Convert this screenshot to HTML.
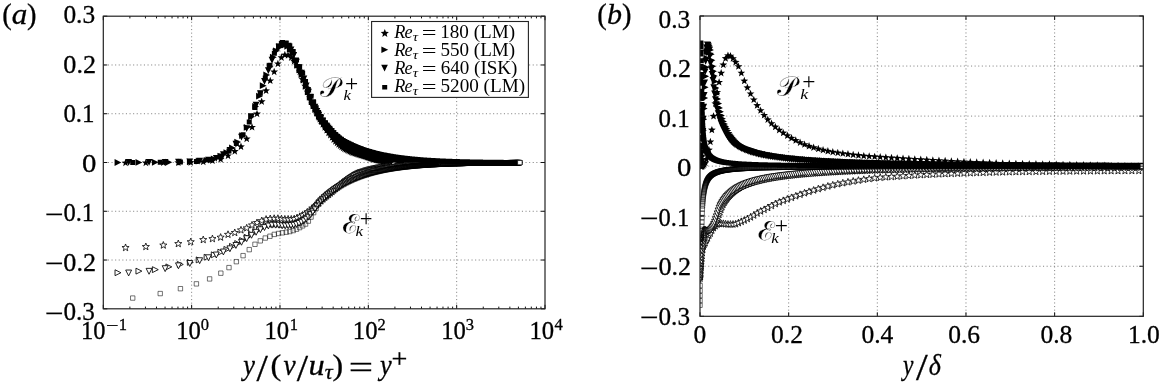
<!DOCTYPE html><html><head><meta charset="utf-8"><style>html,body{margin:0;padding:0;background:#fff;}svg{display:block}</style></head><body>
<svg width="1160" height="388" viewBox="0 0 1160 388">
<rect x="0" y="0" width="1160" height="388" fill="#fff"/>
<path d="M191.64 18.2V307.8M279.98 18.2V307.8M368.32 18.2V307.8M456.66 18.2V307.8M104.3 64.97H544.0M104.3 113.73H544.0M104.3 162.50H544.0M104.3 211.27H544.0M104.3 260.03H544.0" stroke="#7a7a7a" stroke-width="0.9" stroke-dasharray="1.1 2.5" fill="none"/>
<path d="M788.66 18.0V315.3M877.32 18.0V315.3M965.98 18.0V315.3M1054.64 18.0V315.3M701.0 66.05H1142.3M701.0 116.10H1142.3M701.0 166.15H1142.3M701.0 216.20H1142.3M701.0 266.25H1142.3" stroke="#7a7a7a" stroke-width="0.9" stroke-dasharray="1.1 2.5" fill="none"/>
<clipPath id="ca"><rect x="103.3" y="16.2" width="441.7" height="292.6"/></clipPath>
<clipPath id="cb"><rect x="700.0" y="16.0" width="443.29999999999995" height="300.3"/></clipPath>
<defs>
<path id="m1" d="M0.00 -3.38L0.93 -0.90L3.57 -0.78L1.50 0.86L2.20 3.41L0.00 1.95L-2.20 3.41L-1.50 0.86L-3.57 -0.78L-0.93 -0.90Z" fill="#fff" stroke="#000" stroke-width="0.8"/>
<path id="m2" d="M-2.95 -2.95L2.95 0.00L-2.95 2.95Z" fill="#fff" stroke="#000" stroke-width="0.85"/>
<path id="m3" d="M-2.95 -2.95L2.95 -2.95L0.00 2.95Z" fill="#fff" stroke="#000" stroke-width="0.85"/>
<path id="m4" d="M-2.20 -2.20L2.20 -2.20L2.20 2.20L-2.20 2.20Z" fill="#fff" stroke="#000" stroke-width="0.6"/>
</defs>
<g clip-path="url(#ca)">
<path d="M125.55 158.79L126.56 161.50L129.45 161.63L127.19 163.42L127.96 166.21L125.55 164.61L123.14 166.21L123.91 163.42L121.65 161.63L124.54 161.50ZM145.83 158.76L146.84 161.47L149.73 161.60L147.47 163.40L148.24 166.18L145.83 164.59L143.42 166.18L144.19 163.40L141.93 161.60L144.82 161.47ZM163.32 158.71L164.33 161.41L167.22 161.54L164.96 163.34L165.73 166.12L163.32 164.53L160.91 166.12L161.68 163.34L159.42 161.54L162.31 161.41ZM178.28 158.59L179.30 161.30L182.18 161.42L179.92 163.22L180.69 166.01L178.28 164.41L175.87 166.01L176.65 163.22L174.38 161.42L177.27 161.30ZM190.71 158.43L191.72 161.14L194.61 161.27L192.35 163.07L193.12 165.85L190.71 164.26L188.30 165.85L189.07 163.07L186.81 161.27L189.70 161.14ZM203.24 157.80L204.26 160.51L207.14 160.63L204.88 162.43L205.65 165.22L203.24 163.62L200.83 165.22L201.61 162.43L199.34 160.63L202.23 160.51ZM212.43 156.70L213.44 159.41L216.33 159.53L214.07 161.33L214.84 164.12L212.43 162.52L210.02 164.12L210.79 161.33L208.53 159.53L211.42 159.41ZM220.63 155.25L221.64 157.96L224.53 158.09L222.27 159.88L223.04 162.67L220.63 161.07L218.22 162.67L218.99 159.88L216.73 158.09L219.62 157.96ZM228.03 151.74L229.05 154.45L231.93 154.57L229.67 156.37L230.44 159.16L228.03 157.56L225.62 159.16L226.40 156.37L224.13 154.57L227.02 154.45ZM234.78 147.28L235.79 149.98L238.68 150.11L236.42 151.91L237.19 154.69L234.78 153.10L232.37 154.69L233.14 151.91L230.88 150.11L233.77 149.98ZM240.98 142.62L241.99 145.33L244.88 145.46L242.62 147.26L243.39 150.04L240.98 148.45L238.57 150.04L239.34 147.26L237.08 145.46L239.97 145.33ZM246.71 134.76L247.72 137.47L250.61 137.59L248.34 139.39L249.12 142.18L246.71 140.58L244.30 142.18L245.07 139.39L242.81 137.59L245.69 137.47ZM252.03 123.20L253.05 125.91L255.93 126.03L253.67 127.83L254.44 130.62L252.03 129.02L249.62 130.62L250.40 127.83L248.13 126.03L251.02 125.91ZM257.01 109.77L258.02 112.48L260.91 112.61L258.65 114.40L259.42 117.19L257.01 115.59L254.60 117.19L255.37 114.40L253.11 112.61L256.00 112.48ZM261.68 97.53L262.69 100.23L265.58 100.36L263.32 102.16L264.09 104.94L261.68 103.35L259.27 104.94L260.04 102.16L257.78 100.36L260.67 100.23ZM266.08 86.62L267.09 89.33L269.98 89.45L267.71 91.25L268.49 94.04L266.08 92.44L263.67 94.04L264.44 91.25L262.18 89.45L265.06 89.33ZM270.23 76.68L271.24 79.39L274.13 79.51L271.87 81.31L272.64 84.10L270.23 82.50L267.82 84.10L268.59 81.31L266.33 79.51L269.22 79.39ZM274.17 67.76L275.18 70.47L278.07 70.59L275.80 72.39L276.58 75.18L274.17 73.58L271.76 75.18L272.53 72.39L270.27 70.59L273.15 70.47ZM277.91 59.74L278.92 62.45L281.80 62.57L279.54 64.37L280.32 67.16L277.91 65.56L275.50 67.16L276.27 64.37L274.01 62.57L276.89 62.45ZM281.47 53.53L282.48 56.24L285.37 56.36L283.10 58.16L283.88 60.95L281.47 59.35L279.06 60.95L279.83 58.16L277.57 56.36L280.45 56.24ZM284.87 50.82L285.88 53.52L288.76 53.65L286.50 55.45L287.28 58.23L284.87 56.64L282.46 58.23L283.23 55.45L280.97 53.65L283.85 53.52ZM288.12 51.21L289.13 53.92L292.01 54.05L289.75 55.85L290.53 58.63L288.12 57.03L285.71 58.63L286.48 55.85L284.22 54.05L287.10 53.92ZM291.23 53.55L292.24 56.26L295.13 56.38L292.87 58.18L293.64 60.97L291.23 59.37L288.82 60.97L289.59 58.18L287.33 56.38L290.22 56.26ZM294.22 57.17L295.23 59.87L298.12 60.00L295.85 61.80L296.63 64.58L294.22 62.99L291.81 64.58L292.58 61.80L290.32 60.00L293.20 59.87ZM297.09 61.34L298.10 64.05L300.99 64.18L298.73 65.98L299.50 68.76L297.09 67.17L294.68 68.76L295.45 65.98L293.19 64.18L296.08 64.05ZM299.85 67.72L300.86 70.42L303.75 70.55L301.49 72.35L302.26 75.14L299.85 73.54L297.44 75.14L298.21 72.35L295.95 70.55L298.84 70.42ZM302.51 75.42L303.53 78.12L306.41 78.25L304.15 80.05L304.92 82.83L302.51 81.24L300.10 82.83L300.88 80.05L298.61 78.25L301.50 78.12ZM305.08 81.92L306.09 84.63L308.98 84.76L306.72 86.55L307.49 89.34L305.08 87.74L302.67 89.34L303.44 86.55L301.18 84.76L304.07 84.63ZM307.56 87.93L308.57 90.64L311.46 90.76L309.20 92.56L309.97 95.35L307.56 93.75L305.15 95.35L305.92 92.56L303.66 90.76L306.55 90.64ZM309.96 93.76L310.97 96.47L313.86 96.60L311.60 98.40L312.37 101.18L309.96 99.59L307.55 101.18L308.32 98.40L306.06 96.60L308.95 96.47ZM312.28 99.24L313.29 101.95L316.18 102.08L313.92 103.88L314.69 106.66L312.28 105.07L309.87 106.66L310.64 103.88L308.38 102.08L311.27 101.95ZM314.53 104.24L315.54 106.95L318.43 107.08L316.17 108.88L316.94 111.66L314.53 110.07L312.12 111.66L312.89 108.88L310.63 107.08L313.52 106.95ZM316.71 108.85L317.72 111.56L320.61 111.68L318.35 113.48L319.12 116.27L316.71 114.67L314.30 116.27L315.07 113.48L312.81 111.68L315.70 111.56ZM318.83 113.10L319.84 115.80L322.73 115.93L320.46 117.73L321.24 120.51L318.83 118.92L316.42 120.51L317.19 117.73L314.93 115.93L317.81 115.80ZM320.88 116.91L321.89 119.61L324.78 119.74L322.52 121.54L323.29 124.32L320.88 122.73L318.47 124.32L319.24 121.54L316.98 119.74L319.87 119.61ZM322.88 120.28L323.89 122.99L326.78 123.11L324.51 124.91L325.29 127.70L322.88 126.10L320.47 127.70L321.24 124.91L318.98 123.11L321.86 122.99ZM324.82 123.32L325.83 126.03L328.72 126.15L326.45 127.95L327.23 130.74L324.82 129.14L322.41 130.74L323.18 127.95L320.92 126.15L323.80 126.03ZM326.70 126.13L327.72 128.83L330.60 128.96L328.34 130.76L329.11 133.54L326.70 131.95L324.29 133.54L325.07 130.76L322.81 128.96L325.69 128.83ZM328.54 128.75L329.56 131.45L332.44 131.58L330.18 133.38L330.95 136.16L328.54 134.57L326.13 136.16L326.91 133.38L324.64 131.58L327.53 131.45ZM330.33 131.17L331.35 133.87L334.23 134.00L331.97 135.80L332.74 138.58L330.33 136.99L327.92 138.58L328.70 135.80L326.43 134.00L329.32 133.87ZM332.08 133.39L333.09 136.10L335.98 136.22L333.72 138.02L334.49 140.81L332.08 139.21L329.67 140.81L330.44 138.02L328.18 136.22L331.07 136.10ZM333.78 135.46L334.79 138.17L337.68 138.30L335.42 140.10L336.19 142.88L333.78 141.29L331.37 142.88L332.14 140.10L329.88 138.30L332.77 138.17ZM335.44 137.34L336.45 140.05L339.34 140.17L337.08 141.97L337.85 144.76L335.44 143.16L333.03 144.76L333.80 141.97L331.54 140.17L334.43 140.05ZM337.06 138.95L338.07 141.65L340.96 141.78L338.70 143.58L339.47 146.36L337.06 144.77L334.65 146.36L335.42 143.58L333.16 141.78L336.05 141.65ZM338.64 140.34L339.66 143.05L342.54 143.18L340.28 144.98L341.05 147.76L338.64 146.17L336.23 147.76L337.01 144.98L334.75 143.18L337.63 143.05ZM340.19 141.61L341.20 144.32L344.09 144.44L341.83 146.24L342.60 149.03L340.19 147.43L337.78 149.03L338.55 146.24L336.29 144.44L339.18 144.32ZM341.70 142.80L342.71 145.51L345.60 145.64L343.34 147.44L344.11 150.22L341.70 148.63L339.29 150.22L340.06 147.44L337.80 145.64L340.69 145.51ZM343.18 143.87L344.19 146.57L347.08 146.70L344.82 148.50L345.59 151.28L343.18 149.69L340.77 151.28L341.54 148.50L339.28 146.70L342.17 146.57ZM344.62 144.72L345.63 147.43L348.52 147.56L346.26 149.36L347.03 152.14L344.62 150.55L342.21 152.14L342.99 149.36L340.72 147.56L343.61 147.43ZM346.04 145.44L347.05 148.15L349.94 148.28L347.67 150.07L348.45 152.86L346.04 151.26L343.63 152.86L344.40 150.07L342.14 148.28L345.02 148.15ZM347.42 146.12L348.43 148.83L351.32 148.95L349.06 150.75L349.83 153.54L347.42 151.94L345.01 153.54L345.78 150.75L343.52 148.95L346.41 148.83ZM348.77 146.77L349.79 149.48L352.67 149.60L350.41 151.40L351.18 154.19L348.77 152.59L346.36 154.19L347.14 151.40L344.87 149.60L347.76 149.48ZM350.10 147.38L351.11 150.09L354.00 150.21L351.74 152.01L352.51 154.80L350.10 153.20L347.69 154.80L348.46 152.01L346.20 150.21L349.09 150.09ZM351.40 147.97L352.41 150.68L355.30 150.80L353.04 152.60L353.81 155.39L351.40 153.79L348.99 155.39L349.76 152.60L347.50 150.80L350.39 150.68ZM352.67 148.50L353.68 151.21L356.57 151.33L354.31 153.13L355.08 155.92L352.67 154.32L350.26 155.92L351.03 153.13L348.77 151.33L351.66 151.21ZM353.92 148.91L354.93 151.62L357.82 151.74L355.56 153.54L356.33 156.33L353.92 154.73L351.51 156.33L352.28 153.54L350.02 151.74L352.91 151.62ZM355.14 149.26L356.15 151.97L359.04 152.10L356.78 153.90L357.55 156.68L355.14 155.09L352.73 156.68L353.50 153.90L351.24 152.10L354.13 151.97ZM356.34 149.63L357.35 152.34L360.24 152.46L357.98 154.26L358.75 157.05L356.34 155.45L353.93 157.05L354.70 154.26L352.44 152.46L355.33 152.34ZM357.51 150.00L358.53 152.70L361.41 152.83L359.15 154.63L359.92 157.41L357.51 155.82L355.10 157.41L355.88 154.63L353.62 152.83L356.50 152.70ZM358.67 150.35L359.68 153.06L362.57 153.19L360.31 154.99L361.08 157.77L358.67 156.18L356.26 157.77L357.03 154.99L354.77 153.19L357.66 153.06ZM359.80 150.71L360.81 153.41L363.70 153.54L361.44 155.34L362.21 158.13L359.80 156.53L357.39 158.13L358.16 155.34L355.90 153.54L358.79 153.41ZM360.91 151.05L361.92 153.76L364.81 153.89L362.55 155.69L363.32 158.47L360.91 156.88L358.50 158.47L359.27 155.69L357.01 153.89L359.90 153.76ZM362.00 151.39L363.01 154.10L365.90 154.23L363.64 156.03L364.41 158.81L362.00 157.22L359.59 158.81L360.36 156.03L358.10 154.23L360.99 154.10ZM363.07 151.73L364.08 154.43L366.97 154.56L364.71 156.36L365.48 159.14L363.07 157.55L360.66 159.14L361.43 156.36L359.17 154.56L362.06 154.43ZM364.12 152.05L365.13 154.76L368.02 154.88L365.76 156.68L366.53 159.47L364.12 157.87L361.71 159.47L362.48 156.68L360.22 154.88L363.11 154.76ZM365.15 152.37L366.17 155.08L369.05 155.21L366.79 157.01L367.56 159.79L365.15 158.20L362.74 159.79L363.52 157.01L361.25 155.21L364.14 155.08ZM366.17 152.70L367.18 155.41L370.07 155.53L367.81 157.33L368.58 160.12L366.17 158.52L363.76 160.12L364.53 157.33L362.27 155.53L365.16 155.41ZM367.16 153.03L368.18 155.73L371.06 155.86L368.80 157.66L369.57 160.44L367.16 158.85L364.75 160.44L365.53 157.66L363.26 155.86L366.15 155.73ZM368.14 153.35L369.15 156.05L372.04 156.18L369.78 157.98L370.55 160.76L368.14 159.17L365.73 160.76L366.50 157.98L364.24 156.18L367.13 156.05ZM369.10 153.66L370.12 156.37L373.00 156.49L370.74 158.29L371.51 161.08L369.10 159.48L366.69 161.08L367.47 158.29L365.20 156.49L368.09 156.37ZM370.05 153.96L371.06 156.67L373.95 156.80L371.69 158.60L372.46 161.38L370.05 159.79L367.64 161.38L368.41 158.60L366.15 156.80L369.04 156.67ZM370.98 154.26L371.99 156.97L374.88 157.09L372.62 158.89L373.39 161.68L370.98 160.08L368.57 161.68L369.34 158.89L367.08 157.09L369.97 156.97ZM371.89 154.54L372.90 157.25L375.79 157.37L373.53 159.17L374.30 161.96L371.89 160.36L369.48 161.96L370.25 159.17L367.99 157.37L370.88 157.25ZM372.79 154.81L373.80 157.52L376.69 157.64L374.43 159.44L375.20 162.23L372.79 160.63L370.38 162.23L371.15 159.44L368.89 157.64L371.78 157.52ZM373.67 155.06L374.68 157.77L377.57 157.89L375.31 159.69L376.08 162.48L373.67 160.88L371.26 162.48L372.03 159.69L369.77 157.89L372.66 157.77ZM374.54 155.30L375.55 158.00L378.44 158.13L376.18 159.93L376.95 162.71L374.54 161.12L372.13 162.71L372.90 159.93L370.64 158.13L373.53 158.00ZM375.39 155.51L376.41 158.22L379.29 158.35L377.03 160.15L377.80 162.93L375.39 161.34L372.98 162.93L373.76 160.15L371.49 158.35L374.38 158.22ZM376.23 155.71L377.25 158.42L380.13 158.55L377.87 160.35L378.64 163.13L376.23 161.54L373.82 163.13L374.60 160.35L372.33 158.55L375.22 158.42ZM377.06 155.90L378.07 158.60L380.96 158.73L378.70 160.53L379.47 163.31L377.06 161.72L374.65 163.31L375.42 160.53L373.16 158.73L376.05 158.60ZM377.87 156.06L378.88 158.77L381.77 158.90L379.51 160.70L380.28 163.48L377.87 161.89L375.46 163.48L376.23 160.70L373.97 158.90L376.86 158.77ZM378.67 156.22L379.68 158.93L382.57 159.05L380.31 160.85L381.08 163.64L378.67 162.04L376.26 163.64L377.03 160.85L374.77 159.05L377.66 158.93ZM379.46 156.37L380.47 159.07L383.36 159.20L381.10 161.00L381.87 163.78L379.46 162.19L377.05 163.78L377.82 161.00L375.56 159.20L378.45 159.07ZM380.23 156.51L381.24 159.21L384.13 159.34L381.87 161.14L382.64 163.92L380.23 162.33L377.82 163.92L378.59 161.14L376.33 159.34L379.22 159.21ZM380.99 156.64L382.01 159.35L384.89 159.47L382.63 161.27L383.40 164.06L380.99 162.46L378.58 164.06L379.36 161.27L377.09 159.47L379.98 159.35ZM381.74 156.77L382.76 159.48L385.64 159.61L383.38 161.40L384.15 164.19L381.74 162.59L379.33 164.19L380.11 161.40L377.84 159.61L380.73 159.48ZM382.48 156.90L383.49 159.61L386.38 159.74L384.12 161.54L384.89 164.32L382.48 162.73L380.07 164.32L380.84 161.54L378.58 159.74L381.47 159.61ZM383.21 157.03L384.22 159.74L387.11 159.87L384.84 161.67L385.62 164.45L383.21 162.86L380.80 164.45L381.57 161.67L379.31 159.87L382.19 159.74ZM383.92 157.17L384.93 159.88L387.82 160.00L385.56 161.80L386.33 164.59L383.92 162.99L381.51 164.59L382.28 161.80L380.02 160.00L382.91 159.88ZM384.62 157.31L385.64 160.01L388.52 160.14L386.26 161.94L387.03 164.72L384.62 163.13L382.21 164.72L382.99 161.94L380.72 160.14L383.61 160.01ZM385.32 157.45L386.33 160.15L389.22 160.28L386.95 162.08L387.73 164.86L385.32 163.27L382.91 164.86L383.68 162.08L381.42 160.28L384.30 160.15ZM386.00 157.59L387.01 160.30L389.90 160.43L387.64 162.23L388.41 165.01L386.00 163.41L383.59 165.01L384.36 162.23L382.10 160.43L384.99 160.30ZM386.67 157.74L387.68 160.45L390.57 160.58L388.31 162.38L389.08 165.16L386.67 163.57L384.26 165.16L385.03 162.38L382.77 160.58L385.66 160.45ZM387.33 157.90L388.34 160.61L391.23 160.73L388.97 162.53L389.74 165.32L387.33 163.72L384.92 165.32L385.69 162.53L383.43 160.73L386.32 160.61ZM387.98 158.06L388.99 160.77L391.88 160.89L389.62 162.69L390.39 165.48L387.98 163.88L385.57 165.48L386.34 162.69L384.08 160.89L386.97 160.77ZM388.62 158.22L389.63 160.93L392.52 161.05L390.26 162.85L391.03 165.64L388.62 164.04L386.21 165.64L386.98 162.85L384.72 161.05L387.61 160.93ZM389.25 158.38L390.26 161.09L393.15 161.21L390.89 163.01L391.66 165.80L389.25 164.20L386.84 165.80L387.61 163.01L385.35 161.21L388.24 161.09ZM389.87 158.54L390.88 161.25L393.77 161.38L391.51 163.18L392.28 165.96L389.87 164.37L387.46 165.96L388.23 163.18L385.97 161.38L388.86 161.25ZM390.48 158.71L391.49 161.41L394.38 161.54L392.12 163.34L392.89 166.12L390.48 164.53L388.07 166.12L388.84 163.34L386.58 161.54L389.47 161.41Z" fill="#000"/>
<use href="#m1" x="125.55" y="247.35"/><use href="#m1" x="145.83" y="246.38"/><use href="#m1" x="163.32" y="244.91"/><use href="#m1" x="178.28" y="243.42"/><use href="#m1" x="190.71" y="241.55"/><use href="#m1" x="203.24" y="239.43"/><use href="#m1" x="212.43" y="238.46"/><use href="#m1" x="220.63" y="237.00"/><use href="#m1" x="228.03" y="234.19"/><use href="#m1" x="234.78" y="232.37"/><use href="#m1" x="240.98" y="229.73"/><use href="#m1" x="246.71" y="227.71"/><use href="#m1" x="252.03" y="224.79"/><use href="#m1" x="257.01" y="222.37"/><use href="#m1" x="261.68" y="220.51"/><use href="#m1" x="266.08" y="218.98"/><use href="#m1" x="270.23" y="218.38"/><use href="#m1" x="274.17" y="218.15"/><use href="#m1" x="277.91" y="218.13"/><use href="#m1" x="281.47" y="218.56"/><use href="#m1" x="284.87" y="218.83"/><use href="#m1" x="288.12" y="218.83"/><use href="#m1" x="291.23" y="218.83"/><use href="#m1" x="294.22" y="218.56"/><use href="#m1" x="297.09" y="217.49"/><use href="#m1" x="299.85" y="216.22"/><use href="#m1" x="302.51" y="214.96"/><use href="#m1" x="305.08" y="213.51"/><use href="#m1" x="307.56" y="211.92"/><use href="#m1" x="309.96" y="210.06"/><use href="#m1" x="312.28" y="207.98"/><use href="#m1" x="314.53" y="206.11"/><use href="#m1" x="316.71" y="204.52"/><use href="#m1" x="318.83" y="202.70"/><use href="#m1" x="320.88" y="200.77"/><use href="#m1" x="322.88" y="198.91"/><use href="#m1" x="324.82" y="197.25"/><use href="#m1" x="326.70" y="195.76"/><use href="#m1" x="328.54" y="194.32"/><use href="#m1" x="330.33" y="192.85"/><use href="#m1" x="332.08" y="191.34"/><use href="#m1" x="333.78" y="189.83"/><use href="#m1" x="335.44" y="188.39"/><use href="#m1" x="337.06" y="187.02"/><use href="#m1" x="338.64" y="185.68"/><use href="#m1" x="340.19" y="184.35"/><use href="#m1" x="341.70" y="183.03"/><use href="#m1" x="343.18" y="181.78"/><use href="#m1" x="344.62" y="180.64"/><use href="#m1" x="346.04" y="179.60"/><use href="#m1" x="347.42" y="178.63"/><use href="#m1" x="348.77" y="177.73"/><use href="#m1" x="350.10" y="176.88"/><use href="#m1" x="351.40" y="176.04"/><use href="#m1" x="352.67" y="175.23"/><use href="#m1" x="353.92" y="174.49"/><use href="#m1" x="355.14" y="173.81"/><use href="#m1" x="356.34" y="173.25"/><use href="#m1" x="357.51" y="172.85"/><use href="#m1" x="358.67" y="172.52"/><use href="#m1" x="359.80" y="172.18"/><use href="#m1" x="360.91" y="171.80"/><use href="#m1" x="362.00" y="171.41"/><use href="#m1" x="363.07" y="171.05"/><use href="#m1" x="364.12" y="170.73"/><use href="#m1" x="365.15" y="170.45"/><use href="#m1" x="366.17" y="170.19"/><use href="#m1" x="367.16" y="169.94"/><use href="#m1" x="368.14" y="169.71"/><use href="#m1" x="369.10" y="169.49"/><use href="#m1" x="370.05" y="169.28"/><use href="#m1" x="370.98" y="169.08"/><use href="#m1" x="371.89" y="168.88"/><use href="#m1" x="372.79" y="168.68"/><use href="#m1" x="373.67" y="168.49"/><use href="#m1" x="374.54" y="168.31"/><use href="#m1" x="375.39" y="168.15"/><use href="#m1" x="376.23" y="168.00"/><use href="#m1" x="377.06" y="167.88"/><use href="#m1" x="377.87" y="167.77"/><use href="#m1" x="378.67" y="167.67"/><use href="#m1" x="379.46" y="167.58"/><use href="#m1" x="380.23" y="167.50"/><use href="#m1" x="380.99" y="167.42"/><use href="#m1" x="381.74" y="167.35"/><use href="#m1" x="382.48" y="167.28"/><use href="#m1" x="383.21" y="167.22"/><use href="#m1" x="383.92" y="167.16"/><use href="#m1" x="384.62" y="167.10"/><use href="#m1" x="385.32" y="167.04"/><use href="#m1" x="386.00" y="166.99"/><use href="#m1" x="386.67" y="166.93"/><use href="#m1" x="387.33" y="166.88"/><use href="#m1" x="387.98" y="166.83"/><use href="#m1" x="388.62" y="166.79"/><use href="#m1" x="389.25" y="166.75"/><use href="#m1" x="389.87" y="166.71"/><use href="#m1" x="390.48" y="166.67"/>
<path d="M114.58 159.08L121.38 162.48L114.58 165.88ZM135.51 159.03L142.31 162.43L135.51 165.83ZM151.93 158.96L158.73 162.36L151.93 165.76ZM165.44 158.83L172.24 162.23L165.44 165.63ZM176.93 158.64L183.73 162.04L176.93 165.44ZM186.92 158.41L193.72 161.81L186.92 165.21ZM195.76 157.80L202.56 161.20L195.76 164.60ZM203.68 156.88L210.48 160.28L203.68 163.68ZM210.86 155.61L217.66 159.01L210.86 162.41ZM217.43 152.70L224.23 156.10L217.43 159.50ZM223.47 149.20L230.27 152.60L223.47 156.00ZM229.07 144.50L235.87 147.90L229.07 151.30ZM234.29 138.71L241.09 142.11L234.29 145.51ZM239.18 132.21L245.98 135.61L239.18 139.01ZM243.77 124.06L250.57 127.46L243.77 130.86ZM248.11 113.33L254.91 116.73L248.11 120.13ZM252.21 103.04L259.01 106.44L252.21 109.84ZM256.10 92.80L262.90 96.20L256.10 99.60ZM259.80 82.26L266.60 85.66L259.80 89.06ZM263.33 71.55L270.13 74.95L263.33 78.35ZM266.71 62.77L273.51 66.17L266.71 69.57ZM269.94 53.78L276.74 57.18L269.94 60.58ZM273.04 47.43L279.84 50.83L273.04 54.23ZM276.02 43.59L282.82 46.99L276.02 50.39ZM278.88 41.33L285.68 44.73L278.88 48.13ZM281.65 41.68L288.45 45.08L281.65 48.48ZM284.31 42.89L291.11 46.29L284.31 49.69ZM286.88 45.83L293.68 49.23L286.88 52.63ZM289.37 50.04L296.17 53.44L289.37 56.84ZM291.79 56.01L298.59 59.41L291.79 62.81ZM294.12 61.74L300.92 65.14L294.12 68.54ZM296.39 66.52L303.19 69.92L296.39 73.32ZM298.59 71.22L305.39 74.62L298.59 78.02ZM300.73 76.60L307.53 80.00L300.73 83.40ZM302.81 82.97L309.61 86.37L302.81 89.77ZM304.83 88.54L311.63 91.94L304.83 95.34ZM306.80 93.60L313.60 97.00L306.80 100.40ZM308.72 98.11L315.52 101.51L308.72 104.91ZM310.59 102.33L317.39 105.73L310.59 109.13ZM312.42 106.21L319.22 109.61L312.42 113.01ZM314.20 109.73L321.00 113.13L314.20 116.53ZM315.94 112.85L322.74 116.25L315.94 119.65ZM317.65 115.61L324.45 119.01L317.65 122.41ZM319.31 118.12L326.11 121.52L319.31 124.92ZM320.94 120.42L327.74 123.82L320.94 127.22ZM322.53 122.53L329.33 125.93L322.53 129.33ZM324.09 124.47L330.89 127.87L324.09 131.27ZM325.62 126.27L332.42 129.67L325.62 133.07ZM327.11 127.98L333.91 131.38L327.11 134.78ZM328.58 129.61L335.38 133.01L328.58 136.41ZM330.02 131.14L336.82 134.54L330.02 137.94ZM331.43 132.57L338.23 135.97L331.43 139.37ZM332.82 133.90L339.62 137.30L332.82 140.70ZM334.18 135.11L340.98 138.51L334.18 141.91ZM335.51 136.19L342.31 139.59L335.51 142.99ZM336.82 137.16L343.62 140.56L336.82 143.96ZM338.11 138.04L344.91 141.44L338.11 144.84ZM339.37 138.86L346.17 142.26L339.37 145.66ZM340.62 139.62L347.42 143.02L340.62 146.42ZM341.84 140.34L348.64 143.74L341.84 147.14ZM343.04 141.01L349.84 144.41L343.04 147.81ZM344.23 141.64L351.03 145.04L344.23 148.44ZM345.39 142.24L352.19 145.64L345.39 149.04ZM346.54 142.81L353.34 146.21L346.54 149.61ZM347.67 143.35L354.47 146.75L347.67 150.15ZM348.78 143.86L355.58 147.26L348.78 150.66ZM349.87 144.36L356.67 147.76L349.87 151.16ZM350.95 144.83L357.75 148.23L350.95 151.63ZM352.01 145.29L358.81 148.69L352.01 152.09ZM353.06 145.73L359.86 149.13L353.06 152.53ZM354.09 146.16L360.89 149.56L354.09 152.96ZM355.10 146.57L361.90 149.97L355.10 153.37ZM356.11 146.96L362.91 150.36L356.11 153.76ZM357.09 147.33L363.89 150.73L357.09 154.13ZM358.07 147.70L364.87 151.10L358.07 154.50ZM359.03 148.04L365.83 151.44L359.03 154.84ZM359.98 148.37L366.78 151.77L359.98 155.17ZM360.92 148.69L367.72 152.09L360.92 155.49ZM361.84 148.99L368.64 152.39L361.84 155.79ZM362.75 149.27L369.55 152.67L362.75 156.07ZM363.65 149.54L370.45 152.94L363.65 156.34ZM364.54 149.80L371.34 153.20L364.54 156.60ZM365.42 150.06L372.22 153.46L365.42 156.86ZM366.28 150.31L373.08 153.71L366.28 157.11ZM367.14 150.55L373.94 153.95L367.14 157.35ZM367.98 150.79L374.78 154.19L367.98 157.59ZM368.82 151.01L375.62 154.41L368.82 157.81ZM369.65 151.23L376.45 154.63L369.65 158.03ZM370.46 151.45L377.26 154.85L370.46 158.25ZM371.27 151.65L378.07 155.05L371.27 158.45ZM372.06 151.85L378.86 155.25L372.06 158.65ZM372.85 152.04L379.65 155.44L372.85 158.84ZM373.63 152.23L380.43 155.63L373.63 159.03ZM374.40 152.41L381.20 155.81L374.40 159.21ZM375.16 152.59L381.96 155.99L375.16 159.39ZM375.91 152.76L382.71 156.16L375.91 159.56ZM376.66 152.92L383.46 156.32L376.66 159.72ZM377.39 153.08L384.19 156.48L377.39 159.88ZM378.12 153.24L384.92 156.64L378.12 160.04ZM378.84 153.39L385.64 156.79L378.84 160.19ZM379.55 153.53L386.35 156.93L379.55 160.33ZM380.26 153.67L387.06 157.07L380.26 160.47ZM380.96 153.81L387.76 157.21L380.96 160.61ZM381.65 153.95L388.45 157.35L381.65 160.75ZM382.33 154.08L389.13 157.48L382.33 160.88ZM383.00 154.20L389.80 157.60L383.00 161.00ZM383.67 154.33L390.47 157.73L383.67 161.13ZM384.34 154.45L391.14 157.85L384.34 161.25ZM384.99 154.56L391.79 157.96L384.99 161.36ZM385.64 154.67L392.44 158.07L385.64 161.47ZM386.28 154.78L393.08 158.18L386.28 161.58ZM386.92 154.89L393.72 158.29L386.92 161.69ZM387.55 155.00L394.35 158.40L387.55 161.80ZM388.17 155.10L394.97 158.50L388.17 161.90ZM388.79 155.20L395.59 158.60L388.79 162.00ZM389.40 155.29L396.20 158.69L389.40 162.09ZM390.01 155.39L396.81 158.79L390.01 162.19ZM390.61 155.48L397.41 158.88L390.61 162.28ZM391.21 155.57L398.01 158.97L391.21 162.37ZM391.80 155.66L398.60 159.06L391.80 162.46ZM392.38 155.74L399.18 159.14L392.38 162.54ZM392.96 155.82L399.76 159.22L392.96 162.62ZM393.53 155.91L400.33 159.31L393.53 162.71ZM394.10 155.98L400.90 159.38L394.10 162.78ZM394.66 156.06L401.46 159.46L394.66 162.86ZM395.22 156.14L402.02 159.54L395.22 162.94ZM395.77 156.21L402.57 159.61L395.77 163.01ZM396.32 156.28L403.12 159.68L396.32 163.08ZM396.86 156.35L403.66 159.75L396.86 163.15ZM397.40 156.42L404.20 159.82L397.40 163.22ZM397.93 156.49L404.73 159.89L397.93 163.29ZM398.46 156.55L405.26 159.95L398.46 163.35ZM398.98 156.62L405.78 160.02L398.98 163.42ZM399.50 156.68L406.30 160.08L399.50 163.48ZM400.02 156.74L406.82 160.14L400.02 163.54ZM400.53 156.80L407.33 160.20L400.53 163.60ZM401.03 156.86L407.83 160.26L401.03 163.66ZM401.54 156.92L408.34 160.32L401.54 163.72ZM402.03 156.97L408.83 160.37L402.03 163.77ZM402.53 157.03L409.33 160.43L402.53 163.83ZM403.02 157.08L409.82 160.48L403.02 163.88ZM403.50 157.13L410.30 160.53L403.50 163.93ZM403.98 157.18L410.78 160.58L403.98 163.98ZM404.46 157.23L411.26 160.63L404.46 164.03ZM404.93 157.28L411.73 160.68L404.93 164.08ZM405.40 157.33L412.20 160.73L405.40 164.13ZM405.87 157.38L412.67 160.78L405.87 164.18ZM406.33 157.42L413.13 160.82L406.33 164.22ZM406.79 157.47L413.59 160.87L406.79 164.27ZM407.24 157.51L414.04 160.91L407.24 164.31ZM407.69 157.55L414.49 160.95L407.69 164.35ZM408.14 157.60L414.94 161.00L408.14 164.40ZM408.58 157.64L415.38 161.04L408.58 164.44ZM409.02 157.68L415.82 161.08L409.02 164.48ZM409.45 157.72L416.25 161.12L409.45 164.52ZM409.89 157.76L416.69 161.16L409.89 164.56ZM410.32 157.80L417.12 161.20L410.32 164.60ZM410.74 157.83L417.54 161.23L410.74 164.63ZM411.16 157.87L417.96 161.27L411.16 164.67ZM411.58 157.91L418.38 161.31L411.58 164.71ZM412.00 157.94L418.80 161.34L412.00 164.74ZM412.41 157.98L419.21 161.38L412.41 164.78ZM412.82 158.01L419.62 161.41L412.82 164.81ZM413.23 158.04L420.03 161.44L413.23 164.84ZM413.63 158.08L420.43 161.48L413.63 164.88ZM414.03 158.11L420.83 161.51L414.03 164.91ZM414.43 158.14L421.23 161.54L414.43 164.94ZM414.82 158.17L421.62 161.57L414.82 164.97ZM415.21 158.20L422.01 161.60L415.21 165.00ZM415.60 158.23L422.40 161.63L415.60 165.03ZM415.99 158.26L422.79 161.66L415.99 165.06ZM416.37 158.29L423.17 161.69L416.37 165.09ZM416.75 158.32L423.55 161.72L416.75 165.12ZM417.12 158.34L423.92 161.74L417.12 165.14ZM417.50 158.37L424.30 161.77L417.50 165.17ZM417.87 158.40L424.67 161.80L417.87 165.20ZM418.23 158.42L425.03 161.82L418.23 165.22ZM418.60 158.45L425.40 161.85L418.60 165.25ZM418.96 158.47L425.76 161.87L418.96 165.27ZM419.32 158.50L426.12 161.90L419.32 165.30ZM419.68 158.52L426.48 161.92L419.68 165.32ZM420.03 158.55L426.83 161.95L420.03 165.35ZM420.38 158.57L427.18 161.97L420.38 165.37ZM420.73 158.59L427.53 161.99L420.73 165.39ZM421.08 158.61L427.88 162.01L421.08 165.41ZM421.42 158.64L428.22 162.04L421.42 165.44ZM421.76 158.66L428.56 162.06L421.76 165.46ZM422.10 158.68L428.90 162.08L422.10 165.48ZM422.44 158.70L429.24 162.10L422.44 165.50ZM422.77 158.72L429.57 162.12L422.77 165.52ZM423.11 158.74L429.91 162.14L423.11 165.54ZM423.43 158.76L430.23 162.16L423.43 165.56ZM423.76 158.78L430.56 162.18L423.76 165.58ZM424.09 158.80L430.89 162.20L424.09 165.60ZM424.41 158.81L431.21 162.21L424.41 165.61ZM424.73 158.83L431.53 162.23L424.73 165.63ZM425.04 158.85L431.84 162.25L425.04 165.65ZM425.36 158.87L432.16 162.27L425.36 165.67ZM425.67 158.88L432.47 162.28L425.67 165.68ZM425.98 158.90L432.78 162.30L425.98 165.70ZM426.29 158.92L433.09 162.32L426.29 165.72ZM426.60 158.93L433.40 162.33L426.60 165.73ZM426.90 158.95L433.70 162.35L426.90 165.75ZM427.20 158.96L434.00 162.36L427.20 165.76ZM427.50 158.98L434.30 162.38L427.50 165.78ZM427.80 158.99L434.60 162.39L427.80 165.79ZM428.09 159.01L434.89 162.41L428.09 165.81ZM428.38 159.02L435.18 162.42L428.38 165.82ZM428.68 159.03L435.48 162.43L428.68 165.83ZM428.96 159.05L435.76 162.45L428.96 165.85ZM429.25 159.06L436.05 162.46L429.25 165.86ZM429.54 159.07L436.34 162.47L429.54 165.87ZM429.82 159.08L436.62 162.48L429.82 165.88ZM430.10 159.09L436.90 162.49L430.10 165.89Z" fill="#000"/>
<use href="#m2" x="117.98" y="272.72"/><use href="#m2" x="138.91" y="271.13"/><use href="#m2" x="155.33" y="269.65"/><use href="#m2" x="168.84" y="266.89"/><use href="#m2" x="180.33" y="264.44"/><use href="#m2" x="190.32" y="262.38"/><use href="#m2" x="199.16" y="259.88"/><use href="#m2" x="207.08" y="257.20"/><use href="#m2" x="214.26" y="254.80"/><use href="#m2" x="220.83" y="252.15"/><use href="#m2" x="226.87" y="249.40"/><use href="#m2" x="232.47" y="246.38"/><use href="#m2" x="237.69" y="243.54"/><use href="#m2" x="242.58" y="240.55"/><use href="#m2" x="247.17" y="237.31"/><use href="#m2" x="251.51" y="234.32"/><use href="#m2" x="255.61" y="231.60"/><use href="#m2" x="259.50" y="229.22"/><use href="#m2" x="263.20" y="227.20"/><use href="#m2" x="266.73" y="225.56"/><use href="#m2" x="270.11" y="224.50"/><use href="#m2" x="273.34" y="224.19"/><use href="#m2" x="276.44" y="224.19"/><use href="#m2" x="279.42" y="224.29"/><use href="#m2" x="282.28" y="224.84"/><use href="#m2" x="285.05" y="224.90"/><use href="#m2" x="287.71" y="224.79"/><use href="#m2" x="290.28" y="224.61"/><use href="#m2" x="292.77" y="224.37"/><use href="#m2" x="295.19" y="223.84"/><use href="#m2" x="297.52" y="223.02"/><use href="#m2" x="299.79" y="222.10"/><use href="#m2" x="301.99" y="221.03"/><use href="#m2" x="304.13" y="219.72"/><use href="#m2" x="306.21" y="218.27"/><use href="#m2" x="308.23" y="216.59"/><use href="#m2" x="310.20" y="214.52"/><use href="#m2" x="312.12" y="212.20"/><use href="#m2" x="313.99" y="209.78"/><use href="#m2" x="315.82" y="207.33"/><use href="#m2" x="317.60" y="204.91"/><use href="#m2" x="319.34" y="202.56"/><use href="#m2" x="321.05" y="200.75"/><use href="#m2" x="322.71" y="199.18"/><use href="#m2" x="324.34" y="197.70"/><use href="#m2" x="325.93" y="196.30"/><use href="#m2" x="327.49" y="194.98"/><use href="#m2" x="329.02" y="193.74"/><use href="#m2" x="330.51" y="192.56"/><use href="#m2" x="331.98" y="191.45"/><use href="#m2" x="333.42" y="190.40"/><use href="#m2" x="334.83" y="189.40"/><use href="#m2" x="336.22" y="188.45"/><use href="#m2" x="337.58" y="187.55"/><use href="#m2" x="338.91" y="186.70"/><use href="#m2" x="340.22" y="185.88"/><use href="#m2" x="341.51" y="185.11"/><use href="#m2" x="342.77" y="184.37"/><use href="#m2" x="344.02" y="183.67"/><use href="#m2" x="345.24" y="183.00"/><use href="#m2" x="346.44" y="182.36"/><use href="#m2" x="347.63" y="181.74"/><use href="#m2" x="348.79" y="181.16"/><use href="#m2" x="349.94" y="180.60"/><use href="#m2" x="351.07" y="180.06"/><use href="#m2" x="352.18" y="179.54"/><use href="#m2" x="353.27" y="179.05"/><use href="#m2" x="354.35" y="178.57"/><use href="#m2" x="355.41" y="178.12"/><use href="#m2" x="356.46" y="177.68"/><use href="#m2" x="357.49" y="177.26"/><use href="#m2" x="358.50" y="176.85"/><use href="#m2" x="359.51" y="176.46"/><use href="#m2" x="360.49" y="176.08"/><use href="#m2" x="361.47" y="175.72"/><use href="#m2" x="362.43" y="175.37"/><use href="#m2" x="363.38" y="175.04"/><use href="#m2" x="364.32" y="174.71"/><use href="#m2" x="365.24" y="174.40"/><use href="#m2" x="366.15" y="174.10"/><use href="#m2" x="367.05" y="173.80"/><use href="#m2" x="367.94" y="173.52"/><use href="#m2" x="368.82" y="173.25"/><use href="#m2" x="369.68" y="172.99"/><use href="#m2" x="370.54" y="172.73"/><use href="#m2" x="371.38" y="172.48"/><use href="#m2" x="372.22" y="172.25"/><use href="#m2" x="373.05" y="172.01"/><use href="#m2" x="373.86" y="171.79"/><use href="#m2" x="374.67" y="171.57"/><use href="#m2" x="375.46" y="171.36"/><use href="#m2" x="376.25" y="171.15"/><use href="#m2" x="377.03" y="170.95"/><use href="#m2" x="377.80" y="170.75"/><use href="#m2" x="378.56" y="170.56"/><use href="#m2" x="379.31" y="170.38"/><use href="#m2" x="380.06" y="170.20"/><use href="#m2" x="380.79" y="170.02"/><use href="#m2" x="381.52" y="169.85"/><use href="#m2" x="382.24" y="169.69"/><use href="#m2" x="382.95" y="169.53"/><use href="#m2" x="383.66" y="169.37"/><use href="#m2" x="384.36" y="169.22"/><use href="#m2" x="385.05" y="169.08"/><use href="#m2" x="385.73" y="168.93"/><use href="#m2" x="386.40" y="168.80"/><use href="#m2" x="387.07" y="168.66"/><use href="#m2" x="387.74" y="168.53"/><use href="#m2" x="388.39" y="168.41"/><use href="#m2" x="389.04" y="168.28"/><use href="#m2" x="389.68" y="168.16"/><use href="#m2" x="390.32" y="168.05"/><use href="#m2" x="390.95" y="167.93"/><use href="#m2" x="391.57" y="167.82"/><use href="#m2" x="392.19" y="167.71"/><use href="#m2" x="392.80" y="167.61"/><use href="#m2" x="393.41" y="167.50"/><use href="#m2" x="394.01" y="167.40"/><use href="#m2" x="394.61" y="167.30"/><use href="#m2" x="395.20" y="167.21"/><use href="#m2" x="395.78" y="167.12"/><use href="#m2" x="396.36" y="167.02"/><use href="#m2" x="396.93" y="166.94"/><use href="#m2" x="397.50" y="166.85"/><use href="#m2" x="398.06" y="166.77"/><use href="#m2" x="398.62" y="166.68"/><use href="#m2" x="399.17" y="166.60"/><use href="#m2" x="399.72" y="166.53"/><use href="#m2" x="400.26" y="166.45"/><use href="#m2" x="400.80" y="166.38"/><use href="#m2" x="401.33" y="166.31"/><use href="#m2" x="401.86" y="166.24"/><use href="#m2" x="402.38" y="166.17"/><use href="#m2" x="402.90" y="166.11"/><use href="#m2" x="403.42" y="166.04"/><use href="#m2" x="403.93" y="165.98"/><use href="#m2" x="404.43" y="165.92"/><use href="#m2" x="404.94" y="165.86"/><use href="#m2" x="405.43" y="165.80"/><use href="#m2" x="405.93" y="165.75"/><use href="#m2" x="406.42" y="165.69"/><use href="#m2" x="406.90" y="165.64"/><use href="#m2" x="407.38" y="165.59"/><use href="#m2" x="407.86" y="165.54"/><use href="#m2" x="408.33" y="165.49"/><use href="#m2" x="408.80" y="165.44"/><use href="#m2" x="409.27" y="165.39"/><use href="#m2" x="409.73" y="165.34"/><use href="#m2" x="410.19" y="165.30"/><use href="#m2" x="410.64" y="165.25"/><use href="#m2" x="411.09" y="165.21"/><use href="#m2" x="411.54" y="165.17"/><use href="#m2" x="411.98" y="165.13"/><use href="#m2" x="412.42" y="165.09"/><use href="#m2" x="412.85" y="165.05"/><use href="#m2" x="413.29" y="165.01"/><use href="#m2" x="413.72" y="164.97"/><use href="#m2" x="414.14" y="164.94"/><use href="#m2" x="414.56" y="164.90"/><use href="#m2" x="414.98" y="164.87"/><use href="#m2" x="415.40" y="164.83"/><use href="#m2" x="415.81" y="164.80"/><use href="#m2" x="416.22" y="164.77"/><use href="#m2" x="416.63" y="164.74"/><use href="#m2" x="417.03" y="164.70"/><use href="#m2" x="417.43" y="164.67"/><use href="#m2" x="417.83" y="164.64"/><use href="#m2" x="418.22" y="164.61"/><use href="#m2" x="418.61" y="164.59"/><use href="#m2" x="419.00" y="164.56"/><use href="#m2" x="419.39" y="164.53"/><use href="#m2" x="419.77" y="164.50"/><use href="#m2" x="420.15" y="164.48"/><use href="#m2" x="420.52" y="164.45"/><use href="#m2" x="420.90" y="164.43"/><use href="#m2" x="421.27" y="164.40"/><use href="#m2" x="421.63" y="164.38"/><use href="#m2" x="422.00" y="164.35"/><use href="#m2" x="422.36" y="164.33"/><use href="#m2" x="422.72" y="164.31"/><use href="#m2" x="423.08" y="164.29"/><use href="#m2" x="423.43" y="164.27"/><use href="#m2" x="423.78" y="164.25"/><use href="#m2" x="424.13" y="164.23"/><use href="#m2" x="424.48" y="164.21"/><use href="#m2" x="424.82" y="164.19"/><use href="#m2" x="425.16" y="164.17"/><use href="#m2" x="425.50" y="164.15"/><use href="#m2" x="425.84" y="164.14"/><use href="#m2" x="426.17" y="164.12"/><use href="#m2" x="426.51" y="164.10"/><use href="#m2" x="426.83" y="164.09"/><use href="#m2" x="427.16" y="164.07"/><use href="#m2" x="427.49" y="164.05"/><use href="#m2" x="427.81" y="164.04"/><use href="#m2" x="428.13" y="164.02"/><use href="#m2" x="428.44" y="164.01"/><use href="#m2" x="428.76" y="163.99"/><use href="#m2" x="429.07" y="163.98"/><use href="#m2" x="429.38" y="163.97"/><use href="#m2" x="429.69" y="163.95"/><use href="#m2" x="430.00" y="163.94"/><use href="#m2" x="430.30" y="163.93"/><use href="#m2" x="430.60" y="163.91"/><use href="#m2" x="430.90" y="163.90"/><use href="#m2" x="431.20" y="163.89"/><use href="#m2" x="431.49" y="163.88"/><use href="#m2" x="431.78" y="163.86"/><use href="#m2" x="432.08" y="163.85"/><use href="#m2" x="432.36" y="163.84"/><use href="#m2" x="432.65" y="163.83"/><use href="#m2" x="432.94" y="163.82"/><use href="#m2" x="433.22" y="163.81"/><use href="#m2" x="433.50" y="163.80"/>
<path d="M125.23 159.06L132.03 159.06L128.63 165.86ZM145.65 159.00L152.45 159.00L149.05 165.80ZM161.76 158.88L168.56 158.88L165.16 165.68ZM175.07 158.68L181.87 158.68L178.47 165.48ZM186.40 158.42L193.20 158.42L189.80 165.22ZM196.27 157.74L203.07 157.74L199.67 164.54ZM205.02 156.70L211.82 156.70L208.42 163.50ZM212.87 154.93L219.67 154.93L216.27 161.73ZM219.99 151.32L226.79 151.32L223.39 158.12ZM226.50 146.94L233.30 146.94L229.90 153.74ZM232.50 140.76L239.30 140.76L235.90 147.56ZM238.07 133.77L244.87 133.77L241.47 140.57ZM243.26 125.16L250.06 125.16L246.66 131.96ZM248.12 113.24L254.92 113.24L251.52 120.04ZM252.68 101.72L259.48 101.72L256.08 108.52ZM256.99 90.24L263.79 90.24L260.39 97.04ZM261.07 78.06L267.87 78.06L264.47 84.86ZM264.95 67.18L271.75 67.18L268.35 73.98ZM268.63 56.87L275.43 56.87L272.03 63.67ZM272.15 48.73L278.95 48.73L275.55 55.53ZM275.51 43.87L282.31 43.87L278.91 50.67ZM278.73 41.02L285.53 41.02L282.13 47.82ZM281.82 41.35L288.62 41.35L285.22 48.15ZM284.78 42.87L291.58 42.87L288.18 49.67ZM287.64 46.51L294.44 46.51L291.04 53.31ZM290.39 51.97L297.19 51.97L293.79 58.77ZM293.05 58.80L299.85 58.80L296.45 65.60ZM295.61 64.47L302.41 64.47L299.01 71.27ZM298.10 69.67L304.90 69.67L301.50 76.47ZM300.50 75.48L307.30 75.48L303.90 82.28ZM302.83 82.59L309.63 82.59L306.23 89.39ZM305.09 88.80L311.89 88.80L308.49 95.60ZM307.28 94.34L314.08 94.34L310.68 101.14ZM309.41 99.29L316.21 99.29L312.81 106.09ZM311.49 103.86L318.29 103.86L314.89 110.66ZM313.50 108.00L320.30 108.00L316.90 114.80ZM315.47 111.65L322.27 111.65L318.87 118.45ZM317.38 114.82L324.18 114.82L320.78 121.62ZM319.25 117.66L326.05 117.66L322.65 124.46ZM321.07 120.24L327.87 120.24L324.47 127.04ZM322.85 122.57L329.65 122.57L326.25 129.37ZM324.59 124.71L331.39 124.71L327.99 131.51ZM326.29 126.68L333.09 126.68L329.69 133.48ZM327.94 128.56L334.74 128.56L331.34 135.36ZM329.57 130.32L336.37 130.32L332.97 137.12ZM331.16 131.96L337.96 131.96L334.56 138.76ZM332.71 133.47L339.51 133.47L336.11 140.27ZM334.24 134.83L341.04 134.83L337.64 141.63ZM335.73 136.04L342.53 136.04L339.13 142.84ZM337.19 137.09L343.99 137.09L340.59 143.89ZM338.63 138.05L345.43 138.05L342.03 144.85ZM340.03 138.94L346.83 138.94L343.43 145.74ZM341.42 139.77L348.22 139.77L344.82 146.57ZM342.77 140.54L349.57 140.54L346.17 147.34ZM344.10 141.26L350.90 141.26L347.50 148.06ZM345.41 141.93L352.21 141.93L348.81 148.73ZM346.69 142.57L353.49 142.57L350.09 149.37ZM347.96 143.17L354.76 143.17L351.36 149.97ZM349.20 143.74L356.00 143.74L352.60 150.54ZM350.42 144.28L357.22 144.28L353.82 151.08ZM351.62 144.80L358.42 144.80L355.02 151.60ZM352.80 145.30L359.60 145.30L356.20 152.10ZM353.96 145.79L360.76 145.79L357.36 152.59ZM355.10 146.25L361.90 146.25L358.50 153.05ZM356.22 146.69L363.02 146.69L359.62 153.49ZM357.33 147.11L364.13 147.11L360.73 153.91ZM358.42 147.51L365.22 147.51L361.82 154.31ZM359.50 147.89L366.30 147.89L362.90 154.69ZM360.56 148.25L367.36 148.25L363.96 155.05ZM361.60 148.59L368.40 148.59L365.00 155.39ZM362.63 148.92L369.43 148.92L366.03 155.72ZM363.64 149.23L370.44 149.23L367.04 156.03ZM364.64 149.51L371.44 149.51L368.04 156.31ZM365.62 149.80L372.42 149.80L369.02 156.60ZM366.60 150.08L373.40 150.08L370.00 156.88ZM367.55 150.35L374.35 150.35L370.95 157.15ZM368.50 150.61L375.30 150.61L371.90 157.41ZM369.43 150.86L376.23 150.86L372.83 157.66ZM370.35 151.10L377.15 151.10L373.75 157.90ZM371.26 151.34L378.06 151.34L374.66 158.14ZM372.16 151.56L378.96 151.56L375.56 158.36ZM373.04 151.78L379.84 151.78L376.44 158.58ZM373.92 151.98L380.72 151.98L377.32 158.78ZM374.78 152.19L381.58 152.19L378.18 158.99ZM375.64 152.38L382.44 152.38L379.04 159.18ZM376.48 152.57L383.28 152.57L379.88 159.37ZM377.31 152.75L384.11 152.75L380.71 159.55ZM378.13 152.92L384.93 152.92L381.53 159.72ZM378.94 153.09L385.74 153.09L382.34 159.89ZM379.75 153.26L386.55 153.26L383.15 160.06ZM380.54 153.42L387.34 153.42L383.94 160.22ZM381.32 153.57L388.12 153.57L384.72 160.37ZM382.10 153.72L388.90 153.72L385.50 160.52ZM382.87 153.86L389.67 153.86L386.27 160.66ZM383.62 154.00L390.42 154.00L387.02 160.80ZM384.37 154.14L391.17 154.14L387.77 160.94ZM385.11 154.27L391.91 154.27L388.51 161.07ZM385.85 154.40L392.65 154.40L389.25 161.20ZM386.57 154.52L393.37 154.52L389.97 161.32ZM387.29 154.64L394.09 154.64L390.69 161.44ZM388.00 154.76L394.80 154.76L391.40 161.56ZM388.70 154.87L395.50 154.87L392.10 161.67ZM389.39 154.98L396.19 154.98L392.79 161.78ZM390.08 155.09L396.88 155.09L393.48 161.89ZM390.76 155.19L397.56 155.19L394.16 161.99ZM391.43 155.29L398.23 155.29L394.83 162.09ZM392.10 155.39L398.90 155.39L395.50 162.19ZM392.76 155.49L399.56 155.49L396.16 162.29ZM393.41 155.58L400.21 155.58L396.81 162.38ZM394.06 155.67L400.86 155.67L397.46 162.47ZM394.70 155.76L401.50 155.76L398.10 162.56ZM395.33 155.84L402.13 155.84L398.73 162.64ZM395.96 155.93L402.76 155.93L399.36 162.73ZM396.58 156.01L403.38 156.01L399.98 162.81ZM397.19 156.09L403.99 156.09L400.59 162.89ZM397.80 156.16L404.60 156.16L401.20 162.96ZM398.40 156.24L405.20 156.24L401.80 163.04ZM399.00 156.31L405.80 156.31L402.40 163.11ZM399.59 156.38L406.39 156.38L402.99 163.18ZM400.18 156.45L406.98 156.45L403.58 163.25ZM400.76 156.52L407.56 156.52L404.16 163.32ZM401.33 156.59L408.13 156.59L404.73 163.39ZM401.90 156.65L408.70 156.65L405.30 163.45ZM402.46 156.72L409.26 156.72L405.86 163.52ZM403.02 156.78L409.82 156.78L406.42 163.58ZM403.58 156.84L410.38 156.84L406.98 163.64ZM404.13 156.90L410.93 156.90L407.53 163.70ZM404.67 156.95L411.47 156.95L408.07 163.75ZM405.21 157.01L412.01 157.01L408.61 163.81ZM405.74 157.06L412.54 157.06L409.14 163.86ZM406.27 157.12L413.07 157.12L409.67 163.92ZM406.80 157.17L413.60 157.17L410.20 163.97ZM407.32 157.22L414.12 157.22L410.72 164.02ZM407.83 157.27L414.63 157.27L411.23 164.07ZM408.34 157.32L415.14 157.32L411.74 164.12ZM408.85 157.37L415.65 157.37L412.25 164.17ZM409.35 157.41L416.15 157.41L412.75 164.21ZM409.85 157.46L416.65 157.46L413.25 164.26ZM410.34 157.50L417.14 157.50L413.74 164.30ZM410.83 157.54L417.63 157.54L414.23 164.34ZM411.32 157.59L418.12 157.59L414.72 164.39ZM411.80 157.63L418.60 157.63L415.20 164.43ZM412.28 157.67L419.08 157.67L415.68 164.47ZM412.75 157.71L419.55 157.71L416.15 164.51ZM413.22 157.75L420.02 157.75L416.62 164.55ZM413.68 157.79L420.48 157.79L417.08 164.59ZM414.14 157.82L420.94 157.82L417.54 164.62ZM414.60 157.86L421.40 157.86L418.00 164.66ZM415.05 157.90L421.85 157.90L418.45 164.70ZM415.50 157.93L422.30 157.93L418.90 164.73ZM415.95 157.97L422.75 157.97L419.35 164.77ZM416.39 158.00L423.19 158.00L419.79 164.80ZM416.83 158.03L423.63 158.03L420.23 164.83ZM417.27 158.06L424.07 158.06L420.67 164.86ZM417.70 158.10L424.50 158.10L421.10 164.90ZM418.13 158.13L424.93 158.13L421.53 164.93ZM418.55 158.16L425.35 158.16L421.95 164.96ZM418.97 158.19L425.77 158.19L422.37 164.99ZM419.39 158.22L426.19 158.22L422.79 165.02ZM419.81 158.25L426.61 158.25L423.21 165.05ZM420.22 158.27L427.02 158.27L423.62 165.07ZM420.62 158.30L427.42 158.30L424.02 165.10ZM421.03 158.33L427.83 158.33L424.43 165.13ZM421.43 158.35L428.23 158.35L424.83 165.15ZM421.83 158.38L428.63 158.38L425.23 165.18ZM422.22 158.41L429.02 158.41L425.62 165.21ZM422.62 158.43L429.42 158.43L426.02 165.23ZM423.01 158.45L429.81 158.45L426.41 165.25ZM423.39 158.48L430.19 158.48L426.79 165.28ZM423.78 158.50L430.58 158.50L427.18 165.30ZM424.16 158.52L430.96 158.52L427.56 165.32ZM424.53 158.55L431.33 158.55L427.93 165.35ZM424.91 158.57L431.71 158.57L428.31 165.37ZM425.28 158.59L432.08 158.59L428.68 165.39ZM425.65 158.61L432.45 158.61L429.05 165.41ZM426.01 158.63L432.81 158.63L429.41 165.43ZM426.38 158.65L433.18 158.65L429.78 165.45ZM426.74 158.67L433.54 158.67L430.14 165.47ZM427.09 158.69L433.89 158.69L430.49 165.49ZM427.45 158.71L434.25 158.71L430.85 165.51ZM427.80 158.73L434.60 158.73L431.20 165.53ZM428.15 158.75L434.95 158.75L431.55 165.55ZM428.50 158.77L435.30 158.77L431.90 165.57ZM428.84 158.79L435.64 158.79L432.24 165.59ZM429.18 158.80L435.98 158.80L432.58 165.60ZM429.52 158.82L436.32 158.82L432.92 165.62ZM429.86 158.84L436.66 158.84L433.26 165.64ZM430.19 158.85L436.99 158.85L433.59 165.65ZM430.52 158.87L437.32 158.87L433.92 165.67ZM430.85 158.88L437.65 158.88L434.25 165.68ZM431.18 158.90L437.98 158.90L434.58 165.70ZM431.50 158.91L438.30 158.91L434.90 165.71ZM431.82 158.93L438.62 158.93L435.22 165.73ZM432.14 158.94L438.94 158.94L435.54 165.74ZM432.46 158.96L439.26 158.96L435.86 165.76ZM432.77 158.97L439.57 158.97L436.17 165.77ZM433.08 158.99L439.88 158.99L436.48 165.79ZM433.39 159.00L440.19 159.00L436.79 165.80ZM433.70 159.01L440.50 159.01L437.10 165.81ZM434.00 159.02L440.80 159.02L437.40 165.82ZM434.31 159.04L441.11 159.04L437.71 165.84ZM434.61 159.05L441.41 159.05L438.01 165.85ZM434.90 159.06L441.70 159.06L438.30 165.86ZM435.20 159.07L442.00 159.07L438.60 165.87ZM435.49 159.08L442.29 159.08L438.89 165.88ZM435.79 159.09L442.59 159.09L439.19 165.89ZM436.07 159.10L442.87 159.10L439.47 165.90Z" fill="#000"/>
<use href="#m3" x="128.63" y="272.97"/><use href="#m3" x="149.05" y="271.31"/><use href="#m3" x="165.16" y="268.64"/><use href="#m3" x="178.47" y="265.81"/><use href="#m3" x="189.80" y="263.48"/><use href="#m3" x="199.67" y="260.69"/><use href="#m3" x="208.42" y="257.73"/><use href="#m3" x="216.27" y="255.01"/><use href="#m3" x="223.39" y="252.00"/><use href="#m3" x="229.90" y="248.80"/><use href="#m3" x="235.90" y="245.47"/><use href="#m3" x="241.47" y="242.28"/><use href="#m3" x="246.66" y="238.65"/><use href="#m3" x="251.52" y="235.29"/><use href="#m3" x="256.08" y="232.27"/><use href="#m3" x="260.39" y="229.67"/><use href="#m3" x="264.47" y="227.52"/><use href="#m3" x="268.35" y="226.00"/><use href="#m3" x="272.03" y="225.17"/><use href="#m3" x="275.55" y="225.17"/><use href="#m3" x="278.91" y="225.20"/><use href="#m3" x="282.13" y="225.79"/><use href="#m3" x="285.22" y="225.87"/><use href="#m3" x="288.18" y="225.74"/><use href="#m3" x="291.04" y="225.52"/><use href="#m3" x="293.79" y="225.17"/><use href="#m3" x="296.45" y="224.40"/><use href="#m3" x="299.01" y="223.40"/><use href="#m3" x="301.50" y="222.28"/><use href="#m3" x="303.90" y="220.84"/><use href="#m3" x="306.23" y="219.23"/><use href="#m3" x="308.49" y="217.18"/><use href="#m3" x="310.68" y="214.65"/><use href="#m3" x="312.81" y="211.87"/><use href="#m3" x="314.89" y="209.00"/><use href="#m3" x="316.90" y="206.13"/><use href="#m3" x="318.87" y="203.34"/><use href="#m3" x="320.78" y="201.10"/><use href="#m3" x="322.65" y="199.32"/><use href="#m3" x="324.47" y="197.67"/><use href="#m3" x="326.25" y="196.12"/><use href="#m3" x="327.99" y="194.67"/><use href="#m3" x="329.69" y="193.31"/><use href="#m3" x="331.34" y="192.03"/><use href="#m3" x="332.97" y="190.82"/><use href="#m3" x="334.56" y="189.69"/><use href="#m3" x="336.11" y="188.62"/><use href="#m3" x="337.64" y="187.62"/><use href="#m3" x="339.13" y="186.66"/><use href="#m3" x="340.59" y="185.76"/><use href="#m3" x="342.03" y="184.91"/><use href="#m3" x="343.43" y="184.10"/><use href="#m3" x="344.82" y="183.34"/><use href="#m3" x="346.17" y="182.61"/><use href="#m3" x="347.50" y="181.92"/><use href="#m3" x="348.81" y="181.26"/><use href="#m3" x="350.09" y="180.64"/><use href="#m3" x="351.36" y="180.04"/><use href="#m3" x="352.60" y="179.47"/><use href="#m3" x="353.82" y="178.93"/><use href="#m3" x="355.02" y="178.41"/><use href="#m3" x="356.20" y="177.92"/><use href="#m3" x="357.36" y="177.44"/><use href="#m3" x="358.50" y="176.99"/><use href="#m3" x="359.62" y="176.56"/><use href="#m3" x="360.73" y="176.14"/><use href="#m3" x="361.82" y="175.74"/><use href="#m3" x="362.90" y="175.36"/><use href="#m3" x="363.96" y="174.99"/><use href="#m3" x="365.00" y="174.64"/><use href="#m3" x="366.03" y="174.30"/><use href="#m3" x="367.04" y="173.97"/><use href="#m3" x="368.04" y="173.65"/><use href="#m3" x="369.02" y="173.35"/><use href="#m3" x="370.00" y="173.06"/><use href="#m3" x="370.95" y="172.78"/><use href="#m3" x="371.90" y="172.51"/><use href="#m3" x="372.83" y="172.24"/><use href="#m3" x="373.75" y="171.99"/><use href="#m3" x="374.66" y="171.75"/><use href="#m3" x="375.56" y="171.51"/><use href="#m3" x="376.44" y="171.29"/><use href="#m3" x="377.32" y="171.07"/><use href="#m3" x="378.18" y="170.85"/><use href="#m3" x="379.04" y="170.65"/><use href="#m3" x="379.88" y="170.45"/><use href="#m3" x="380.71" y="170.25"/><use href="#m3" x="381.53" y="170.07"/><use href="#m3" x="382.34" y="169.88"/><use href="#m3" x="383.15" y="169.71"/><use href="#m3" x="383.94" y="169.53"/><use href="#m3" x="384.72" y="169.37"/><use href="#m3" x="385.50" y="169.20"/><use href="#m3" x="386.27" y="169.04"/><use href="#m3" x="387.02" y="168.89"/><use href="#m3" x="387.77" y="168.74"/><use href="#m3" x="388.51" y="168.60"/><use href="#m3" x="389.25" y="168.46"/><use href="#m3" x="389.97" y="168.32"/><use href="#m3" x="390.69" y="168.19"/><use href="#m3" x="391.40" y="168.06"/><use href="#m3" x="392.10" y="167.94"/><use href="#m3" x="392.79" y="167.82"/><use href="#m3" x="393.48" y="167.70"/><use href="#m3" x="394.16" y="167.59"/><use href="#m3" x="394.83" y="167.48"/><use href="#m3" x="395.50" y="167.37"/><use href="#m3" x="396.16" y="167.27"/><use href="#m3" x="396.81" y="167.17"/><use href="#m3" x="397.46" y="167.07"/><use href="#m3" x="398.10" y="166.97"/><use href="#m3" x="398.73" y="166.88"/><use href="#m3" x="399.36" y="166.78"/><use href="#m3" x="399.98" y="166.70"/><use href="#m3" x="400.59" y="166.61"/><use href="#m3" x="401.20" y="166.52"/><use href="#m3" x="401.80" y="166.44"/><use href="#m3" x="402.40" y="166.36"/><use href="#m3" x="402.99" y="166.28"/><use href="#m3" x="403.58" y="166.21"/><use href="#m3" x="404.16" y="166.13"/><use href="#m3" x="404.73" y="166.06"/><use href="#m3" x="405.30" y="165.99"/><use href="#m3" x="405.86" y="165.92"/><use href="#m3" x="406.42" y="165.86"/><use href="#m3" x="406.98" y="165.79"/><use href="#m3" x="407.53" y="165.73"/><use href="#m3" x="408.07" y="165.67"/><use href="#m3" x="408.61" y="165.61"/><use href="#m3" x="409.14" y="165.56"/><use href="#m3" x="409.67" y="165.50"/><use href="#m3" x="410.20" y="165.45"/><use href="#m3" x="410.72" y="165.39"/><use href="#m3" x="411.23" y="165.34"/><use href="#m3" x="411.74" y="165.29"/><use href="#m3" x="412.25" y="165.24"/><use href="#m3" x="412.75" y="165.20"/><use href="#m3" x="413.25" y="165.15"/><use href="#m3" x="413.74" y="165.10"/><use href="#m3" x="414.23" y="165.06"/><use href="#m3" x="414.72" y="165.02"/><use href="#m3" x="415.20" y="164.97"/><use href="#m3" x="415.68" y="164.93"/><use href="#m3" x="416.15" y="164.89"/><use href="#m3" x="416.62" y="164.85"/><use href="#m3" x="417.08" y="164.82"/><use href="#m3" x="417.54" y="164.78"/><use href="#m3" x="418.00" y="164.74"/><use href="#m3" x="418.45" y="164.71"/><use href="#m3" x="418.90" y="164.67"/><use href="#m3" x="419.35" y="164.64"/><use href="#m3" x="419.79" y="164.61"/><use href="#m3" x="420.23" y="164.58"/><use href="#m3" x="420.67" y="164.55"/><use href="#m3" x="421.10" y="164.52"/><use href="#m3" x="421.53" y="164.49"/><use href="#m3" x="421.95" y="164.46"/><use href="#m3" x="422.37" y="164.43"/><use href="#m3" x="422.79" y="164.40"/><use href="#m3" x="423.21" y="164.37"/><use href="#m3" x="423.62" y="164.35"/><use href="#m3" x="424.02" y="164.32"/><use href="#m3" x="424.43" y="164.29"/><use href="#m3" x="424.83" y="164.27"/><use href="#m3" x="425.23" y="164.24"/><use href="#m3" x="425.62" y="164.22"/><use href="#m3" x="426.02" y="164.20"/><use href="#m3" x="426.41" y="164.17"/><use href="#m3" x="426.79" y="164.15"/><use href="#m3" x="427.18" y="164.13"/><use href="#m3" x="427.56" y="164.11"/><use href="#m3" x="427.93" y="164.09"/><use href="#m3" x="428.31" y="164.07"/><use href="#m3" x="428.68" y="164.05"/><use href="#m3" x="429.05" y="164.03"/><use href="#m3" x="429.41" y="164.01"/><use href="#m3" x="429.78" y="163.99"/><use href="#m3" x="430.14" y="163.97"/><use href="#m3" x="430.49" y="163.96"/><use href="#m3" x="430.85" y="163.94"/><use href="#m3" x="431.20" y="163.93"/><use href="#m3" x="431.55" y="163.91"/><use href="#m3" x="431.90" y="163.90"/><use href="#m3" x="432.24" y="163.88"/><use href="#m3" x="432.58" y="163.87"/><use href="#m3" x="432.92" y="163.85"/><use href="#m3" x="433.26" y="163.84"/><use href="#m3" x="433.59" y="163.82"/><use href="#m3" x="433.92" y="163.81"/><use href="#m3" x="434.25" y="163.80"/><use href="#m3" x="434.58" y="163.78"/><use href="#m3" x="434.90" y="163.77"/><use href="#m3" x="435.22" y="163.76"/><use href="#m3" x="435.54" y="163.75"/><use href="#m3" x="435.86" y="163.74"/><use href="#m3" x="436.17" y="163.72"/><use href="#m3" x="436.48" y="163.71"/><use href="#m3" x="436.79" y="163.70"/><use href="#m3" x="437.10" y="163.69"/><use href="#m3" x="437.40" y="163.68"/><use href="#m3" x="437.71" y="163.67"/><use href="#m3" x="438.01" y="163.66"/><use href="#m3" x="438.30" y="163.65"/><use href="#m3" x="438.60" y="163.64"/><use href="#m3" x="438.89" y="163.63"/><use href="#m3" x="439.19" y="163.62"/><use href="#m3" x="439.47" y="163.61"/>
<path d="M130.22 159.95L135.22 159.95L135.22 164.95L130.22 164.95ZM157.72 159.83L162.72 159.83L162.72 164.83L157.72 164.83ZM177.92 159.54L182.92 159.54L182.92 164.54L177.92 164.54ZM193.90 158.97L198.90 158.97L198.90 163.97L193.90 163.97ZM207.12 157.41L212.12 157.41L212.12 162.41L207.12 162.41ZM218.33 153.57L223.33 153.57L223.33 158.57L218.33 158.57ZM226.48 148.53L231.48 148.53L231.48 153.53L226.48 153.53ZM233.85 141.06L238.85 141.06L238.85 146.06L233.85 146.06ZM240.57 132.19L245.57 132.19L245.57 137.19L240.57 137.19ZM246.75 119.59L251.75 119.59L251.75 124.59L246.75 124.59ZM252.47 105.07L257.47 105.07L257.47 110.07L252.47 110.07ZM257.79 90.80L262.79 90.80L262.79 95.80L257.79 95.80ZM262.77 75.61L267.77 75.61L267.77 80.61L262.77 80.61ZM267.44 62.79L272.44 62.79L272.44 67.79L267.44 67.79ZM271.84 50.71L276.84 50.71L276.84 55.71L271.84 55.71ZM276.01 43.58L281.01 43.58L281.01 48.58L276.01 48.58ZM279.96 39.89L284.96 39.89L284.96 44.89L279.96 44.89ZM283.71 40.51L288.71 40.51L288.71 45.51L283.71 45.51ZM287.29 43.35L292.29 43.35L292.29 48.35L287.29 48.35ZM290.72 49.12L295.72 49.12L295.72 54.12L290.72 54.12ZM293.99 57.42L298.99 57.42L298.99 62.42L293.99 62.42ZM297.13 64.23L302.13 64.23L302.13 69.23L297.13 69.23ZM300.15 70.76L305.15 70.76L305.15 75.76L300.15 75.76ZM303.05 79.10L308.05 79.10L308.05 84.10L303.05 84.10ZM305.85 87.01L310.85 87.01L310.85 92.01L305.85 92.01ZM308.54 93.85L313.54 93.85L313.54 98.85L308.54 98.85ZM311.15 99.88L316.15 99.88L316.15 104.88L311.15 104.88ZM313.67 105.31L318.67 105.31L318.67 110.31L313.67 110.31ZM316.11 110.03L321.11 110.03L321.11 115.03L316.11 115.03ZM318.48 114.00L323.48 114.00L323.48 119.00L318.48 119.00ZM320.77 117.47L325.77 117.47L325.77 122.47L320.77 122.47ZM323.00 120.55L328.00 120.55L328.00 125.55L323.00 125.55ZM325.16 123.29L330.16 123.29L330.16 128.29L325.16 128.29ZM327.27 125.78L332.27 125.78L332.27 130.78L327.27 130.78ZM329.31 128.11L334.31 128.11L334.31 133.11L329.31 133.11ZM331.31 130.27L336.31 130.27L336.31 135.27L331.31 135.27ZM333.25 132.23L338.25 132.23L338.25 137.23L333.25 137.23ZM335.15 133.96L340.15 133.96L340.15 138.96L335.15 138.96ZM337.00 135.46L342.00 135.46L342.00 140.46L337.00 140.46ZM338.80 136.73L343.80 136.73L343.80 141.73L338.80 141.73ZM340.57 137.88L345.57 137.88L345.57 142.88L340.57 142.88ZM342.29 138.92L347.29 138.92L347.29 143.92L342.29 143.92ZM343.98 139.88L348.98 139.88L348.98 144.88L343.98 144.88ZM345.63 140.76L350.63 140.76L350.63 145.76L345.63 145.76ZM347.24 141.57L352.24 141.57L352.24 146.57L347.24 146.57ZM348.82 142.33L353.82 142.33L353.82 147.33L348.82 147.33ZM350.37 143.04L355.37 143.04L355.37 148.04L350.37 148.04ZM351.89 143.71L356.89 143.71L356.89 148.71L351.89 148.71ZM353.38 144.35L358.38 144.35L358.38 149.35L353.38 149.35ZM354.84 144.96L359.84 144.96L359.84 149.96L354.84 149.96ZM356.27 145.54L361.27 145.54L361.27 150.54L356.27 150.54ZM357.68 146.09L362.68 146.09L362.68 151.09L357.68 151.09ZM359.06 146.60L364.06 146.60L364.06 151.60L359.06 151.60ZM360.42 147.09L365.42 147.09L365.42 152.09L360.42 152.09ZM361.75 147.54L366.75 147.54L366.75 152.54L361.75 152.54ZM363.06 147.97L368.06 147.97L368.06 152.97L363.06 152.97ZM364.35 148.36L369.35 148.36L369.35 153.36L364.35 153.36ZM365.61 148.72L370.61 148.72L370.61 153.72L365.61 153.72ZM366.86 149.09L371.86 149.09L371.86 154.09L366.86 154.09ZM368.08 149.44L373.08 149.44L373.08 154.44L368.08 154.44ZM369.29 149.77L374.29 149.77L374.29 154.77L369.29 154.77ZM370.48 150.09L375.48 150.09L375.48 155.09L370.48 155.09ZM371.64 150.40L376.64 150.40L376.64 155.40L371.64 155.40ZM372.79 150.69L377.79 150.69L377.79 155.69L372.79 155.69ZM373.93 150.97L378.93 150.97L378.93 155.97L373.93 155.97ZM375.05 151.23L380.05 151.23L380.05 156.23L375.05 156.23ZM376.15 151.49L381.15 151.49L381.15 156.49L376.15 156.49ZM377.23 151.73L382.23 151.73L382.23 156.73L377.23 156.73ZM378.30 151.96L383.30 151.96L383.30 156.96L378.30 156.96ZM379.36 152.19L384.36 152.19L384.36 157.19L379.36 157.19ZM380.40 152.40L385.40 152.40L385.40 157.40L380.40 157.40ZM381.42 152.61L386.42 152.61L386.42 157.61L381.42 157.61ZM382.43 152.81L387.43 152.81L387.43 157.81L382.43 157.81ZM383.43 153.00L388.43 153.00L388.43 158.00L383.43 158.00ZM384.42 153.18L389.42 153.18L389.42 158.18L384.42 158.18ZM385.39 153.36L390.39 153.36L390.39 158.36L385.39 158.36ZM386.35 153.53L391.35 153.53L391.35 158.53L386.35 158.53ZM387.30 153.70L392.30 153.70L392.30 158.70L387.30 158.70ZM388.24 153.85L393.24 153.85L393.24 158.85L388.24 158.85ZM389.16 154.01L394.16 154.01L394.16 159.01L389.16 159.01ZM390.08 154.15L395.08 154.15L395.08 159.15L390.08 159.15ZM390.98 154.29L395.98 154.29L395.98 159.29L390.98 159.29ZM391.87 154.43L396.87 154.43L396.87 159.43L391.87 159.43ZM392.76 154.56L397.76 154.56L397.76 159.56L392.76 159.56ZM393.63 154.69L398.63 154.69L398.63 159.69L393.63 159.69ZM394.49 154.81L399.49 154.81L399.49 159.81L394.49 159.81ZM395.34 154.93L400.34 154.93L400.34 159.93L395.34 159.93ZM396.19 155.05L401.19 155.05L401.19 160.05L396.19 160.05ZM397.02 155.16L402.02 155.16L402.02 160.16L397.02 160.16ZM397.84 155.27L402.84 155.27L402.84 160.27L397.84 160.27ZM398.66 155.37L403.66 155.37L403.66 160.37L398.66 160.37ZM399.46 155.47L404.46 155.47L404.46 160.47L399.46 160.47ZM400.26 155.57L405.26 155.57L405.26 160.57L400.26 160.57ZM401.05 155.67L406.05 155.67L406.05 160.67L401.05 160.67ZM401.83 155.76L406.83 155.76L406.83 160.76L401.83 160.76ZM402.61 155.85L407.61 155.85L407.61 160.85L402.61 160.85ZM403.37 155.94L408.37 155.94L408.37 160.94L403.37 160.94ZM404.13 156.02L409.13 156.02L409.13 161.02L404.13 161.02ZM404.88 156.10L409.88 156.10L409.88 161.10L404.88 161.10ZM405.62 156.18L410.62 156.18L410.62 161.18L405.62 161.18ZM406.36 156.26L411.36 156.26L411.36 161.26L406.36 161.26ZM407.08 156.33L412.08 156.33L412.08 161.33L407.08 161.33ZM407.80 156.41L412.80 156.41L412.80 161.41L407.80 161.41ZM408.52 156.48L413.52 156.48L413.52 161.48L408.52 161.48ZM409.23 156.54L414.23 156.54L414.23 161.54L409.23 161.54ZM409.93 156.61L414.93 156.61L414.93 161.61L409.93 161.61ZM410.62 156.68L415.62 156.68L415.62 161.68L410.62 161.68ZM411.31 156.74L416.31 156.74L416.31 161.74L411.31 161.74ZM411.99 156.80L416.99 156.80L416.99 161.80L411.99 161.80ZM412.66 156.86L417.66 156.86L417.66 161.86L412.66 161.86ZM413.33 156.92L418.33 156.92L418.33 161.92L413.33 161.92ZM414.00 156.98L419.00 156.98L419.00 161.98L414.00 161.98ZM414.65 157.03L419.65 157.03L419.65 162.03L414.65 162.03ZM415.30 157.09L420.30 157.09L420.30 162.09L415.30 162.09ZM415.95 157.14L420.95 157.14L420.95 162.14L415.95 162.14ZM416.59 157.19L421.59 157.19L421.59 162.19L416.59 162.19ZM417.22 157.24L422.22 157.24L422.22 162.24L417.22 162.24ZM417.85 157.29L422.85 157.29L422.85 162.29L417.85 162.29ZM418.48 157.34L423.48 157.34L423.48 162.34L418.48 162.34ZM419.10 157.38L424.10 157.38L424.10 162.38L419.10 162.38ZM419.71 157.43L424.71 157.43L424.71 162.43L419.71 162.43ZM420.32 157.47L425.32 157.47L425.32 162.47L420.32 162.47ZM420.92 157.52L425.92 157.52L425.92 162.52L420.92 162.52ZM421.52 157.56L426.52 157.56L426.52 162.56L421.52 162.56ZM422.11 157.60L427.11 157.60L427.11 162.60L422.11 162.60ZM422.70 157.64L427.70 157.64L427.70 162.64L422.70 162.64ZM423.29 157.68L428.29 157.68L428.29 162.68L423.29 162.68ZM423.87 157.72L428.87 157.72L428.87 162.72L423.87 162.72ZM424.44 157.75L429.44 157.75L429.44 162.75L424.44 162.75ZM425.01 157.79L430.01 157.79L430.01 162.79L425.01 162.79ZM425.58 157.83L430.58 157.83L430.58 162.83L425.58 162.83ZM426.14 157.86L431.14 157.86L431.14 162.86L426.14 162.86ZM426.70 157.90L431.70 157.90L431.70 162.90L426.70 162.90ZM427.25 157.93L432.25 157.93L432.25 162.93L427.25 162.93ZM427.80 157.96L432.80 157.96L432.80 162.96L427.80 162.96ZM428.35 158.00L433.35 158.00L433.35 163.00L428.35 163.00ZM428.89 158.03L433.89 158.03L433.89 163.03L428.89 163.03ZM429.43 158.06L434.43 158.06L434.43 163.06L429.43 163.06ZM429.96 158.09L434.96 158.09L434.96 163.09L429.96 163.09ZM430.49 158.12L435.49 158.12L435.49 163.12L430.49 163.12ZM431.01 158.15L436.01 158.15L436.01 163.15L431.01 163.15ZM431.53 158.17L436.53 158.17L436.53 163.17L431.53 163.17ZM432.05 158.20L437.05 158.20L437.05 163.20L432.05 163.20ZM432.57 158.23L437.57 158.23L437.57 163.23L432.57 163.23ZM433.08 158.26L438.08 158.26L438.08 163.26L433.08 163.26ZM433.58 158.28L438.58 158.28L438.58 163.28L433.58 163.28ZM434.09 158.31L439.09 158.31L439.09 163.31L434.09 163.31ZM434.59 158.33L439.59 158.33L439.59 163.33L434.59 163.33ZM435.09 158.36L440.09 158.36L440.09 163.36L435.09 163.36ZM435.58 158.38L440.58 158.38L440.58 163.38L435.58 163.38ZM436.07 158.40L441.07 158.40L441.07 163.40L436.07 163.40ZM436.56 158.43L441.56 158.43L441.56 163.43L436.56 163.43ZM437.04 158.45L442.04 158.45L442.04 163.45L437.04 163.45ZM437.52 158.47L442.52 158.47L442.52 163.47L437.52 163.47ZM438.00 158.49L443.00 158.49L443.00 163.49L438.00 163.49ZM438.47 158.52L443.47 158.52L443.47 163.52L438.47 163.52ZM438.94 158.54L443.94 158.54L443.94 163.54L438.94 163.54ZM439.41 158.56L444.41 158.56L444.41 163.56L439.41 163.56ZM439.87 158.58L444.87 158.58L444.87 163.58L439.87 163.58ZM440.33 158.60L445.33 158.60L445.33 163.60L440.33 163.60ZM440.79 158.62L445.79 158.62L445.79 163.62L440.79 163.62ZM441.25 158.64L446.25 158.64L446.25 163.64L441.25 163.64ZM441.70 158.65L446.70 158.65L446.70 163.65L441.70 163.65ZM442.15 158.67L447.15 158.67L447.15 163.67L442.15 163.67ZM442.60 158.69L447.60 158.69L447.60 163.69L442.60 163.69ZM443.04 158.71L448.04 158.71L448.04 163.71L443.04 163.71ZM443.48 158.73L448.48 158.73L448.48 163.73L443.48 163.73ZM443.92 158.74L448.92 158.74L448.92 163.74L443.92 163.74ZM444.36 158.76L449.36 158.76L449.36 163.76L444.36 163.76ZM444.79 158.78L449.79 158.78L449.79 163.78L444.79 163.78ZM445.22 158.79L450.22 158.79L450.22 163.79L445.22 163.79ZM445.65 158.81L450.65 158.81L450.65 163.81L445.65 163.81ZM446.08 158.83L451.08 158.83L451.08 163.83L446.08 163.83ZM446.50 158.84L451.50 158.84L451.50 163.84L446.50 163.84ZM446.92 158.86L451.92 158.86L451.92 163.86L446.92 163.86ZM447.34 158.87L452.34 158.87L452.34 163.87L447.34 163.87ZM447.76 158.89L452.76 158.89L452.76 163.89L447.76 163.89ZM448.17 158.90L453.17 158.90L453.17 163.90L448.17 163.90ZM448.58 158.91L453.58 158.91L453.58 163.91L448.58 163.91ZM448.99 158.93L453.99 158.93L453.99 163.93L448.99 163.93ZM449.39 158.94L454.39 158.94L454.39 163.94L449.39 163.94ZM449.80 158.96L454.80 158.96L454.80 163.96L449.80 163.96ZM450.20 158.97L455.20 158.97L455.20 163.97L450.20 163.97ZM450.60 158.98L455.60 158.98L455.60 163.98L450.60 163.98ZM451.00 159.00L456.00 159.00L456.00 164.00L451.00 164.00ZM451.39 159.01L456.39 159.01L456.39 164.01L451.39 164.01ZM451.78 159.02L456.78 159.02L456.78 164.02L451.78 164.02ZM452.17 159.03L457.17 159.03L457.17 164.03L452.17 164.03ZM452.56 159.05L457.56 159.05L457.56 164.05L452.56 164.05ZM452.95 159.06L457.95 159.06L457.95 164.06L452.95 164.06ZM453.33 159.07L458.33 159.07L458.33 164.07L453.33 164.07ZM453.71 159.08L458.71 159.08L458.71 164.08L453.71 164.08ZM454.09 159.09L459.09 159.09L459.09 164.09L454.09 164.09ZM454.47 159.10L459.47 159.10L459.47 164.10L454.47 164.10ZM454.85 159.11L459.85 159.11L459.85 164.11L454.85 164.11ZM455.22 159.13L460.22 159.13L460.22 164.13L455.22 164.13ZM455.59 159.14L460.59 159.14L460.59 164.14L455.59 164.14ZM455.96 159.15L460.96 159.15L460.96 164.15L455.96 164.15ZM456.33 159.16L461.33 159.16L461.33 164.16L456.33 164.16ZM456.69 159.17L461.69 159.17L461.69 164.17L456.69 164.17ZM457.06 159.18L462.06 159.18L462.06 164.18L457.06 164.18ZM457.42 159.19L462.42 159.19L462.42 164.19L457.42 164.19ZM457.78 159.20L462.78 159.20L462.78 164.20L457.78 164.20ZM458.14 159.21L463.14 159.21L463.14 164.21L458.14 164.21ZM458.49 159.22L463.49 159.22L463.49 164.22L458.49 164.22ZM458.85 159.23L463.85 159.23L463.85 164.23L458.85 164.23ZM459.20 159.23L464.20 159.23L464.20 164.23L459.20 164.23ZM459.55 159.24L464.55 159.24L464.55 164.24L459.55 164.24ZM459.90 159.25L464.90 159.25L464.90 164.25L459.90 164.25ZM460.25 159.26L465.25 159.26L465.25 164.26L460.25 164.26ZM460.59 159.27L465.59 159.27L465.59 164.27L460.59 164.27ZM460.94 159.28L465.94 159.28L465.94 164.28L460.94 164.28ZM461.28 159.29L466.28 159.29L466.28 164.29L461.28 164.29ZM461.62 159.30L466.62 159.30L466.62 164.30L461.62 164.30ZM461.96 159.30L466.96 159.30L466.96 164.30L461.96 164.30ZM462.29 159.31L467.29 159.31L467.29 164.31L462.29 164.31ZM462.63 159.32L467.63 159.32L467.63 164.32L462.63 164.32ZM462.96 159.33L467.96 159.33L467.96 164.33L462.96 164.33ZM463.29 159.34L468.29 159.34L468.29 164.34L463.29 164.34ZM463.62 159.34L468.62 159.34L468.62 164.34L463.62 164.34ZM463.95 159.35L468.95 159.35L468.95 164.35L463.95 164.35ZM464.28 159.36L469.28 159.36L469.28 164.36L464.28 164.36ZM464.60 159.37L469.60 159.37L469.60 164.37L464.60 164.37ZM464.93 159.37L469.93 159.37L469.93 164.37L464.93 164.37ZM465.25 159.38L470.25 159.38L470.25 164.38L465.25 164.38ZM465.57 159.39L470.57 159.39L470.57 164.39L465.57 164.39ZM465.89 159.39L470.89 159.39L470.89 164.39L465.89 164.39ZM466.21 159.40L471.21 159.40L471.21 164.40L466.21 164.40ZM466.52 159.41L471.52 159.41L471.52 164.41L466.52 164.41ZM466.84 159.42L471.84 159.42L471.84 164.42L466.84 164.42ZM467.15 159.42L472.15 159.42L472.15 164.42L467.15 164.42ZM467.46 159.43L472.46 159.43L472.46 164.43L467.46 164.43ZM467.77 159.44L472.77 159.44L472.77 164.44L467.77 164.44ZM468.08 159.44L473.08 159.44L473.08 164.44L468.08 164.44ZM468.39 159.45L473.39 159.45L473.39 164.45L468.39 164.45ZM468.69 159.45L473.69 159.45L473.69 164.45L468.69 164.45ZM469.00 159.46L474.00 159.46L474.00 164.46L469.00 164.46ZM469.30 159.47L474.30 159.47L474.30 164.47L469.30 164.47ZM469.60 159.47L474.60 159.47L474.60 164.47L469.60 164.47ZM469.90 159.48L474.90 159.48L474.90 164.48L469.90 164.48ZM470.20 159.48L475.20 159.48L475.20 164.48L470.20 164.48ZM470.50 159.49L475.50 159.49L475.50 164.49L470.50 164.49ZM470.80 159.50L475.80 159.50L475.80 164.50L470.80 164.50ZM471.09 159.50L476.09 159.50L476.09 164.50L471.09 164.50ZM471.39 159.51L476.39 159.51L476.39 164.51L471.39 164.51ZM471.68 159.51L476.68 159.51L476.68 164.51L471.68 164.51ZM471.97 159.52L476.97 159.52L476.97 164.52L471.97 164.52ZM472.26 159.52L477.26 159.52L477.26 164.52L472.26 164.52ZM472.55 159.53L477.55 159.53L477.55 164.53L472.55 164.53ZM472.83 159.53L477.83 159.53L477.83 164.53L472.83 164.53ZM473.12 159.54L478.12 159.54L478.12 164.54L473.12 164.54ZM473.40 159.54L478.40 159.54L478.40 164.54L473.40 164.54ZM473.69 159.55L478.69 159.55L478.69 164.55L473.69 164.55ZM473.97 159.55L478.97 159.55L478.97 164.55L473.97 164.55ZM474.25 159.56L479.25 159.56L479.25 164.56L474.25 164.56ZM474.53 159.56L479.53 159.56L479.53 164.56L474.53 164.56ZM474.81 159.57L479.81 159.57L479.81 164.57L474.81 164.57ZM475.09 159.57L480.09 159.57L480.09 164.57L475.09 164.57ZM475.36 159.58L480.36 159.58L480.36 164.58L475.36 164.58ZM475.64 159.58L480.64 159.58L480.64 164.58L475.64 164.58ZM475.91 159.59L480.91 159.59L480.91 164.59L475.91 164.59ZM476.18 159.59L481.18 159.59L481.18 164.59L476.18 164.59ZM476.45 159.60L481.45 159.60L481.45 164.60L476.45 164.60ZM476.72 159.60L481.72 159.60L481.72 164.60L476.72 164.60ZM476.99 159.61L481.99 159.61L481.99 164.61L476.99 164.61ZM477.26 159.61L482.26 159.61L482.26 164.61L477.26 164.61ZM477.53 159.61L482.53 159.61L482.53 164.61L477.53 164.61ZM477.79 159.62L482.79 159.62L482.79 164.62L477.79 164.62ZM478.06 159.62L483.06 159.62L483.06 164.62L478.06 164.62ZM478.32 159.63L483.32 159.63L483.32 164.63L478.32 164.63ZM478.58 159.63L483.58 159.63L483.58 164.63L478.58 164.63ZM478.85 159.64L483.85 159.64L483.85 164.64L478.85 164.64ZM479.11 159.64L484.11 159.64L484.11 164.64L479.11 164.64ZM479.36 159.64L484.36 159.64L484.36 164.64L479.36 164.64ZM479.62 159.65L484.62 159.65L484.62 164.65L479.62 164.65ZM479.88 159.65L484.88 159.65L484.88 164.65L479.88 164.65ZM480.14 159.65L485.14 159.65L485.14 164.65L480.14 164.65ZM480.39 159.66L485.39 159.66L485.39 164.66L480.39 164.66ZM480.64 159.66L485.64 159.66L485.64 164.66L480.64 164.66ZM480.90 159.67L485.90 159.67L485.90 164.67L480.90 164.67ZM481.15 159.67L486.15 159.67L486.15 164.67L481.15 164.67ZM481.40 159.67L486.40 159.67L486.40 164.67L481.40 164.67ZM481.65 159.68L486.65 159.68L486.65 164.68L481.65 164.68ZM481.90 159.68L486.90 159.68L486.90 164.68L481.90 164.68ZM482.15 159.68L487.15 159.68L487.15 164.68L482.15 164.68ZM482.39 159.69L487.39 159.69L487.39 164.69L482.39 164.69ZM482.64 159.69L487.64 159.69L487.64 164.69L482.64 164.69ZM482.88 159.69L487.88 159.69L487.88 164.69L482.88 164.69ZM483.13 159.70L488.13 159.70L488.13 164.70L483.13 164.70ZM483.37 159.70L488.37 159.70L488.37 164.70L483.37 164.70ZM483.61 159.70L488.61 159.70L488.61 164.70L483.61 164.70ZM483.85 159.71L488.85 159.71L488.85 164.71L483.85 164.71ZM484.09 159.71L489.09 159.71L489.09 164.71L484.09 164.71ZM484.33 159.71L489.33 159.71L489.33 164.71L484.33 164.71ZM484.57 159.72L489.57 159.72L489.57 164.72L484.57 164.72ZM484.81 159.72L489.81 159.72L489.81 164.72L484.81 164.72ZM485.04 159.72L490.04 159.72L490.04 164.72L485.04 164.72ZM485.28 159.73L490.28 159.73L490.28 164.73L485.28 164.73ZM485.51 159.73L490.51 159.73L490.51 164.73L485.51 164.73ZM485.74 159.73L490.74 159.73L490.74 164.73L485.74 164.73ZM485.98 159.74L490.98 159.74L490.98 164.74L485.98 164.74ZM486.21 159.74L491.21 159.74L491.21 164.74L486.21 164.74ZM486.44 159.74L491.44 159.74L491.44 164.74L486.44 164.74ZM486.67 159.74L491.67 159.74L491.67 164.74L486.67 164.74ZM486.90 159.75L491.90 159.75L491.90 164.75L486.90 164.75ZM487.13 159.75L492.13 159.75L492.13 164.75L487.13 164.75ZM487.35 159.75L492.35 159.75L492.35 164.75L487.35 164.75ZM487.58 159.76L492.58 159.76L492.58 164.76L487.58 164.76ZM487.81 159.76L492.81 159.76L492.81 164.76L487.81 164.76ZM488.03 159.76L493.03 159.76L493.03 164.76L488.03 164.76ZM488.25 159.76L493.25 159.76L493.25 164.76L488.25 164.76ZM488.48 159.77L493.48 159.77L493.48 164.77L488.48 164.77ZM488.70 159.77L493.70 159.77L493.70 164.77L488.70 164.77ZM488.92 159.77L493.92 159.77L493.92 164.77L488.92 164.77ZM489.14 159.78L494.14 159.78L494.14 164.78L489.14 164.78ZM489.36 159.78L494.36 159.78L494.36 164.78L489.36 164.78ZM489.58 159.78L494.58 159.78L494.58 164.78L489.58 164.78ZM489.80 159.78L494.80 159.78L494.80 164.78L489.80 164.78ZM490.01 159.79L495.01 159.79L495.01 164.79L490.01 164.79ZM490.23 159.79L495.23 159.79L495.23 164.79L490.23 164.79ZM490.44 159.79L495.44 159.79L495.44 164.79L490.44 164.79ZM490.66 159.79L495.66 159.79L495.66 164.79L490.66 164.79ZM490.87 159.79L495.87 159.79L495.87 164.79L490.87 164.79ZM491.09 159.80L496.09 159.80L496.09 164.80L491.09 164.80ZM491.30 159.80L496.30 159.80L496.30 164.80L491.30 164.80ZM491.51 159.80L496.51 159.80L496.51 164.80L491.51 164.80ZM491.72 159.80L496.72 159.80L496.72 164.80L491.72 164.80ZM491.93 159.81L496.93 159.81L496.93 164.81L491.93 164.81ZM492.14 159.81L497.14 159.81L497.14 164.81L492.14 164.81ZM492.35 159.81L497.35 159.81L497.35 164.81L492.35 164.81ZM492.56 159.81L497.56 159.81L497.56 164.81L492.56 164.81ZM492.76 159.82L497.76 159.82L497.76 164.82L492.76 164.82ZM492.97 159.82L497.97 159.82L497.97 164.82L492.97 164.82ZM493.17 159.82L498.17 159.82L498.17 164.82L493.17 164.82ZM493.38 159.82L498.38 159.82L498.38 164.82L493.38 164.82ZM493.58 159.82L498.58 159.82L498.58 164.82L493.58 164.82ZM493.79 159.83L498.79 159.83L498.79 164.83L493.79 164.83ZM493.99 159.83L498.99 159.83L498.99 164.83L493.99 164.83ZM494.19 159.83L499.19 159.83L499.19 164.83L494.19 164.83ZM494.39 159.83L499.39 159.83L499.39 164.83L494.39 164.83ZM494.59 159.83L499.59 159.83L499.59 164.83L494.59 164.83ZM494.79 159.84L499.79 159.84L499.79 164.84L494.79 164.84ZM494.99 159.84L499.99 159.84L499.99 164.84L494.99 164.84ZM495.19 159.84L500.19 159.84L500.19 164.84L495.19 164.84ZM495.39 159.84L500.39 159.84L500.39 164.84L495.39 164.84ZM495.58 159.84L500.58 159.84L500.58 164.84L495.58 164.84ZM495.78 159.85L500.78 159.85L500.78 164.85L495.78 164.85ZM495.97 159.85L500.97 159.85L500.97 164.85L495.97 164.85ZM496.17 159.85L501.17 159.85L501.17 164.85L496.17 164.85ZM496.36 159.85L501.36 159.85L501.36 164.85L496.36 164.85ZM496.56 159.85L501.56 159.85L501.56 164.85L496.56 164.85ZM496.75 159.86L501.75 159.86L501.75 164.86L496.75 164.86ZM496.94 159.86L501.94 159.86L501.94 164.86L496.94 164.86ZM497.13 159.86L502.13 159.86L502.13 164.86L497.13 164.86ZM497.32 159.86L502.32 159.86L502.32 164.86L497.32 164.86ZM497.51 159.86L502.51 159.86L502.51 164.86L497.51 164.86ZM497.70 159.86L502.70 159.86L502.70 164.86L497.70 164.86ZM497.89 159.87L502.89 159.87L502.89 164.87L497.89 164.87ZM498.08 159.87L503.08 159.87L503.08 164.87L498.08 164.87ZM498.26 159.87L503.26 159.87L503.26 164.87L498.26 164.87ZM498.45 159.87L503.45 159.87L503.45 164.87L498.45 164.87ZM498.64 159.87L503.64 159.87L503.64 164.87L498.64 164.87ZM498.82 159.88L503.82 159.88L503.82 164.88L498.82 164.88ZM499.01 159.88L504.01 159.88L504.01 164.88L499.01 164.88ZM499.19 159.88L504.19 159.88L504.19 164.88L499.19 164.88ZM499.37 159.88L504.37 159.88L504.37 164.88L499.37 164.88ZM499.56 159.88L504.56 159.88L504.56 164.88L499.56 164.88ZM499.74 159.88L504.74 159.88L504.74 164.88L499.74 164.88ZM499.92 159.88L504.92 159.88L504.92 164.88L499.92 164.88ZM500.10 159.89L505.10 159.89L505.10 164.89L500.10 164.89ZM500.28 159.89L505.28 159.89L505.28 164.89L500.28 164.89ZM500.46 159.89L505.46 159.89L505.46 164.89L500.46 164.89ZM500.64 159.89L505.64 159.89L505.64 164.89L500.64 164.89ZM500.82 159.89L505.82 159.89L505.82 164.89L500.82 164.89ZM501.00 159.89L506.00 159.89L506.00 164.89L501.00 164.89ZM501.17 159.90L506.17 159.90L506.17 164.90L501.17 164.90ZM501.35 159.90L506.35 159.90L506.35 164.90L501.35 164.90ZM501.52 159.90L506.52 159.90L506.52 164.90L501.52 164.90ZM501.70 159.90L506.70 159.90L506.70 164.90L501.70 164.90ZM501.87 159.90L506.87 159.90L506.87 164.90L501.87 164.90ZM502.05 159.90L507.05 159.90L507.05 164.90L502.05 164.90ZM502.22 159.90L507.22 159.90L507.22 164.90L502.22 164.90ZM502.40 159.91L507.40 159.91L507.40 164.91L502.40 164.91ZM502.57 159.91L507.57 159.91L507.57 164.91L502.57 164.91ZM502.74 159.91L507.74 159.91L507.74 164.91L502.74 164.91ZM502.91 159.91L507.91 159.91L507.91 164.91L502.91 164.91ZM503.08 159.91L508.08 159.91L508.08 164.91L503.08 164.91ZM503.25 159.91L508.25 159.91L508.25 164.91L503.25 164.91ZM503.42 159.91L508.42 159.91L508.42 164.91L503.42 164.91ZM503.59 159.92L508.59 159.92L508.59 164.92L503.59 164.92ZM503.76 159.92L508.76 159.92L508.76 164.92L503.76 164.92ZM503.93 159.92L508.93 159.92L508.93 164.92L503.93 164.92ZM504.09 159.92L509.09 159.92L509.09 164.92L504.09 164.92ZM504.26 159.92L509.26 159.92L509.26 164.92L504.26 164.92ZM504.43 159.92L509.43 159.92L509.43 164.92L504.43 164.92ZM504.59 159.92L509.59 159.92L509.59 164.92L504.59 164.92ZM504.76 159.92L509.76 159.92L509.76 164.92L504.76 164.92ZM504.92 159.93L509.92 159.93L509.92 164.93L504.92 164.93ZM505.08 159.93L510.08 159.93L510.08 164.93L505.08 164.93ZM505.25 159.93L510.25 159.93L510.25 164.93L505.25 164.93ZM505.41 159.93L510.41 159.93L510.41 164.93L505.41 164.93ZM505.57 159.93L510.57 159.93L510.57 164.93L505.57 164.93ZM505.73 159.93L510.73 159.93L510.73 164.93L505.73 164.93ZM505.90 159.93L510.90 159.93L510.90 164.93L505.90 164.93ZM506.06 159.93L511.06 159.93L511.06 164.93L506.06 164.93ZM506.22 159.93L511.22 159.93L511.22 164.93L506.22 164.93ZM506.38 159.94L511.38 159.94L511.38 164.94L506.38 164.94ZM506.53 159.94L511.53 159.94L511.53 164.94L506.53 164.94ZM506.69 159.94L511.69 159.94L511.69 164.94L506.69 164.94ZM506.85 159.94L511.85 159.94L511.85 164.94L506.85 164.94ZM507.01 159.94L512.01 159.94L512.01 164.94L507.01 164.94ZM507.16 159.94L512.16 159.94L512.16 164.94L507.16 164.94ZM507.32 159.94L512.32 159.94L512.32 164.94L507.32 164.94ZM507.48 159.94L512.48 159.94L512.48 164.94L507.48 164.94ZM507.63 159.94L512.63 159.94L512.63 164.94L507.63 164.94ZM507.79 159.95L512.79 159.95L512.79 164.95L507.79 164.95ZM507.94 159.95L512.94 159.95L512.94 164.95L507.94 164.95ZM508.10 159.95L513.10 159.95L513.10 164.95L508.10 164.95ZM508.25 159.95L513.25 159.95L513.25 164.95L508.25 164.95ZM508.40 159.95L513.40 159.95L513.40 164.95L508.40 164.95ZM508.55 159.95L513.55 159.95L513.55 164.95L508.55 164.95ZM508.71 159.95L513.71 159.95L513.71 164.95L508.71 164.95ZM508.86 159.95L513.86 159.95L513.86 164.95L508.86 164.95ZM509.01 159.95L514.01 159.95L514.01 164.95L509.01 164.95ZM509.16 159.96L514.16 159.96L514.16 164.96L509.16 164.96ZM509.31 159.96L514.31 159.96L514.31 164.96L509.31 164.96ZM509.46 159.96L514.46 159.96L514.46 164.96L509.46 164.96ZM509.61 159.96L514.61 159.96L514.61 164.96L509.61 164.96ZM509.75 159.96L514.75 159.96L514.75 164.96L509.75 164.96ZM509.90 159.96L514.90 159.96L514.90 164.96L509.90 164.96ZM510.05 159.96L515.05 159.96L515.05 164.96L510.05 164.96ZM510.20 159.96L515.20 159.96L515.20 164.96L510.20 164.96ZM510.34 159.96L515.34 159.96L515.34 164.96L510.34 164.96ZM510.49 159.96L515.49 159.96L515.49 164.96L510.49 164.96ZM510.63 159.96L515.63 159.96L515.63 164.96L510.63 164.96ZM510.78 159.97L515.78 159.97L515.78 164.97L510.78 164.97ZM510.92 159.97L515.92 159.97L515.92 164.97L510.92 164.97ZM511.07 159.97L516.07 159.97L516.07 164.97L511.07 164.97ZM511.21 159.97L516.21 159.97L516.21 164.97L511.21 164.97ZM511.36 159.97L516.36 159.97L516.36 164.97L511.36 164.97ZM511.50 159.97L516.50 159.97L516.50 164.97L511.50 164.97ZM511.64 159.97L516.64 159.97L516.64 164.97L511.64 164.97ZM511.78 159.97L516.78 159.97L516.78 164.97L511.78 164.97ZM511.92 159.97L516.92 159.97L516.92 164.97L511.92 164.97ZM512.06 159.97L517.06 159.97L517.06 164.97L512.06 164.97ZM512.20 159.97L517.20 159.97L517.20 164.97L512.20 164.97ZM512.34 159.97L517.34 159.97L517.34 164.97L512.34 164.97ZM512.48 159.98L517.48 159.98L517.48 164.98L512.48 164.98ZM512.62 159.98L517.62 159.98L517.62 164.98L512.62 164.98ZM512.76 159.98L517.76 159.98L517.76 164.98L512.76 164.98ZM512.90 159.98L517.90 159.98L517.90 164.98L512.90 164.98ZM513.04 159.98L518.04 159.98L518.04 164.98L513.04 164.98ZM513.17 159.98L518.17 159.98L518.17 164.98L513.17 164.98ZM513.31 159.98L518.31 159.98L518.31 164.98L513.31 164.98ZM513.45 159.98L518.45 159.98L518.45 164.98L513.45 164.98ZM513.58 159.98L518.58 159.98L518.58 164.98L513.58 164.98ZM513.72 159.98L518.72 159.98L518.72 164.98L513.72 164.98ZM513.85 159.98L518.85 159.98L518.85 164.98L513.85 164.98ZM513.99 159.98L518.99 159.98L518.99 164.98L513.99 164.98ZM514.12 159.98L519.12 159.98L519.12 164.98L514.12 164.98ZM514.26 159.99L519.26 159.99L519.26 164.99L514.26 164.99ZM514.39 159.99L519.39 159.99L519.39 164.99L514.39 164.99ZM514.52 159.99L519.52 159.99L519.52 164.99L514.52 164.99ZM514.66 159.99L519.66 159.99L519.66 164.99L514.66 164.99ZM514.79 159.99L519.79 159.99L519.79 164.99L514.79 164.99ZM514.92 159.99L519.92 159.99L519.92 164.99L514.92 164.99ZM515.05 159.99L520.05 159.99L520.05 164.99L515.05 164.99ZM515.18 159.99L520.18 159.99L520.18 164.99L515.18 164.99ZM515.31 159.99L520.31 159.99L520.31 164.99L515.31 164.99ZM515.44 159.99L520.44 159.99L520.44 164.99L515.44 164.99ZM515.57 159.99L520.57 159.99L520.57 164.99L515.57 164.99ZM515.70 159.99L520.70 159.99L520.70 164.99L515.70 164.99ZM515.83 159.99L520.83 159.99L520.83 164.99L515.83 164.99ZM515.96 159.99L520.96 159.99L520.96 164.99L515.96 164.99ZM516.08 159.99L521.08 159.99L521.08 164.99L516.08 164.99ZM516.21 160.00L521.21 160.00L521.21 165.00L516.21 165.00ZM516.34 160.00L521.34 160.00L521.34 165.00L516.34 165.00ZM516.47 160.00L521.47 160.00L521.47 165.00L516.47 165.00ZM516.59 160.00L521.59 160.00L521.59 165.00L516.59 165.00ZM516.72 160.00L521.72 160.00L521.72 165.00L516.72 165.00ZM516.84 160.00L521.84 160.00L521.84 165.00L516.84 165.00ZM516.97 160.00L521.97 160.00L521.97 165.00L516.97 165.00ZM517.09 160.00L522.09 160.00L522.09 165.00L517.09 165.00ZM517.22 160.00L522.22 160.00L522.22 165.00L517.22 165.00ZM517.34 160.00L522.34 160.00L522.34 165.00L517.34 165.00Z" fill="#000"/>
<path d="M130.52 295.86L134.92 295.86L134.92 300.26L130.52 300.26ZM158.02 291.37L162.42 291.37L162.42 295.77L158.02 295.77ZM178.22 286.49L182.62 286.49L182.62 290.89L178.22 290.89ZM194.20 281.67L198.60 281.67L198.60 286.07L194.20 286.07ZM207.42 276.72L211.82 276.72L211.82 281.12L207.42 281.12ZM218.63 270.98L223.03 270.98L223.03 275.38L218.63 275.38ZM226.78 265.41L231.18 265.41L231.18 269.81L226.78 269.81ZM234.15 259.46L238.55 259.46L238.55 263.86L234.15 263.86ZM240.87 253.45L245.27 253.45L245.27 257.85L240.87 257.85ZM247.05 247.43L251.45 247.43L251.45 251.83L247.05 251.83ZM252.77 242.10L257.17 242.10L257.17 246.50L252.77 246.50ZM258.09 238.65L262.49 238.65L262.49 243.05L258.09 243.05ZM263.07 235.83L267.47 235.83L267.47 240.23L263.07 240.23ZM267.74 234.06L272.14 234.06L272.14 238.46L267.74 238.46ZM272.14 232.20L276.54 232.20L276.54 236.60L272.14 236.60ZM276.31 231.28L280.71 231.28L280.71 235.68L276.31 235.68ZM280.26 230.61L284.66 230.61L284.66 235.01L280.26 235.01ZM284.01 229.98L288.41 229.98L288.41 234.38L284.01 234.38ZM287.59 229.34L291.99 229.34L291.99 233.74L287.59 233.74ZM291.02 228.36L295.42 228.36L295.42 232.76L291.02 232.76ZM294.29 227.00L298.69 227.00L298.69 231.40L294.29 231.40ZM297.43 225.41L301.83 225.41L301.83 229.81L297.43 229.81ZM300.45 223.67L304.85 223.67L304.85 228.07L300.45 228.07ZM303.35 221.85L307.75 221.85L307.75 226.25L303.35 226.25ZM306.15 218.93L310.55 218.93L310.55 223.33L306.15 223.33ZM308.84 214.87L313.24 214.87L313.24 219.27L308.84 219.27ZM311.45 210.45L315.85 210.45L315.85 214.85L311.45 214.85ZM313.97 206.17L318.37 206.17L318.37 210.57L313.97 210.57ZM316.41 202.12L320.81 202.12L320.81 206.52L316.41 206.52ZM318.78 199.11L323.18 199.11L323.18 203.51L318.78 203.51ZM321.07 196.96L325.47 196.96L325.47 201.36L321.07 201.36ZM323.30 194.98L327.70 194.98L327.70 199.38L323.30 199.38ZM325.46 193.15L329.86 193.15L329.86 197.55L325.46 197.55ZM327.57 191.47L331.97 191.47L331.97 195.87L327.57 195.87ZM329.61 189.91L334.01 189.91L334.01 194.31L329.61 194.31ZM331.61 188.46L336.01 188.46L336.01 192.86L331.61 192.86ZM333.55 187.11L337.95 187.11L337.95 191.51L333.55 191.51ZM335.45 185.86L339.85 185.86L339.85 190.26L335.45 190.26ZM337.30 184.69L341.70 184.69L341.70 189.09L337.30 189.09ZM339.10 183.60L343.50 183.60L343.50 188.00L339.10 188.00ZM340.87 182.58L345.27 182.58L345.27 186.98L340.87 186.98ZM342.59 181.62L346.99 181.62L346.99 186.02L342.59 186.02ZM344.28 180.73L348.68 180.73L348.68 185.13L344.28 185.13ZM345.93 179.89L350.33 179.89L350.33 184.29L345.93 184.29ZM347.54 179.10L351.94 179.10L351.94 183.50L347.54 183.50ZM349.12 178.35L353.52 178.35L353.52 182.75L349.12 182.75ZM350.67 177.65L355.07 177.65L355.07 182.05L350.67 182.05ZM352.19 176.99L356.59 176.99L356.59 181.39L352.19 181.39ZM353.68 176.37L358.08 176.37L358.08 180.77L353.68 180.77ZM355.14 175.78L359.54 175.78L359.54 180.18L355.14 180.18ZM356.57 175.22L360.97 175.22L360.97 179.62L356.57 179.62ZM357.98 174.69L362.38 174.69L362.38 179.09L357.98 179.09ZM359.36 174.19L363.76 174.19L363.76 178.59L359.36 178.59ZM360.72 173.71L365.12 173.71L365.12 178.11L360.72 178.11ZM362.05 173.26L366.45 173.26L366.45 177.66L362.05 177.66ZM363.36 172.83L367.76 172.83L367.76 177.23L363.36 177.23ZM364.65 172.42L369.05 172.42L369.05 176.82L364.65 176.82ZM365.91 172.03L370.31 172.03L370.31 176.43L365.91 176.43ZM367.16 171.66L371.56 171.66L371.56 176.06L367.16 176.06ZM368.38 171.31L372.78 171.31L372.78 175.71L368.38 175.71ZM369.59 170.97L373.99 170.97L373.99 175.37L369.59 175.37ZM370.78 170.65L375.18 170.65L375.18 175.05L370.78 175.05ZM371.94 170.34L376.34 170.34L376.34 174.74L371.94 174.74ZM373.09 170.04L377.49 170.04L377.49 174.44L373.09 174.44ZM374.23 169.76L378.63 169.76L378.63 174.16L374.23 174.16ZM375.35 169.49L379.75 169.49L379.75 173.89L375.35 173.89ZM376.45 169.23L380.85 169.23L380.85 173.63L376.45 173.63ZM377.53 168.98L381.93 168.98L381.93 173.38L377.53 173.38ZM378.60 168.75L383.00 168.75L383.00 173.15L378.60 173.15ZM379.66 168.52L384.06 168.52L384.06 172.92L379.66 172.92ZM380.70 168.30L385.10 168.30L385.10 172.70L380.70 172.70ZM381.72 168.09L386.12 168.09L386.12 172.49L381.72 172.49ZM382.73 167.89L387.13 167.89L387.13 172.29L382.73 172.29ZM383.73 167.69L388.13 167.69L388.13 172.09L383.73 172.09ZM384.72 167.50L389.12 167.50L389.12 171.90L384.72 171.90ZM385.69 167.32L390.09 167.32L390.09 171.72L385.69 171.72ZM386.65 167.15L391.05 167.15L391.05 171.55L386.65 171.55ZM387.60 166.98L392.00 166.98L392.00 171.38L387.60 171.38ZM388.54 166.82L392.94 166.82L392.94 171.22L388.54 171.22ZM389.46 166.67L393.86 166.67L393.86 171.07L389.46 171.07ZM390.38 166.52L394.78 166.52L394.78 170.92L390.38 170.92ZM391.28 166.37L395.68 166.37L395.68 170.77L391.28 170.77ZM392.17 166.23L396.57 166.23L396.57 170.63L392.17 170.63ZM393.06 166.10L397.46 166.10L397.46 170.50L393.06 170.50ZM393.93 165.96L398.33 165.96L398.33 170.36L393.93 170.36ZM394.79 165.84L399.19 165.84L399.19 170.24L394.79 170.24ZM395.64 165.72L400.04 165.72L400.04 170.12L395.64 170.12ZM396.49 165.60L400.89 165.60L400.89 170.00L396.49 170.00ZM397.32 165.48L401.72 165.48L401.72 169.88L397.32 169.88ZM398.14 165.37L402.54 165.37L402.54 169.77L398.14 169.77ZM398.96 165.26L403.36 165.26L403.36 169.66L398.96 169.66ZM399.76 165.16L404.16 165.16L404.16 169.56L399.76 169.56ZM400.56 165.06L404.96 165.06L404.96 169.46L400.56 169.46ZM401.35 164.96L405.75 164.96L405.75 169.36L401.35 169.36ZM402.13 164.87L406.53 164.87L406.53 169.27L402.13 169.27ZM402.91 164.78L407.31 164.78L407.31 169.18L402.91 169.18ZM403.67 164.69L408.07 164.69L408.07 169.09L403.67 169.09ZM404.43 164.60L408.83 164.60L408.83 169.00L404.43 169.00ZM405.18 164.52L409.58 164.52L409.58 168.92L405.18 168.92ZM405.92 164.43L410.32 164.43L410.32 168.83L405.92 168.83ZM406.66 164.35L411.06 164.35L411.06 168.75L406.66 168.75ZM407.38 164.28L411.78 164.28L411.78 168.68L407.38 168.68ZM408.10 164.20L412.50 164.20L412.50 168.60L408.10 168.60ZM408.82 164.13L413.22 164.13L413.22 168.53L408.82 168.53ZM409.53 164.06L413.93 164.06L413.93 168.46L409.53 168.46ZM410.23 163.99L414.63 163.99L414.63 168.39L410.23 168.39ZM410.92 163.92L415.32 163.92L415.32 168.32L410.92 168.32ZM411.61 163.86L416.01 163.86L416.01 168.26L411.61 168.26ZM412.29 163.79L416.69 163.79L416.69 168.19L412.29 168.19ZM412.96 163.73L417.36 163.73L417.36 168.13L412.96 168.13ZM413.63 163.67L418.03 163.67L418.03 168.07L413.63 168.07ZM414.30 163.61L418.70 163.61L418.70 168.01L414.30 168.01ZM414.95 163.55L419.35 163.55L419.35 167.95L414.95 167.95ZM415.60 163.50L420.00 163.50L420.00 167.90L415.60 167.90ZM416.25 163.44L420.65 163.44L420.65 167.84L416.25 167.84ZM416.89 163.39L421.29 163.39L421.29 167.79L416.89 167.79ZM417.52 163.34L421.92 163.34L421.92 167.74L417.52 167.74ZM418.15 163.29L422.55 163.29L422.55 167.69L418.15 167.69ZM418.78 163.24L423.18 163.24L423.18 167.64L418.78 167.64ZM419.40 163.19L423.80 163.19L423.80 167.59L419.40 167.59ZM420.01 163.14L424.41 163.14L424.41 167.54L420.01 167.54ZM420.62 163.10L425.02 163.10L425.02 167.50L420.62 167.50ZM421.22 163.05L425.62 163.05L425.62 167.45L421.22 167.45ZM421.82 163.01L426.22 163.01L426.22 167.41L421.82 167.41ZM422.41 162.97L426.81 162.97L426.81 167.37L422.41 167.37ZM423.00 162.93L427.40 162.93L427.40 167.33L423.00 167.33ZM423.59 162.88L427.99 162.88L427.99 167.28L423.59 167.28ZM424.17 162.84L428.57 162.84L428.57 167.24L424.17 167.24ZM424.74 162.81L429.14 162.81L429.14 167.21L424.74 167.21ZM425.31 162.77L429.71 162.77L429.71 167.17L425.31 167.17ZM425.88 162.73L430.28 162.73L430.28 167.13L425.88 167.13ZM426.44 162.69L430.84 162.69L430.84 167.09L426.44 167.09ZM427.00 162.66L431.40 162.66L431.40 167.06L427.00 167.06ZM427.55 162.62L431.95 162.62L431.95 167.02L427.55 167.02ZM428.10 162.59L432.50 162.59L432.50 166.99L428.10 166.99ZM428.65 162.56L433.05 162.56L433.05 166.96L428.65 166.96ZM429.19 162.52L433.59 162.52L433.59 166.92L429.19 166.92ZM429.73 162.49L434.13 162.49L434.13 166.89L429.73 166.89ZM430.26 162.46L434.66 162.46L434.66 166.86L430.26 166.86ZM430.79 162.43L435.19 162.43L435.19 166.83L430.79 166.83ZM431.31 162.40L435.71 162.40L435.71 166.80L431.31 166.80ZM431.83 162.37L436.23 162.37L436.23 166.77L431.83 166.77ZM432.35 162.34L436.75 162.34L436.75 166.74L432.35 166.74ZM432.87 162.31L437.27 162.31L437.27 166.71L432.87 166.71ZM433.38 162.28L437.78 162.28L437.78 166.68L433.38 166.68ZM433.88 162.26L438.28 162.26L438.28 166.66L433.88 166.66ZM434.39 162.23L438.79 162.23L438.79 166.63L434.39 166.63ZM434.89 162.20L439.29 162.20L439.29 166.60L434.89 166.60ZM435.39 162.18L439.79 162.18L439.79 166.58L435.39 166.58ZM435.88 162.15L440.28 162.15L440.28 166.55L435.88 166.55ZM436.37 162.13L440.77 162.13L440.77 166.53L436.37 166.53ZM436.86 162.10L441.26 162.10L441.26 166.50L436.86 166.50ZM437.34 162.08L441.74 162.08L441.74 166.48L437.34 166.48ZM437.82 162.06L442.22 162.06L442.22 166.46L437.82 166.46ZM438.30 162.03L442.70 162.03L442.70 166.43L438.30 166.43ZM438.77 162.01L443.17 162.01L443.17 166.41L438.77 166.41ZM439.24 161.99L443.64 161.99L443.64 166.39L439.24 166.39ZM439.71 161.97L444.11 161.97L444.11 166.37L439.71 166.37ZM440.17 161.95L444.57 161.95L444.57 166.35L440.17 166.35ZM440.63 161.93L445.03 161.93L445.03 166.33L440.63 166.33ZM441.09 161.91L445.49 161.91L445.49 166.31L441.09 166.31ZM441.55 161.89L445.95 161.89L445.95 166.29L441.55 166.29ZM442.00 161.87L446.40 161.87L446.40 166.27L442.00 166.27ZM442.45 161.85L446.85 161.85L446.85 166.25L442.45 166.25ZM442.90 161.83L447.30 161.83L447.30 166.23L442.90 166.23ZM443.34 161.81L447.74 161.81L447.74 166.21L443.34 166.21ZM443.78 161.79L448.18 161.79L448.18 166.19L443.78 166.19ZM444.22 161.77L448.62 161.77L448.62 166.17L444.22 166.17ZM444.66 161.75L449.06 161.75L449.06 166.15L444.66 166.15ZM445.09 161.74L449.49 161.74L449.49 166.14L445.09 166.14ZM445.52 161.72L449.92 161.72L449.92 166.12L445.52 166.12ZM445.95 161.70L450.35 161.70L450.35 166.10L445.95 166.10ZM446.38 161.68L450.78 161.68L450.78 166.08L446.38 166.08ZM446.80 161.67L451.20 161.67L451.20 166.07L446.80 166.07ZM447.22 161.65L451.62 161.65L451.62 166.05L447.22 166.05ZM447.64 161.64L452.04 161.64L452.04 166.04L447.64 166.04ZM448.06 161.62L452.46 161.62L452.46 166.02L448.06 166.02ZM448.47 161.60L452.87 161.60L452.87 166.00L448.47 166.00ZM448.88 161.59L453.28 161.59L453.28 165.99L448.88 165.99ZM449.29 161.57L453.69 161.57L453.69 165.97L449.29 165.97ZM449.69 161.56L454.09 161.56L454.09 165.96L449.69 165.96ZM450.10 161.55L454.50 161.55L454.50 165.95L450.10 165.95ZM450.50 161.53L454.90 161.53L454.90 165.93L450.50 165.93ZM450.90 161.52L455.30 161.52L455.30 165.92L450.90 165.92ZM451.30 161.50L455.70 161.50L455.70 165.90L451.30 165.90ZM451.69 161.49L456.09 161.49L456.09 165.89L451.69 165.89ZM452.08 161.48L456.48 161.48L456.48 165.88L452.08 165.88ZM452.47 161.46L456.87 161.46L456.87 165.86L452.47 165.86ZM452.86 161.45L457.26 161.45L457.26 165.85L452.86 165.85ZM453.25 161.44L457.65 161.44L457.65 165.84L453.25 165.84ZM453.63 161.42L458.03 161.42L458.03 165.82L453.63 165.82ZM454.01 161.41L458.41 161.41L458.41 165.81L454.01 165.81ZM454.39 161.40L458.79 161.40L458.79 165.80L454.39 165.80ZM454.77 161.39L459.17 161.39L459.17 165.79L454.77 165.79ZM455.15 161.38L459.55 161.38L459.55 165.78L455.15 165.78ZM455.52 161.36L459.92 161.36L459.92 165.76L455.52 165.76ZM455.89 161.35L460.29 161.35L460.29 165.75L455.89 165.75ZM456.26 161.34L460.66 161.34L460.66 165.74L456.26 165.74ZM456.63 161.33L461.03 161.33L461.03 165.73L456.63 165.73ZM456.99 161.32L461.39 161.32L461.39 165.72L456.99 165.72ZM457.36 161.31L461.76 161.31L461.76 165.71L457.36 165.71ZM457.72 161.30L462.12 161.30L462.12 165.70L457.72 165.70ZM458.08 161.29L462.48 161.29L462.48 165.69L458.08 165.69ZM458.44 161.28L462.84 161.28L462.84 165.68L458.44 165.68ZM458.79 161.27L463.19 161.27L463.19 165.67L458.79 165.67ZM459.15 161.26L463.55 161.26L463.55 165.66L459.15 165.66ZM459.50 161.25L463.90 161.25L463.90 165.65L459.50 165.65ZM459.85 161.24L464.25 161.24L464.25 165.64L459.85 165.64ZM460.20 161.23L464.60 161.23L464.60 165.63L460.20 165.63ZM460.55 161.22L464.95 161.22L464.95 165.62L460.55 165.62ZM460.89 161.21L465.29 161.21L465.29 165.61L460.89 165.61ZM461.24 161.20L465.64 161.20L465.64 165.60L461.24 165.60ZM461.58 161.19L465.98 161.19L465.98 165.59L461.58 165.59ZM461.92 161.18L466.32 161.18L466.32 165.58L461.92 165.58ZM462.26 161.17L466.66 161.17L466.66 165.57L462.26 165.57ZM462.59 161.16L466.99 161.16L466.99 165.56L462.59 165.56ZM462.93 161.15L467.33 161.15L467.33 165.55L462.93 165.55ZM463.26 161.14L467.66 161.14L467.66 165.54L463.26 165.54ZM463.59 161.13L467.99 161.13L467.99 165.53L463.59 165.53ZM463.92 161.13L468.32 161.13L468.32 165.53L463.92 165.53ZM464.25 161.12L468.65 161.12L468.65 165.52L464.25 165.52ZM464.58 161.11L468.98 161.11L468.98 165.51L464.58 165.51ZM464.90 161.10L469.30 161.10L469.30 165.50L464.90 165.50ZM465.23 161.09L469.63 161.09L469.63 165.49L465.23 165.49ZM465.55 161.08L469.95 161.08L469.95 165.48L465.55 165.48ZM465.87 161.08L470.27 161.08L470.27 165.48L465.87 165.48ZM466.19 161.07L470.59 161.07L470.59 165.47L466.19 165.47ZM466.51 161.06L470.91 161.06L470.91 165.46L466.51 165.46ZM466.82 161.05L471.22 161.05L471.22 165.45L466.82 165.45ZM467.14 161.05L471.54 161.05L471.54 165.45L467.14 165.45ZM467.45 161.04L471.85 161.04L471.85 165.44L467.45 165.44ZM467.76 161.03L472.16 161.03L472.16 165.43L467.76 165.43ZM468.07 161.02L472.47 161.02L472.47 165.42L468.07 165.42ZM468.38 161.02L472.78 161.02L472.78 165.42L468.38 165.42ZM468.69 161.01L473.09 161.01L473.09 165.41L468.69 165.41ZM468.99 161.00L473.39 161.00L473.39 165.40L468.99 165.40ZM469.30 161.00L473.70 161.00L473.70 165.40L469.30 165.40ZM469.60 160.99L474.00 160.99L474.00 165.39L469.60 165.39ZM469.90 160.98L474.30 160.98L474.30 165.38L469.90 165.38ZM470.20 160.98L474.60 160.98L474.60 165.38L470.20 165.38ZM470.50 160.97L474.90 160.97L474.90 165.37L470.50 165.37ZM470.80 160.96L475.20 160.96L475.20 165.36L470.80 165.36ZM471.10 160.96L475.50 160.96L475.50 165.36L471.10 165.36ZM471.39 160.95L475.79 160.95L475.79 165.35L471.39 165.35ZM471.69 160.94L476.09 160.94L476.09 165.34L471.69 165.34ZM471.98 160.94L476.38 160.94L476.38 165.34L471.98 165.34ZM472.27 160.93L476.67 160.93L476.67 165.33L472.27 165.33ZM472.56 160.93L476.96 160.93L476.96 165.33L472.56 165.33ZM472.85 160.92L477.25 160.92L477.25 165.32L472.85 165.32ZM473.13 160.91L477.53 160.91L477.53 165.31L473.13 165.31ZM473.42 160.91L477.82 160.91L477.82 165.31L473.42 165.31ZM473.70 160.90L478.10 160.90L478.10 165.30L473.70 165.30ZM473.99 160.90L478.39 160.90L478.39 165.30L473.99 165.30ZM474.27 160.89L478.67 160.89L478.67 165.29L474.27 165.29ZM474.55 160.89L478.95 160.89L478.95 165.29L474.55 165.29ZM474.83 160.88L479.23 160.88L479.23 165.28L474.83 165.28ZM475.11 160.88L479.51 160.88L479.51 165.28L475.11 165.28ZM475.39 160.87L479.79 160.87L479.79 165.27L475.39 165.27ZM475.66 160.86L480.06 160.86L480.06 165.26L475.66 165.26ZM475.94 160.86L480.34 160.86L480.34 165.26L475.94 165.26ZM476.21 160.85L480.61 160.85L480.61 165.25L476.21 165.25ZM476.48 160.85L480.88 160.85L480.88 165.25L476.48 165.25ZM476.75 160.84L481.15 160.84L481.15 165.24L476.75 165.24ZM477.02 160.84L481.42 160.84L481.42 165.24L477.02 165.24ZM477.29 160.83L481.69 160.83L481.69 165.23L477.29 165.23ZM477.56 160.83L481.96 160.83L481.96 165.23L477.56 165.23ZM477.83 160.83L482.23 160.83L482.23 165.23L477.83 165.23ZM478.09 160.82L482.49 160.82L482.49 165.22L478.09 165.22ZM478.36 160.82L482.76 160.82L482.76 165.22L478.36 165.22ZM478.62 160.81L483.02 160.81L483.02 165.21L478.62 165.21ZM478.88 160.81L483.28 160.81L483.28 165.21L478.88 165.21ZM479.15 160.80L483.55 160.80L483.55 165.20L479.15 165.20ZM479.41 160.80L483.81 160.80L483.81 165.20L479.41 165.20ZM479.66 160.79L484.06 160.79L484.06 165.19L479.66 165.19ZM479.92 160.79L484.32 160.79L484.32 165.19L479.92 165.19ZM480.18 160.78L484.58 160.78L484.58 165.18L480.18 165.18ZM480.44 160.78L484.84 160.78L484.84 165.18L480.44 165.18ZM480.69 160.78L485.09 160.78L485.09 165.18L480.69 165.18ZM480.94 160.77L485.34 160.77L485.34 165.17L480.94 165.17ZM481.20 160.77L485.60 160.77L485.60 165.17L481.20 165.17ZM481.45 160.76L485.85 160.76L485.85 165.16L481.45 165.16ZM481.70 160.76L486.10 160.76L486.10 165.16L481.70 165.16ZM481.95 160.76L486.35 160.76L486.35 165.16L481.95 165.16ZM482.20 160.75L486.60 160.75L486.60 165.15L482.20 165.15ZM482.45 160.75L486.85 160.75L486.85 165.15L482.45 165.15ZM482.69 160.74L487.09 160.74L487.09 165.14L482.69 165.14ZM482.94 160.74L487.34 160.74L487.34 165.14L482.94 165.14ZM483.18 160.74L487.58 160.74L487.58 165.14L483.18 165.14ZM483.43 160.73L487.83 160.73L487.83 165.13L483.43 165.13ZM483.67 160.73L488.07 160.73L488.07 165.13L483.67 165.13ZM483.91 160.73L488.31 160.73L488.31 165.13L483.91 165.13ZM484.15 160.72L488.55 160.72L488.55 165.12L484.15 165.12ZM484.39 160.72L488.79 160.72L488.79 165.12L484.39 165.12ZM484.63 160.71L489.03 160.71L489.03 165.11L484.63 165.11ZM484.87 160.71L489.27 160.71L489.27 165.11L484.87 165.11ZM485.11 160.71L489.51 160.71L489.51 165.11L485.11 165.11ZM485.34 160.70L489.74 160.70L489.74 165.10L485.34 165.10ZM485.58 160.70L489.98 160.70L489.98 165.10L485.58 165.10ZM485.81 160.70L490.21 160.70L490.21 165.10L485.81 165.10ZM486.04 160.69L490.44 160.69L490.44 165.09L486.04 165.09ZM486.28 160.69L490.68 160.69L490.68 165.09L486.28 165.09ZM486.51 160.69L490.91 160.69L490.91 165.09L486.51 165.09ZM486.74 160.69L491.14 160.69L491.14 165.09L486.74 165.09ZM486.97 160.68L491.37 160.68L491.37 165.08L486.97 165.08ZM487.20 160.68L491.60 160.68L491.60 165.08L487.20 165.08ZM487.43 160.68L491.83 160.68L491.83 165.08L487.43 165.08ZM487.65 160.67L492.05 160.67L492.05 165.07L487.65 165.07ZM487.88 160.67L492.28 160.67L492.28 165.07L487.88 165.07ZM488.11 160.67L492.51 160.67L492.51 165.07L488.11 165.07ZM488.33 160.66L492.73 160.66L492.73 165.06L488.33 165.06ZM488.55 160.66L492.95 160.66L492.95 165.06L488.55 165.06ZM488.78 160.66L493.18 160.66L493.18 165.06L488.78 165.06ZM489.00 160.66L493.40 160.66L493.40 165.06L489.00 165.06ZM489.22 160.65L493.62 160.65L493.62 165.05L489.22 165.05ZM489.44 160.65L493.84 160.65L493.84 165.05L489.44 165.05ZM489.66 160.65L494.06 160.65L494.06 165.05L489.66 165.05ZM489.88 160.65L494.28 160.65L494.28 165.05L489.88 165.05ZM490.10 160.64L494.50 160.64L494.50 165.04L490.10 165.04ZM490.31 160.64L494.71 160.64L494.71 165.04L490.31 165.04ZM490.53 160.64L494.93 160.64L494.93 165.04L490.53 165.04ZM490.74 160.64L495.14 160.64L495.14 165.04L490.74 165.04ZM490.96 160.63L495.36 160.63L495.36 165.03L490.96 165.03ZM491.17 160.63L495.57 160.63L495.57 165.03L491.17 165.03ZM491.39 160.63L495.79 160.63L495.79 165.03L491.39 165.03ZM491.60 160.63L496.00 160.63L496.00 165.03L491.60 165.03ZM491.81 160.62L496.21 160.62L496.21 165.02L491.81 165.02ZM492.02 160.62L496.42 160.62L496.42 165.02L492.02 165.02ZM492.23 160.62L496.63 160.62L496.63 165.02L492.23 165.02ZM492.44 160.62L496.84 160.62L496.84 165.02L492.44 165.02ZM492.65 160.61L497.05 160.61L497.05 165.01L492.65 165.01ZM492.86 160.61L497.26 160.61L497.26 165.01L492.86 165.01ZM493.06 160.61L497.46 160.61L497.46 165.01L493.06 165.01ZM493.27 160.61L497.67 160.61L497.67 165.01L493.27 165.01ZM493.47 160.60L497.87 160.60L497.87 165.00L493.47 165.00ZM493.68 160.60L498.08 160.60L498.08 165.00L493.68 165.00ZM493.88 160.60L498.28 160.60L498.28 165.00L493.88 165.00ZM494.09 160.60L498.49 160.60L498.49 165.00L494.09 165.00ZM494.29 160.60L498.69 160.60L498.69 165.00L494.29 165.00ZM494.49 160.59L498.89 160.59L498.89 164.99L494.49 164.99ZM494.69 160.59L499.09 160.59L499.09 164.99L494.69 164.99ZM494.89 160.59L499.29 160.59L499.29 164.99L494.89 164.99ZM495.09 160.59L499.49 160.59L499.49 164.99L495.09 164.99ZM495.29 160.59L499.69 160.59L499.69 164.99L495.29 164.99ZM495.49 160.58L499.89 160.58L499.89 164.98L495.49 164.98ZM495.69 160.58L500.09 160.58L500.09 164.98L495.69 164.98ZM495.88 160.58L500.28 160.58L500.28 164.98L495.88 164.98ZM496.08 160.58L500.48 160.58L500.48 164.98L496.08 164.98ZM496.27 160.58L500.67 160.58L500.67 164.98L496.27 164.98ZM496.47 160.57L500.87 160.57L500.87 164.97L496.47 164.97ZM496.66 160.57L501.06 160.57L501.06 164.97L496.66 164.97ZM496.86 160.57L501.26 160.57L501.26 164.97L496.86 164.97ZM497.05 160.57L501.45 160.57L501.45 164.97L497.05 164.97ZM497.24 160.57L501.64 160.57L501.64 164.97L497.24 164.97ZM497.43 160.57L501.83 160.57L501.83 164.97L497.43 164.97ZM497.62 160.56L502.02 160.56L502.02 164.96L497.62 164.96ZM497.81 160.56L502.21 160.56L502.21 164.96L497.81 164.96ZM498.00 160.56L502.40 160.56L502.40 164.96L498.00 164.96ZM498.19 160.56L502.59 160.56L502.59 164.96L498.19 164.96ZM498.38 160.56L502.78 160.56L502.78 164.96L498.38 164.96ZM498.56 160.56L502.96 160.56L502.96 164.96L498.56 164.96ZM498.75 160.55L503.15 160.55L503.15 164.95L498.75 164.95ZM498.94 160.55L503.34 160.55L503.34 164.95L498.94 164.95ZM499.12 160.55L503.52 160.55L503.52 164.95L499.12 164.95ZM499.31 160.55L503.71 160.55L503.71 164.95L499.31 164.95ZM499.49 160.55L503.89 160.55L503.89 164.95L499.49 164.95ZM499.67 160.55L504.07 160.55L504.07 164.95L499.67 164.95ZM499.86 160.54L504.26 160.54L504.26 164.94L499.86 164.94ZM500.04 160.54L504.44 160.54L504.44 164.94L500.04 164.94ZM500.22 160.54L504.62 160.54L504.62 164.94L500.22 164.94ZM500.40 160.54L504.80 160.54L504.80 164.94L500.40 164.94ZM500.58 160.54L504.98 160.54L504.98 164.94L500.58 164.94ZM500.76 160.54L505.16 160.54L505.16 164.94L500.76 164.94ZM500.94 160.53L505.34 160.53L505.34 164.93L500.94 164.93ZM501.12 160.53L505.52 160.53L505.52 164.93L501.12 164.93ZM501.30 160.53L505.70 160.53L505.70 164.93L501.30 164.93ZM501.47 160.53L505.87 160.53L505.87 164.93L501.47 164.93ZM501.65 160.53L506.05 160.53L506.05 164.93L501.65 164.93ZM501.82 160.53L506.22 160.53L506.22 164.93L501.82 164.93ZM502.00 160.53L506.40 160.53L506.40 164.93L502.00 164.93ZM502.17 160.52L506.57 160.52L506.57 164.92L502.17 164.92ZM502.35 160.52L506.75 160.52L506.75 164.92L502.35 164.92ZM502.52 160.52L506.92 160.52L506.92 164.92L502.52 164.92ZM502.70 160.52L507.10 160.52L507.10 164.92L502.70 164.92ZM502.87 160.52L507.27 160.52L507.27 164.92L502.87 164.92ZM503.04 160.52L507.44 160.52L507.44 164.92L503.04 164.92ZM503.21 160.52L507.61 160.52L507.61 164.92L503.21 164.92ZM503.38 160.52L507.78 160.52L507.78 164.92L503.38 164.92ZM503.55 160.51L507.95 160.51L507.95 164.91L503.55 164.91ZM503.72 160.51L508.12 160.51L508.12 164.91L503.72 164.91ZM503.89 160.51L508.29 160.51L508.29 164.91L503.89 164.91ZM504.06 160.51L508.46 160.51L508.46 164.91L504.06 164.91ZM504.23 160.51L508.63 160.51L508.63 164.91L504.23 164.91ZM504.39 160.51L508.79 160.51L508.79 164.91L504.39 164.91ZM504.56 160.51L508.96 160.51L508.96 164.91L504.56 164.91ZM504.73 160.51L509.13 160.51L509.13 164.91L504.73 164.91ZM504.89 160.50L509.29 160.50L509.29 164.90L504.89 164.90ZM505.06 160.50L509.46 160.50L509.46 164.90L505.06 164.90ZM505.22 160.50L509.62 160.50L509.62 164.90L505.22 164.90ZM505.38 160.50L509.78 160.50L509.78 164.90L505.38 164.90ZM505.55 160.50L509.95 160.50L509.95 164.90L505.55 164.90ZM505.71 160.50L510.11 160.50L510.11 164.90L505.71 164.90ZM505.87 160.50L510.27 160.50L510.27 164.90L505.87 164.90ZM506.03 160.50L510.43 160.50L510.43 164.90L506.03 164.90ZM506.20 160.50L510.60 160.50L510.60 164.90L506.20 164.90ZM506.36 160.49L510.76 160.49L510.76 164.89L506.36 164.89ZM506.52 160.49L510.92 160.49L510.92 164.89L506.52 164.89ZM506.68 160.49L511.08 160.49L511.08 164.89L506.68 164.89ZM506.83 160.49L511.23 160.49L511.23 164.89L506.83 164.89ZM506.99 160.49L511.39 160.49L511.39 164.89L506.99 164.89ZM507.15 160.49L511.55 160.49L511.55 164.89L507.15 164.89ZM507.31 160.49L511.71 160.49L511.71 164.89L507.31 164.89ZM507.46 160.49L511.86 160.49L511.86 164.89L507.46 164.89ZM507.62 160.49L512.02 160.49L512.02 164.89L507.62 164.89ZM507.78 160.49L512.18 160.49L512.18 164.89L507.78 164.89ZM507.93 160.48L512.33 160.48L512.33 164.88L507.93 164.88ZM508.09 160.48L512.49 160.48L512.49 164.88L508.09 164.88ZM508.24 160.48L512.64 160.48L512.64 164.88L508.24 164.88ZM508.40 160.48L512.80 160.48L512.80 164.88L508.40 164.88ZM508.55 160.48L512.95 160.48L512.95 164.88L508.55 164.88ZM508.70 160.48L513.10 160.48L513.10 164.88L508.70 164.88ZM508.85 160.48L513.25 160.48L513.25 164.88L508.85 164.88ZM509.01 160.48L513.41 160.48L513.41 164.88L509.01 164.88ZM509.16 160.48L513.56 160.48L513.56 164.88L509.16 164.88ZM509.31 160.48L513.71 160.48L513.71 164.88L509.31 164.88ZM509.46 160.48L513.86 160.48L513.86 164.88L509.46 164.88ZM509.61 160.47L514.01 160.47L514.01 164.87L509.61 164.87ZM509.76 160.47L514.16 160.47L514.16 164.87L509.76 164.87ZM509.91 160.47L514.31 160.47L514.31 164.87L509.91 164.87ZM510.05 160.47L514.45 160.47L514.45 164.87L510.05 164.87ZM510.20 160.47L514.60 160.47L514.60 164.87L510.20 164.87ZM510.35 160.47L514.75 160.47L514.75 164.87L510.35 164.87ZM510.50 160.47L514.90 160.47L514.90 164.87L510.50 164.87ZM510.64 160.47L515.04 160.47L515.04 164.87L510.64 164.87ZM510.79 160.47L515.19 160.47L515.19 164.87L510.79 164.87ZM510.93 160.47L515.33 160.47L515.33 164.87L510.93 164.87ZM511.08 160.47L515.48 160.47L515.48 164.87L511.08 164.87ZM511.22 160.47L515.62 160.47L515.62 164.87L511.22 164.87ZM511.37 160.47L515.77 160.47L515.77 164.87L511.37 164.87ZM511.51 160.46L515.91 160.46L515.91 164.86L511.51 164.86ZM511.66 160.46L516.06 160.46L516.06 164.86L511.66 164.86ZM511.80 160.46L516.20 160.46L516.20 164.86L511.80 164.86ZM511.94 160.46L516.34 160.46L516.34 164.86L511.94 164.86ZM512.08 160.46L516.48 160.46L516.48 164.86L512.08 164.86ZM512.22 160.46L516.62 160.46L516.62 164.86L512.22 164.86ZM512.36 160.46L516.76 160.46L516.76 164.86L512.36 164.86ZM512.50 160.46L516.90 160.46L516.90 164.86L512.50 164.86ZM512.64 160.46L517.04 160.46L517.04 164.86L512.64 164.86ZM512.78 160.46L517.18 160.46L517.18 164.86L512.78 164.86ZM512.92 160.46L517.32 160.46L517.32 164.86L512.92 164.86ZM513.06 160.46L517.46 160.46L517.46 164.86L513.06 164.86ZM513.20 160.46L517.60 160.46L517.60 164.86L513.20 164.86ZM513.34 160.46L517.74 160.46L517.74 164.86L513.34 164.86ZM513.47 160.45L517.87 160.45L517.87 164.85L513.47 164.85ZM513.61 160.45L518.01 160.45L518.01 164.85L513.61 164.85ZM513.75 160.45L518.15 160.45L518.15 164.85L513.75 164.85ZM513.88 160.45L518.28 160.45L518.28 164.85L513.88 164.85ZM514.02 160.45L518.42 160.45L518.42 164.85L514.02 164.85ZM514.15 160.45L518.55 160.45L518.55 164.85L514.15 164.85ZM514.29 160.45L518.69 160.45L518.69 164.85L514.29 164.85ZM514.42 160.45L518.82 160.45L518.82 164.85L514.42 164.85ZM514.56 160.45L518.96 160.45L518.96 164.85L514.56 164.85ZM514.69 160.45L519.09 160.45L519.09 164.85L514.69 164.85ZM514.82 160.45L519.22 160.45L519.22 164.85L514.82 164.85ZM514.96 160.45L519.36 160.45L519.36 164.85L514.96 164.85ZM515.09 160.45L519.49 160.45L519.49 164.85L515.09 164.85ZM515.22 160.45L519.62 160.45L519.62 164.85L515.22 164.85ZM515.35 160.45L519.75 160.45L519.75 164.85L515.35 164.85ZM515.48 160.45L519.88 160.45L519.88 164.85L515.48 164.85ZM515.61 160.45L520.01 160.45L520.01 164.85L515.61 164.85ZM515.74 160.44L520.14 160.44L520.14 164.84L515.74 164.84ZM515.87 160.44L520.27 160.44L520.27 164.84L515.87 164.84ZM516.00 160.44L520.40 160.44L520.40 164.84L516.00 164.84ZM516.13 160.44L520.53 160.44L520.53 164.84L516.13 164.84ZM516.26 160.44L520.66 160.44L520.66 164.84L516.26 164.84ZM516.38 160.44L520.78 160.44L520.78 164.84L516.38 164.84ZM516.51 160.44L520.91 160.44L520.91 164.84L516.51 164.84ZM516.64 160.44L521.04 160.44L521.04 164.84L516.64 164.84ZM516.77 160.44L521.17 160.44L521.17 164.84L516.77 164.84ZM516.89 160.44L521.29 160.44L521.29 164.84L516.89 164.84ZM517.02 160.44L521.42 160.44L521.42 164.84L517.02 164.84ZM517.14 160.44L521.54 160.44L521.54 164.84L517.14 164.84ZM517.27 160.44L521.67 160.44L521.67 164.84L517.27 164.84ZM517.39 160.44L521.79 160.44L521.79 164.84L517.39 164.84ZM517.52 160.44L521.92 160.44L521.92 164.84L517.52 164.84Z" fill="none" stroke="#000" stroke-width="0.55"/>
<use href="#m4" x="519.84" y="162.64"/>
</g>
<g clip-path="url(#cb)">
<path d="M700.44 162.44L701.45 165.15L704.34 165.28L702.08 167.07L702.85 169.86L700.44 168.26L698.03 169.86L698.80 167.07L696.54 165.28L699.43 165.15ZM700.75 162.41L701.76 165.12L704.65 165.25L702.38 167.05L703.16 169.83L700.75 168.23L698.34 169.83L699.11 167.05L696.85 165.25L699.73 165.12ZM701.18 162.35L702.19 165.06L705.08 165.19L702.81 166.98L703.59 169.77L701.18 168.17L698.77 169.77L699.54 166.98L697.28 165.19L700.17 165.06ZM701.74 162.23L702.75 164.94L705.64 165.07L703.38 166.87L704.15 169.65L701.74 168.06L699.33 169.65L700.10 166.87L697.84 165.07L700.73 164.94ZM702.40 162.07L703.42 164.78L706.30 164.91L704.04 166.71L704.81 169.49L702.40 167.90L699.99 169.49L700.77 166.71L698.50 164.91L701.39 164.78ZM703.33 161.42L704.34 164.13L707.23 164.26L704.97 166.06L705.74 168.84L703.33 167.25L700.92 168.84L701.69 166.06L699.43 164.26L702.32 164.13ZM704.23 160.29L705.25 163.00L708.13 163.13L705.87 164.92L706.64 167.71L704.23 166.11L701.82 167.71L702.60 164.92L700.33 163.13L703.22 163.00ZM705.24 158.81L706.26 161.52L709.14 161.64L706.88 163.44L707.65 166.23L705.24 164.63L702.83 166.23L703.61 163.44L701.34 161.64L704.23 161.52ZM706.36 155.20L707.37 157.91L710.26 158.04L708.00 159.84L708.77 162.62L706.36 161.03L703.95 162.62L704.72 159.84L702.46 158.04L705.35 157.91ZM707.58 150.62L708.59 153.33L711.48 153.46L709.22 155.26L709.99 158.04L707.58 156.45L705.17 158.04L705.94 155.26L703.68 153.46L706.57 153.33ZM708.91 145.85L709.92 148.55L712.81 148.68L710.55 150.48L711.32 153.26L708.91 151.67L706.50 153.26L707.27 150.48L705.01 148.68L707.90 148.55ZM710.35 137.78L711.36 140.48L714.25 140.61L711.98 142.41L712.76 145.19L710.35 143.60L707.94 145.19L708.71 142.41L706.45 140.61L709.33 140.48ZM711.89 125.91L712.90 128.62L715.79 128.74L713.52 130.54L714.30 133.33L711.89 131.73L709.48 133.33L710.25 130.54L707.99 128.74L710.87 128.62ZM713.53 112.13L714.55 114.84L717.43 114.97L715.17 116.76L715.94 119.55L713.53 117.95L711.12 119.55L711.90 116.76L709.63 114.97L712.52 114.84ZM715.28 99.56L716.30 102.27L719.18 102.40L716.92 104.20L717.69 106.98L715.28 105.39L712.88 106.98L713.65 104.20L711.39 102.40L714.27 102.27ZM717.14 88.37L718.15 91.08L721.04 91.20L718.78 93.00L719.55 95.79L717.14 94.19L714.73 95.79L715.50 93.00L713.24 91.20L716.13 91.08ZM719.10 78.17L720.11 80.88L723.00 81.00L720.74 82.80L721.51 85.59L719.10 83.99L716.69 85.59L717.46 82.80L715.20 81.00L718.09 80.88ZM721.16 69.02L722.18 71.72L725.06 71.85L722.80 73.65L723.57 76.43L721.16 74.84L718.75 76.43L719.53 73.65L717.27 71.85L720.15 71.72ZM723.33 60.78L724.34 63.49L727.23 63.62L724.97 65.42L725.74 68.20L723.33 66.61L720.92 68.20L721.69 65.42L719.43 63.62L722.32 63.49ZM725.60 54.41L726.61 57.12L729.50 57.24L727.24 59.04L728.01 61.83L725.60 60.23L723.19 61.83L723.96 59.04L721.70 57.24L724.59 57.12ZM727.97 51.62L728.98 54.33L731.87 54.46L729.61 56.26L730.38 59.04L727.97 57.45L725.56 59.04L726.33 56.26L724.07 54.46L726.96 54.33ZM730.45 52.03L731.46 54.74L734.34 54.86L732.08 56.66L732.86 59.45L730.45 57.85L728.04 59.45L728.81 56.66L726.55 54.86L729.43 54.74ZM733.02 54.43L734.03 57.14L736.92 57.26L734.66 59.06L735.43 61.85L733.02 60.25L730.61 61.85L731.38 59.06L729.12 57.26L732.01 57.14ZM735.69 58.14L736.70 60.85L739.59 60.97L737.33 62.77L738.10 65.56L735.69 63.96L733.28 65.56L734.06 62.77L731.79 60.97L734.68 60.85ZM738.47 62.43L739.48 65.14L742.37 65.26L740.10 67.06L740.88 69.85L738.47 68.25L736.06 69.85L736.83 67.06L734.57 65.26L737.45 65.14ZM741.34 68.97L742.35 71.68L745.24 71.80L742.98 73.60L743.75 76.39L741.34 74.79L738.93 76.39L739.70 73.60L737.44 71.80L740.33 71.68ZM744.31 76.87L745.32 79.58L748.21 79.70L745.95 81.50L746.72 84.29L744.31 82.69L741.90 84.29L742.67 81.50L740.41 79.70L743.30 79.58ZM747.38 83.55L748.39 86.26L751.28 86.38L749.02 88.18L749.79 90.97L747.38 89.37L744.97 90.97L745.74 88.18L743.48 86.38L746.37 86.26ZM750.54 89.72L751.55 92.42L754.44 92.55L752.18 94.35L752.95 97.13L750.54 95.54L748.13 97.13L748.90 94.35L746.64 92.55L749.53 92.42ZM753.80 95.70L754.82 98.41L757.70 98.53L755.44 100.33L756.21 103.12L753.80 101.52L751.39 103.12L752.17 100.33L749.90 98.53L752.79 98.41ZM757.16 101.33L758.17 104.03L761.06 104.16L758.80 105.96L759.57 108.74L757.16 107.15L754.75 108.74L755.52 105.96L753.26 104.16L756.15 104.03ZM760.61 106.46L761.62 109.16L764.51 109.29L762.25 111.09L763.02 113.87L760.61 112.28L758.20 113.87L758.97 111.09L756.71 109.29L759.60 109.16ZM764.15 111.19L765.17 113.89L768.05 114.02L765.79 115.82L766.56 118.60L764.15 117.01L761.74 118.60L762.52 115.82L760.25 114.02L763.14 113.89ZM767.79 115.54L768.80 118.25L771.69 118.38L769.43 120.17L770.20 122.96L767.79 121.36L765.38 122.96L766.15 120.17L763.89 118.38L766.78 118.25ZM771.52 119.46L772.53 122.16L775.42 122.29L773.16 124.09L773.93 126.87L771.52 125.28L769.11 126.87L769.88 124.09L767.62 122.29L770.51 122.16ZM775.34 122.92L776.35 125.62L779.24 125.75L776.97 127.55L777.75 130.33L775.34 128.74L772.93 130.33L773.70 127.55L771.44 125.75L774.32 125.62ZM779.25 126.04L780.26 128.74L783.14 128.87L780.88 130.67L781.65 133.45L779.25 131.86L776.84 133.45L777.61 130.67L775.35 128.87L778.23 128.74ZM783.24 128.92L784.25 131.62L787.14 131.75L784.88 133.55L785.65 136.33L783.24 134.74L780.83 136.33L781.61 133.55L779.34 131.75L782.23 131.62ZM787.33 131.61L788.34 134.31L791.23 134.44L788.97 136.24L789.74 139.02L787.33 137.43L784.92 139.02L785.69 136.24L783.43 134.44L786.32 134.31ZM791.50 134.09L792.51 136.80L795.40 136.92L793.14 138.72L793.91 141.51L791.50 139.91L789.09 141.51L789.86 138.72L787.60 136.92L790.49 136.80ZM795.76 136.37L796.77 139.08L799.66 139.20L797.40 141.00L798.17 143.79L795.76 142.19L793.35 143.79L794.12 141.00L791.86 139.20L794.75 139.08ZM800.10 138.50L801.12 141.21L804.00 141.33L801.74 143.13L802.51 145.92L800.10 144.32L797.69 145.92L798.47 143.13L796.20 141.33L799.09 141.21ZM804.53 140.42L805.54 143.13L808.43 143.26L806.17 145.06L806.94 147.84L804.53 146.25L802.12 147.84L802.89 145.06L800.63 143.26L803.52 143.13ZM809.04 142.07L810.05 144.78L812.94 144.91L810.68 146.71L811.45 149.49L809.04 147.90L806.63 149.49L807.40 146.71L805.14 144.91L808.03 144.78ZM813.63 143.51L814.64 146.21L817.53 146.34L815.27 148.14L816.04 150.92L813.63 149.33L811.22 150.92L811.99 148.14L809.73 146.34L812.62 146.21ZM818.30 144.81L819.32 147.51L822.20 147.64L819.94 149.44L820.71 152.22L818.30 150.63L815.89 152.22L816.67 149.44L814.41 147.64L817.29 147.51ZM823.06 146.03L824.07 148.74L826.96 148.87L824.69 150.66L825.47 153.45L823.06 151.85L820.65 153.45L821.42 150.66L819.16 148.87L822.04 148.74ZM827.89 147.12L828.90 149.83L831.79 149.95L829.52 151.75L830.30 154.54L827.89 152.94L825.48 154.54L826.25 151.75L823.99 149.95L826.87 149.83ZM832.79 148.00L833.81 150.71L836.69 150.84L834.43 152.63L835.20 155.42L832.79 153.82L830.38 155.42L831.16 152.63L828.89 150.84L831.78 150.71ZM837.78 148.74L838.79 151.45L841.68 151.57L839.41 153.37L840.19 156.16L837.78 154.56L835.37 156.16L836.14 153.37L833.88 151.57L836.76 151.45ZM842.83 149.44L843.85 152.14L846.73 152.27L844.47 154.07L845.24 156.86L842.83 155.26L840.42 156.86L841.20 154.07L838.93 152.27L841.82 152.14ZM847.96 150.10L848.98 152.81L851.86 152.94L849.60 154.74L850.37 157.52L847.96 155.93L845.55 157.52L846.33 154.74L844.06 152.94L846.95 152.81ZM853.17 150.73L854.18 153.44L857.07 153.56L854.80 155.36L855.58 158.15L853.17 156.55L850.76 158.15L851.53 155.36L849.27 153.56L852.15 153.44ZM858.44 151.34L859.45 154.04L862.34 154.17L860.08 155.97L860.85 158.75L858.44 157.16L856.03 158.75L856.80 155.97L854.54 154.17L857.43 154.04ZM863.78 151.88L864.80 154.59L867.68 154.71L865.42 156.51L866.19 159.30L863.78 157.70L861.37 159.30L862.15 156.51L859.88 154.71L862.77 154.59ZM869.20 152.30L870.21 155.01L873.10 155.13L870.83 156.93L871.61 159.72L869.20 158.12L866.79 159.72L867.56 156.93L865.30 155.13L868.18 155.01ZM874.67 152.66L875.69 155.37L878.57 155.50L876.31 157.30L877.08 160.08L874.67 158.48L872.26 160.08L873.04 157.30L870.78 155.50L873.66 155.37ZM880.22 153.04L881.23 155.75L884.12 155.87L881.86 157.67L882.63 160.46L880.22 158.86L877.81 160.46L878.58 157.67L876.32 155.87L879.21 155.75ZM885.83 153.41L886.84 156.12L889.73 156.25L887.47 158.05L888.24 160.83L885.83 159.24L883.42 160.83L884.19 158.05L881.93 156.25L884.82 156.12ZM891.50 153.78L892.51 156.49L895.40 156.62L893.14 158.41L893.91 161.20L891.50 159.60L889.09 161.20L889.86 158.41L887.60 156.62L890.49 156.49ZM897.23 154.14L898.24 156.85L901.13 156.98L898.87 158.78L899.64 161.56L897.23 159.97L894.82 161.56L895.59 158.78L893.33 156.98L896.22 156.85ZM903.02 154.50L904.04 157.21L906.92 157.33L904.66 159.13L905.43 161.92L903.02 160.32L900.61 161.92L901.39 159.13L899.13 157.33L902.01 157.21ZM908.88 154.85L909.89 157.56L912.78 157.68L910.51 159.48L911.29 162.27L908.88 160.67L906.47 162.27L907.24 159.48L904.98 157.68L907.86 157.56ZM914.79 155.19L915.80 157.90L918.69 158.02L916.42 159.82L917.20 162.61L914.79 161.01L912.38 162.61L913.15 159.82L910.89 158.02L913.77 157.90ZM920.75 155.52L921.76 158.23L924.65 158.36L922.39 160.15L923.16 162.94L920.75 161.34L918.34 162.94L919.11 160.15L916.85 158.36L919.74 158.23ZM926.77 155.86L927.78 158.56L930.67 158.69L928.41 160.49L929.18 163.27L926.77 161.68L924.36 163.27L925.13 160.49L922.87 158.69L925.76 158.56ZM932.84 156.19L933.85 158.90L936.74 159.02L934.48 160.82L935.25 163.61L932.84 162.01L930.43 163.61L931.20 160.82L928.94 159.02L931.83 158.90ZM938.97 156.52L939.98 159.23L942.86 159.36L940.60 161.16L941.38 163.94L938.97 162.35L936.56 163.94L937.33 161.16L935.07 159.36L937.95 159.23ZM945.14 156.85L946.15 159.56L949.04 159.69L946.78 161.48L947.55 164.27L945.14 162.67L942.73 164.27L943.50 161.48L941.24 159.69L944.13 159.56ZM951.36 157.17L952.37 159.88L955.26 160.01L953.00 161.81L953.77 164.59L951.36 163.00L948.95 164.59L949.72 161.81L947.46 160.01L950.35 159.88ZM957.63 157.49L958.64 160.19L961.53 160.32L959.27 162.12L960.04 164.90L957.63 163.31L955.22 164.90L955.99 162.12L953.73 160.32L956.62 160.19ZM963.94 157.79L964.96 160.50L967.84 160.62L965.58 162.42L966.35 165.21L963.94 163.61L961.53 165.21L962.31 162.42L960.04 160.62L962.93 160.50ZM970.30 158.08L971.31 160.79L974.20 160.91L971.94 162.71L972.71 165.50L970.30 163.90L967.89 165.50L968.66 162.71L966.40 160.91L969.29 160.79ZM976.70 158.35L977.71 161.06L980.60 161.19L978.34 162.98L979.11 165.77L976.70 164.17L974.29 165.77L975.06 162.98L972.80 161.19L975.69 161.06ZM983.14 158.61L984.15 161.32L987.04 161.44L984.78 163.24L985.55 166.03L983.14 164.43L980.73 166.03L981.50 163.24L979.24 161.44L982.13 161.32ZM989.62 158.85L990.63 161.56L993.52 161.69L991.26 163.49L992.03 166.27L989.62 164.68L987.21 166.27L987.98 163.49L985.72 161.69L988.61 161.56ZM996.14 159.08L997.15 161.78L1000.04 161.91L997.78 163.71L998.55 166.49L996.14 164.90L993.73 166.49L994.50 163.71L992.24 161.91L995.13 161.78ZM1002.69 159.28L1003.71 161.99L1006.59 162.11L1004.33 163.91L1005.10 166.70L1002.69 165.10L1000.28 166.70L1001.06 163.91L998.79 162.11L1001.68 161.99ZM1009.28 159.47L1010.29 162.18L1013.18 162.30L1010.92 164.10L1011.69 166.89L1009.28 165.29L1006.87 166.89L1007.64 164.10L1005.38 162.30L1008.27 162.18ZM1015.90 159.64L1016.91 162.35L1019.80 162.47L1017.54 164.27L1018.31 167.06L1015.90 165.46L1013.49 167.06L1014.26 164.27L1012.00 162.47L1014.89 162.35ZM1022.55 159.80L1023.57 162.51L1026.45 162.63L1024.19 164.43L1024.96 167.22L1022.55 165.62L1020.14 167.22L1020.92 164.43L1018.65 162.63L1021.54 162.51ZM1029.23 159.95L1030.25 162.66L1033.13 162.78L1030.87 164.58L1031.64 167.37L1029.23 165.77L1026.82 167.37L1027.60 164.58L1025.34 162.78L1028.22 162.66ZM1035.94 160.09L1036.96 162.80L1039.84 162.93L1037.58 164.73L1038.35 167.51L1035.94 165.92L1033.53 167.51L1034.31 164.73L1032.04 162.93L1034.93 162.80ZM1042.68 160.23L1043.69 162.94L1046.58 163.07L1044.32 164.87L1045.09 167.65L1042.68 166.06L1040.27 167.65L1041.04 164.87L1038.78 163.07L1041.67 162.94ZM1049.44 160.37L1050.45 163.08L1053.34 163.20L1051.08 165.00L1051.85 167.79L1049.44 166.19L1047.03 167.79L1047.80 165.00L1045.54 163.20L1048.43 163.08ZM1056.22 160.50L1057.23 163.21L1060.12 163.34L1057.86 165.14L1058.63 167.92L1056.22 166.33L1053.81 167.92L1054.58 165.14L1052.32 163.34L1055.21 163.21ZM1063.03 160.64L1064.04 163.34L1066.93 163.47L1064.66 165.27L1065.44 168.06L1063.03 166.46L1060.62 168.06L1061.39 165.27L1059.13 163.47L1062.01 163.34ZM1069.85 160.78L1070.86 163.48L1073.75 163.61L1071.49 165.41L1072.26 168.19L1069.85 166.60L1067.44 168.19L1068.21 165.41L1065.95 163.61L1068.84 163.48ZM1076.69 160.92L1077.70 163.62L1080.59 163.75L1078.33 165.55L1079.10 168.33L1076.69 166.74L1074.28 168.33L1075.05 165.55L1072.79 163.75L1075.68 163.62ZM1083.55 161.06L1084.56 163.77L1087.45 163.89L1085.19 165.69L1085.96 168.48L1083.55 166.88L1081.14 168.48L1081.91 165.69L1079.65 163.89L1082.54 163.77ZM1090.42 161.21L1091.43 163.92L1094.32 164.04L1092.06 165.84L1092.83 168.63L1090.42 167.03L1088.01 168.63L1088.78 165.84L1086.52 164.04L1089.41 163.92ZM1097.31 161.37L1098.32 164.07L1101.21 164.20L1098.94 166.00L1099.72 168.78L1097.31 167.19L1094.90 168.78L1095.67 166.00L1093.41 164.20L1096.29 164.07ZM1104.20 161.53L1105.22 164.23L1108.10 164.36L1105.84 166.16L1106.61 168.94L1104.20 167.35L1101.79 168.94L1102.57 166.16L1100.30 164.36L1103.19 164.23ZM1111.11 161.69L1112.12 164.40L1115.01 164.52L1112.75 166.32L1113.52 169.11L1111.11 167.51L1108.70 169.11L1109.47 166.32L1107.21 164.52L1110.10 164.40ZM1118.02 161.85L1119.04 164.56L1121.92 164.69L1119.66 166.49L1120.43 169.27L1118.02 167.68L1115.61 169.27L1116.39 166.49L1114.12 164.69L1117.01 164.56ZM1124.94 162.02L1125.96 164.73L1128.84 164.85L1126.58 166.65L1127.35 169.44L1124.94 167.84L1122.53 169.44L1123.31 166.65L1121.04 164.85L1123.93 164.73ZM1131.87 162.19L1132.88 164.89L1135.77 165.02L1133.51 166.82L1134.28 169.60L1131.87 168.01L1129.46 169.60L1130.23 166.82L1127.97 165.02L1130.86 164.89ZM1138.80 162.35L1139.81 165.06L1142.70 165.19L1140.43 166.98L1141.21 169.77L1138.80 168.17L1136.39 169.77L1137.16 166.98L1134.90 165.19L1137.78 165.06Z" fill="#000"/>
<use href="#m1" x="700.44" y="253.24"/><use href="#m1" x="700.75" y="252.24"/><use href="#m1" x="701.18" y="250.73"/><use href="#m1" x="701.74" y="249.20"/><use href="#m1" x="702.40" y="247.28"/><use href="#m1" x="703.33" y="245.10"/><use href="#m1" x="704.23" y="244.10"/><use href="#m1" x="705.24" y="242.61"/><use href="#m1" x="706.36" y="239.72"/><use href="#m1" x="707.58" y="237.86"/><use href="#m1" x="708.91" y="235.15"/><use href="#m1" x="710.35" y="233.07"/><use href="#m1" x="711.89" y="230.08"/><use href="#m1" x="713.53" y="227.60"/><use href="#m1" x="715.28" y="225.69"/><use href="#m1" x="717.14" y="224.12"/><use href="#m1" x="719.10" y="223.50"/><use href="#m1" x="721.16" y="223.26"/><use href="#m1" x="723.33" y="223.24"/><use href="#m1" x="725.60" y="223.69"/><use href="#m1" x="727.97" y="223.96"/><use href="#m1" x="730.45" y="223.96"/><use href="#m1" x="733.02" y="223.96"/><use href="#m1" x="735.69" y="223.68"/><use href="#m1" x="738.47" y="222.59"/><use href="#m1" x="741.34" y="221.29"/><use href="#m1" x="744.31" y="219.99"/><use href="#m1" x="747.38" y="218.50"/><use href="#m1" x="750.54" y="216.87"/><use href="#m1" x="753.80" y="214.96"/><use href="#m1" x="757.16" y="212.83"/><use href="#m1" x="760.61" y="210.91"/><use href="#m1" x="764.15" y="209.28"/><use href="#m1" x="767.79" y="207.41"/><use href="#m1" x="771.52" y="205.42"/><use href="#m1" x="775.34" y="203.51"/><use href="#m1" x="779.25" y="201.82"/><use href="#m1" x="783.24" y="200.28"/><use href="#m1" x="787.33" y="198.81"/><use href="#m1" x="791.50" y="197.30"/><use href="#m1" x="795.76" y="195.74"/><use href="#m1" x="800.10" y="194.20"/><use href="#m1" x="804.53" y="192.72"/><use href="#m1" x="809.04" y="191.31"/><use href="#m1" x="813.63" y="189.94"/><use href="#m1" x="818.30" y="188.58"/><use href="#m1" x="823.06" y="187.22"/><use href="#m1" x="827.89" y="185.93"/><use href="#m1" x="832.79" y="184.77"/><use href="#m1" x="837.78" y="183.70"/><use href="#m1" x="842.83" y="182.70"/><use href="#m1" x="847.96" y="181.78"/><use href="#m1" x="853.17" y="180.91"/><use href="#m1" x="858.44" y="180.05"/><use href="#m1" x="863.78" y="179.21"/><use href="#m1" x="869.20" y="178.46"/><use href="#m1" x="874.67" y="177.76"/><use href="#m1" x="880.22" y="177.18"/><use href="#m1" x="885.83" y="176.77"/><use href="#m1" x="891.50" y="176.44"/><use href="#m1" x="897.23" y="176.08"/><use href="#m1" x="903.02" y="175.69"/><use href="#m1" x="908.88" y="175.29"/><use href="#m1" x="914.79" y="174.92"/><use href="#m1" x="920.75" y="174.59"/><use href="#m1" x="926.77" y="174.31"/><use href="#m1" x="932.84" y="174.04"/><use href="#m1" x="938.97" y="173.79"/><use href="#m1" x="945.14" y="173.55"/><use href="#m1" x="951.36" y="173.33"/><use href="#m1" x="957.63" y="173.11"/><use href="#m1" x="963.94" y="172.91"/><use href="#m1" x="970.30" y="172.70"/><use href="#m1" x="976.70" y="172.50"/><use href="#m1" x="983.14" y="172.30"/><use href="#m1" x="989.62" y="172.12"/><use href="#m1" x="996.14" y="171.95"/><use href="#m1" x="1002.69" y="171.80"/><use href="#m1" x="1009.28" y="171.67"/><use href="#m1" x="1015.90" y="171.56"/><use href="#m1" x="1022.55" y="171.46"/><use href="#m1" x="1029.23" y="171.37"/><use href="#m1" x="1035.94" y="171.28"/><use href="#m1" x="1042.68" y="171.20"/><use href="#m1" x="1049.44" y="171.13"/><use href="#m1" x="1056.22" y="171.06"/><use href="#m1" x="1063.03" y="170.99"/><use href="#m1" x="1069.85" y="170.93"/><use href="#m1" x="1076.69" y="170.87"/><use href="#m1" x="1083.55" y="170.81"/><use href="#m1" x="1090.42" y="170.75"/><use href="#m1" x="1097.31" y="170.70"/><use href="#m1" x="1104.20" y="170.65"/><use href="#m1" x="1111.11" y="170.60"/><use href="#m1" x="1118.02" y="170.55"/><use href="#m1" x="1124.94" y="170.51"/><use href="#m1" x="1131.87" y="170.47"/><use href="#m1" x="1138.80" y="170.43"/>
<path d="M696.72 162.73L703.52 166.13L696.72 169.53ZM696.80 162.68L703.60 166.08L696.80 169.48ZM696.91 162.61L703.71 166.01L696.91 169.41ZM697.04 162.48L703.84 165.88L697.04 169.28ZM697.20 162.28L704.00 165.68L697.20 169.08ZM697.38 162.04L704.18 165.44L697.38 168.84ZM697.58 161.42L704.38 164.82L697.58 168.22ZM697.81 160.47L704.61 163.87L697.81 167.27ZM698.05 159.17L704.85 162.57L698.05 165.97ZM698.32 156.18L705.12 159.58L698.32 162.98ZM698.62 152.59L705.42 155.99L698.62 159.39ZM698.94 147.76L705.74 151.16L698.94 154.56ZM699.28 141.82L706.08 145.22L699.28 148.62ZM699.64 135.15L706.44 138.55L699.64 141.95ZM700.03 126.79L706.83 130.19L700.03 133.59ZM700.44 115.77L707.24 119.17L700.44 122.57ZM700.87 105.22L707.67 108.62L700.87 112.02ZM701.33 94.70L708.13 98.10L701.33 101.50ZM701.80 83.89L708.60 87.29L701.80 90.69ZM702.31 72.89L709.11 76.29L702.31 79.69ZM702.83 63.88L709.63 67.28L702.83 70.68ZM703.38 54.65L710.18 58.05L703.38 61.45ZM703.95 48.14L710.75 51.54L703.95 54.94ZM704.54 44.20L711.34 47.60L704.54 51.00ZM705.16 41.88L711.96 45.28L705.16 48.68ZM705.80 42.24L712.60 45.64L705.80 49.04ZM706.46 43.48L713.26 46.88L706.46 50.28ZM707.14 46.50L713.94 49.90L707.14 53.30ZM707.85 50.82L714.65 54.22L707.85 57.62ZM708.58 56.94L715.38 60.34L708.58 63.74ZM709.33 62.83L716.13 66.23L709.33 69.63ZM710.11 67.73L716.91 71.13L710.11 74.53ZM710.90 72.56L717.70 75.96L710.90 79.36ZM711.72 78.07L718.52 81.47L711.72 84.87ZM712.57 84.61L719.37 88.01L712.57 91.41ZM713.43 90.34L720.23 93.74L713.43 97.14ZM714.32 95.53L721.12 98.93L714.32 102.33ZM715.23 100.16L722.03 103.56L715.23 106.96ZM716.16 104.48L722.96 107.88L716.16 111.28ZM717.11 108.47L723.91 111.87L717.11 115.27ZM718.09 112.08L724.89 115.48L718.09 118.88ZM719.09 115.28L725.89 118.68L719.09 122.08ZM720.11 118.11L726.91 121.51L720.11 124.91ZM721.15 120.69L727.95 124.09L721.15 127.49ZM722.21 123.05L729.01 126.45L722.21 129.85ZM723.30 125.22L730.10 128.62L723.30 132.02ZM724.41 127.21L731.21 130.61L724.41 134.01ZM725.54 129.06L732.34 132.46L725.54 135.86ZM726.69 130.81L733.49 134.21L726.69 137.61ZM727.86 132.48L734.66 135.88L727.86 139.28ZM729.05 134.06L735.85 137.46L729.05 140.86ZM730.27 135.53L737.07 138.93L730.27 142.33ZM731.51 136.88L738.31 140.28L731.51 143.68ZM732.77 138.12L739.57 141.52L732.77 144.92ZM734.05 139.24L740.85 142.64L734.05 146.04ZM735.35 140.23L742.15 143.63L735.35 147.03ZM736.67 141.13L743.47 144.53L736.67 147.93ZM738.01 141.97L744.81 145.37L738.01 148.77ZM739.38 142.76L746.18 146.16L739.38 149.56ZM740.77 143.49L747.57 146.89L740.77 150.29ZM742.17 144.18L748.97 147.58L742.17 150.98ZM743.60 144.83L750.40 148.23L743.60 151.63ZM745.05 145.45L751.85 148.85L745.05 152.25ZM746.52 146.03L753.32 149.43L746.52 152.83ZM748.01 146.58L754.81 149.98L748.01 153.38ZM749.52 147.11L756.32 150.51L749.52 153.91ZM751.05 147.62L757.85 151.02L751.05 154.42ZM752.60 148.11L759.40 151.51L752.60 154.91ZM754.17 148.58L760.97 151.98L754.17 155.38ZM755.76 149.03L762.56 152.43L755.76 155.83ZM757.37 149.47L764.17 152.87L757.37 156.27ZM759.00 149.89L765.80 153.29L759.00 156.69ZM760.66 150.29L767.46 153.69L760.66 157.09ZM762.33 150.67L769.13 154.07L762.33 157.47ZM764.02 151.05L770.82 154.45L764.02 157.85ZM765.73 151.40L772.53 154.80L765.73 158.20ZM767.46 151.74L774.26 155.14L767.46 158.54ZM769.21 152.06L776.01 155.46L769.21 158.86ZM770.98 152.37L777.78 155.77L770.98 159.17ZM772.77 152.66L779.57 156.06L772.77 159.46ZM774.58 152.94L781.38 156.34L774.58 159.74ZM776.40 153.21L783.20 156.61L776.40 160.01ZM778.25 153.47L785.05 156.87L778.25 160.27ZM780.12 153.73L786.92 157.13L780.12 160.53ZM782.00 153.98L788.80 157.38L782.00 160.78ZM783.90 154.22L790.70 157.62L783.90 161.02ZM785.82 154.45L792.62 157.85L785.82 161.25ZM787.76 154.68L794.56 158.08L787.76 161.48ZM789.72 154.90L796.52 158.30L789.72 161.70ZM791.70 155.11L798.50 158.51L791.70 161.91ZM793.69 155.31L800.49 158.71L793.69 162.11ZM795.71 155.51L802.51 158.91L795.71 162.31ZM797.74 155.70L804.54 159.10L797.74 162.50ZM799.79 155.89L806.59 159.29L799.79 162.69ZM801.86 156.07L808.66 159.47L801.86 162.87ZM803.94 156.24L810.74 159.64L803.94 163.04ZM806.04 156.41L812.84 159.81L806.04 163.21ZM808.16 156.57L814.96 159.97L808.16 163.37ZM810.30 156.73L817.10 160.13L810.30 163.53ZM812.45 156.89L819.25 160.29L812.45 163.69ZM814.63 157.04L821.43 160.44L814.63 163.84ZM816.81 157.18L823.61 160.58L816.81 163.98ZM819.02 157.32L825.82 160.72L819.02 164.12ZM821.24 157.46L828.04 160.86L821.24 164.26ZM823.48 157.59L830.28 160.99L823.48 164.39ZM825.74 157.72L832.54 161.12L825.74 164.52ZM828.01 157.85L834.81 161.25L828.01 164.65ZM830.30 157.97L837.10 161.37L830.30 164.77ZM832.60 158.09L839.40 161.49L832.60 164.89ZM834.92 158.21L841.72 161.61L834.92 165.01ZM837.26 158.32L844.06 161.72L837.26 165.12ZM839.61 158.43L846.41 161.83L839.61 165.23ZM841.98 158.54L848.78 161.94L841.98 165.34ZM844.37 158.64L851.17 162.04L844.37 165.44ZM846.76 158.74L853.56 162.14L846.76 165.54ZM849.18 158.84L855.98 162.24L849.18 165.64ZM851.61 158.94L858.41 162.34L851.61 165.74ZM854.05 159.03L860.85 162.43L854.05 165.83ZM856.51 159.13L863.31 162.53L856.51 165.93ZM858.99 159.22L865.79 162.62L858.99 166.02ZM861.48 159.30L868.28 162.70L861.48 166.10ZM863.98 159.39L870.78 162.79L863.98 166.19ZM866.50 159.47L873.30 162.87L866.50 166.27ZM869.04 159.55L875.84 162.95L869.04 166.35ZM871.58 159.63L878.38 163.03L871.58 166.43ZM874.14 159.71L880.94 163.11L874.14 166.51ZM876.72 159.78L883.52 163.18L876.72 166.58ZM879.31 159.86L886.11 163.26L879.31 166.66ZM881.91 159.93L888.71 163.33L881.91 166.73ZM884.53 160.00L891.33 163.40L884.53 166.80ZM887.16 160.07L893.96 163.47L887.16 166.87ZM889.80 160.14L896.60 163.54L889.80 166.94ZM892.46 160.20L899.26 163.60L892.46 167.00ZM895.13 160.27L901.93 163.67L895.13 167.07ZM897.81 160.33L904.61 163.73L897.81 167.13ZM900.50 160.39L907.30 163.79L900.50 167.19ZM903.21 160.45L910.01 163.85L903.21 167.25ZM905.93 160.51L912.73 163.91L905.93 167.31ZM908.66 160.56L915.46 163.96L908.66 167.36ZM911.40 160.62L918.20 164.02L911.40 167.42ZM914.16 160.68L920.96 164.08L914.16 167.48ZM916.93 160.73L923.73 164.13L916.93 167.53ZM919.71 160.78L926.51 164.18L919.71 167.58ZM922.50 160.83L929.30 164.23L922.50 167.63ZM925.30 160.88L932.10 164.28L925.30 167.68ZM928.11 160.93L934.91 164.33L928.11 167.73ZM930.94 160.98L937.74 164.38L930.94 167.78ZM933.77 161.03L940.57 164.43L933.77 167.83ZM936.62 161.07L943.42 164.47L936.62 167.87ZM939.48 161.12L946.28 164.52L939.48 167.92ZM942.34 161.16L949.14 164.56L942.34 167.96ZM945.22 161.21L952.02 164.61L945.22 168.01ZM948.11 161.25L954.91 164.65L948.11 168.05ZM951.01 161.29L957.81 164.69L951.01 168.09ZM953.91 161.33L960.71 164.73L953.91 168.13ZM956.83 161.37L963.63 164.77L956.83 168.17ZM959.76 161.41L966.56 164.81L959.76 168.21ZM962.70 161.45L969.50 164.85L962.70 168.25ZM965.64 161.49L972.44 164.89L965.64 168.29ZM968.60 161.53L975.40 164.93L968.60 168.33ZM971.56 161.56L978.36 164.96L971.56 168.36ZM974.53 161.60L981.33 165.00L974.53 168.40ZM977.52 161.63L984.32 165.03L977.52 168.43ZM980.51 161.67L987.31 165.07L980.51 168.47ZM983.50 161.70L990.30 165.10L983.50 168.50ZM986.51 161.73L993.31 165.13L986.51 168.53ZM989.53 161.76L996.33 165.16L989.53 168.56ZM992.55 161.80L999.35 165.20L992.55 168.60ZM995.58 161.83L1002.38 165.23L995.58 168.63ZM998.62 161.86L1005.42 165.26L998.62 168.66ZM1001.66 161.89L1008.46 165.29L1001.66 168.69ZM1004.71 161.92L1011.51 165.32L1004.71 168.72ZM1007.77 161.95L1014.57 165.35L1007.77 168.75ZM1010.84 161.97L1017.64 165.37L1010.84 168.77ZM1013.91 162.00L1020.71 165.40L1013.91 168.80ZM1016.99 162.03L1023.79 165.43L1016.99 168.83ZM1020.08 162.06L1026.88 165.46L1020.08 168.86ZM1023.17 162.08L1029.97 165.48L1023.17 168.88ZM1026.27 162.11L1033.07 165.51L1026.27 168.91ZM1029.38 162.13L1036.18 165.53L1029.38 168.93ZM1032.49 162.16L1039.29 165.56L1032.49 168.96ZM1035.60 162.18L1042.40 165.58L1035.60 168.98ZM1038.72 162.20L1045.52 165.60L1038.72 169.00ZM1041.85 162.23L1048.65 165.63L1041.85 169.03ZM1044.98 162.25L1051.78 165.65L1044.98 169.05ZM1048.12 162.27L1054.92 165.67L1048.12 169.07ZM1051.26 162.30L1058.06 165.70L1051.26 169.10ZM1054.41 162.32L1061.21 165.72L1054.41 169.12ZM1057.56 162.34L1064.36 165.74L1057.56 169.14ZM1060.71 162.36L1067.51 165.76L1060.71 169.16ZM1063.87 162.38L1070.67 165.78L1063.87 169.18ZM1067.04 162.40L1073.84 165.80L1067.04 169.20ZM1070.20 162.42L1077.00 165.82L1070.20 169.22ZM1073.37 162.44L1080.17 165.84L1073.37 169.24ZM1076.55 162.46L1083.35 165.86L1076.55 169.26ZM1079.73 162.47L1086.53 165.87L1079.73 169.27ZM1082.91 162.49L1089.71 165.89L1082.91 169.29ZM1086.09 162.51L1092.89 165.91L1086.09 169.31ZM1089.28 162.53L1096.08 165.93L1089.28 169.33ZM1092.47 162.55L1099.27 165.95L1092.47 169.35ZM1095.66 162.56L1102.46 165.96L1095.66 169.36ZM1098.85 162.58L1105.65 165.98L1098.85 169.38ZM1102.05 162.59L1108.85 165.99L1102.05 169.39ZM1105.25 162.61L1112.05 166.01L1105.25 169.41ZM1108.45 162.62L1115.25 166.02L1108.45 169.42ZM1111.65 162.64L1118.45 166.04L1111.65 169.44ZM1114.85 162.65L1121.65 166.05L1114.85 169.45ZM1118.06 162.67L1124.86 166.07L1118.06 169.47ZM1121.26 162.68L1128.06 166.08L1121.26 169.48ZM1124.47 162.69L1131.27 166.09L1124.47 169.49ZM1127.68 162.71L1134.48 166.11L1127.68 169.51ZM1130.88 162.72L1137.68 166.12L1130.88 169.52ZM1134.09 162.73L1140.89 166.13L1134.09 169.53ZM1137.30 162.74L1144.10 166.14L1137.30 169.54Z" fill="#000"/>
<use href="#m2" x="700.12" y="279.27"/><use href="#m2" x="700.20" y="277.64"/><use href="#m2" x="700.31" y="276.12"/><use href="#m2" x="700.44" y="273.28"/><use href="#m2" x="700.60" y="270.77"/><use href="#m2" x="700.78" y="268.66"/><use href="#m2" x="700.98" y="266.09"/><use href="#m2" x="701.21" y="263.35"/><use href="#m2" x="701.45" y="260.87"/><use href="#m2" x="701.72" y="258.16"/><use href="#m2" x="702.02" y="255.33"/><use href="#m2" x="702.34" y="252.24"/><use href="#m2" x="702.68" y="249.32"/><use href="#m2" x="703.04" y="246.25"/><use href="#m2" x="703.43" y="242.93"/><use href="#m2" x="703.84" y="239.86"/><use href="#m2" x="704.27" y="237.07"/><use href="#m2" x="704.73" y="234.62"/><use href="#m2" x="705.20" y="232.55"/><use href="#m2" x="705.71" y="230.87"/><use href="#m2" x="706.23" y="229.78"/><use href="#m2" x="706.78" y="229.46"/><use href="#m2" x="707.35" y="229.46"/><use href="#m2" x="707.94" y="229.57"/><use href="#m2" x="708.56" y="230.13"/><use href="#m2" x="709.20" y="230.19"/><use href="#m2" x="709.86" y="230.08"/><use href="#m2" x="710.54" y="229.89"/><use href="#m2" x="711.25" y="229.65"/><use href="#m2" x="711.98" y="229.10"/><use href="#m2" x="712.73" y="228.27"/><use href="#m2" x="713.51" y="227.32"/><use href="#m2" x="714.30" y="226.22"/><use href="#m2" x="715.12" y="224.87"/><use href="#m2" x="715.97" y="223.39"/><use href="#m2" x="716.83" y="221.66"/><use href="#m2" x="717.72" y="219.54"/><use href="#m2" x="718.63" y="217.16"/><use href="#m2" x="719.56" y="214.67"/><use href="#m2" x="720.51" y="212.16"/><use href="#m2" x="721.49" y="209.67"/><use href="#m2" x="722.49" y="207.26"/><use href="#m2" x="723.51" y="205.41"/><use href="#m2" x="724.55" y="203.79"/><use href="#m2" x="725.61" y="202.27"/><use href="#m2" x="726.70" y="200.84"/><use href="#m2" x="727.81" y="199.49"/><use href="#m2" x="728.94" y="198.21"/><use href="#m2" x="730.09" y="197.01"/><use href="#m2" x="731.26" y="195.86"/><use href="#m2" x="732.45" y="194.78"/><use href="#m2" x="733.67" y="193.76"/><use href="#m2" x="734.91" y="192.79"/><use href="#m2" x="736.17" y="191.86"/><use href="#m2" x="737.45" y="190.98"/><use href="#m2" x="738.75" y="190.15"/><use href="#m2" x="740.07" y="189.35"/><use href="#m2" x="741.41" y="188.60"/><use href="#m2" x="742.78" y="187.88"/><use href="#m2" x="744.17" y="187.19"/><use href="#m2" x="745.57" y="186.53"/><use href="#m2" x="747.00" y="185.90"/><use href="#m2" x="748.45" y="185.30"/><use href="#m2" x="749.92" y="184.72"/><use href="#m2" x="751.41" y="184.17"/><use href="#m2" x="752.92" y="183.64"/><use href="#m2" x="754.45" y="183.13"/><use href="#m2" x="756.00" y="182.64"/><use href="#m2" x="757.57" y="182.18"/><use href="#m2" x="759.16" y="181.73"/><use href="#m2" x="760.77" y="181.29"/><use href="#m2" x="762.40" y="180.88"/><use href="#m2" x="764.06" y="180.48"/><use href="#m2" x="765.73" y="180.09"/><use href="#m2" x="767.42" y="179.72"/><use href="#m2" x="769.13" y="179.36"/><use href="#m2" x="770.86" y="179.02"/><use href="#m2" x="772.61" y="178.68"/><use href="#m2" x="774.38" y="178.36"/><use href="#m2" x="776.17" y="178.05"/><use href="#m2" x="777.98" y="177.75"/><use href="#m2" x="779.80" y="177.46"/><use href="#m2" x="781.65" y="177.18"/><use href="#m2" x="783.52" y="176.91"/><use href="#m2" x="785.40" y="176.65"/><use href="#m2" x="787.30" y="176.40"/><use href="#m2" x="789.22" y="176.15"/><use href="#m2" x="791.16" y="175.91"/><use href="#m2" x="793.12" y="175.68"/><use href="#m2" x="795.10" y="175.46"/><use href="#m2" x="797.09" y="175.24"/><use href="#m2" x="799.11" y="175.03"/><use href="#m2" x="801.14" y="174.82"/><use href="#m2" x="803.19" y="174.62"/><use href="#m2" x="805.26" y="174.42"/><use href="#m2" x="807.34" y="174.24"/><use href="#m2" x="809.44" y="174.05"/><use href="#m2" x="811.56" y="173.87"/><use href="#m2" x="813.70" y="173.70"/><use href="#m2" x="815.85" y="173.53"/><use href="#m2" x="818.03" y="173.36"/><use href="#m2" x="820.21" y="173.20"/><use href="#m2" x="822.42" y="173.05"/><use href="#m2" x="824.64" y="172.90"/><use href="#m2" x="826.88" y="172.75"/><use href="#m2" x="829.14" y="172.61"/><use href="#m2" x="831.41" y="172.47"/><use href="#m2" x="833.70" y="172.34"/><use href="#m2" x="836.00" y="172.21"/><use href="#m2" x="838.32" y="172.09"/><use href="#m2" x="840.66" y="171.96"/><use href="#m2" x="843.01" y="171.84"/><use href="#m2" x="845.38" y="171.72"/><use href="#m2" x="847.77" y="171.61"/><use href="#m2" x="850.16" y="171.50"/><use href="#m2" x="852.58" y="171.39"/><use href="#m2" x="855.01" y="171.28"/><use href="#m2" x="857.45" y="171.18"/><use href="#m2" x="859.91" y="171.08"/><use href="#m2" x="862.39" y="170.98"/><use href="#m2" x="864.88" y="170.89"/><use href="#m2" x="867.38" y="170.79"/><use href="#m2" x="869.90" y="170.70"/><use href="#m2" x="872.44" y="170.61"/><use href="#m2" x="874.98" y="170.53"/><use href="#m2" x="877.54" y="170.44"/><use href="#m2" x="880.12" y="170.36"/><use href="#m2" x="882.71" y="170.28"/><use href="#m2" x="885.31" y="170.21"/><use href="#m2" x="887.93" y="170.13"/><use href="#m2" x="890.56" y="170.06"/><use href="#m2" x="893.20" y="169.99"/><use href="#m2" x="895.86" y="169.92"/><use href="#m2" x="898.53" y="169.85"/><use href="#m2" x="901.21" y="169.79"/><use href="#m2" x="903.90" y="169.72"/><use href="#m2" x="906.61" y="169.66"/><use href="#m2" x="909.33" y="169.60"/><use href="#m2" x="912.06" y="169.54"/><use href="#m2" x="914.80" y="169.48"/><use href="#m2" x="917.56" y="169.43"/><use href="#m2" x="920.33" y="169.37"/><use href="#m2" x="923.11" y="169.32"/><use href="#m2" x="925.90" y="169.27"/><use href="#m2" x="928.70" y="169.21"/><use href="#m2" x="931.51" y="169.16"/><use href="#m2" x="934.34" y="169.12"/><use href="#m2" x="937.17" y="169.07"/><use href="#m2" x="940.02" y="169.02"/><use href="#m2" x="942.88" y="168.98"/><use href="#m2" x="945.74" y="168.93"/><use href="#m2" x="948.62" y="168.89"/><use href="#m2" x="951.51" y="168.85"/><use href="#m2" x="954.41" y="168.81"/><use href="#m2" x="957.31" y="168.77"/><use href="#m2" x="960.23" y="168.73"/><use href="#m2" x="963.16" y="168.69"/><use href="#m2" x="966.10" y="168.65"/><use href="#m2" x="969.04" y="168.62"/><use href="#m2" x="972.00" y="168.58"/><use href="#m2" x="974.96" y="168.55"/><use href="#m2" x="977.93" y="168.51"/><use href="#m2" x="980.92" y="168.48"/><use href="#m2" x="983.91" y="168.45"/><use href="#m2" x="986.90" y="168.41"/><use href="#m2" x="989.91" y="168.38"/><use href="#m2" x="992.93" y="168.35"/><use href="#m2" x="995.95" y="168.32"/><use href="#m2" x="998.98" y="168.29"/><use href="#m2" x="1002.02" y="168.26"/><use href="#m2" x="1005.06" y="168.23"/><use href="#m2" x="1008.11" y="168.21"/><use href="#m2" x="1011.17" y="168.18"/><use href="#m2" x="1014.24" y="168.15"/><use href="#m2" x="1017.31" y="168.13"/><use href="#m2" x="1020.39" y="168.10"/><use href="#m2" x="1023.48" y="168.08"/><use href="#m2" x="1026.57" y="168.05"/><use href="#m2" x="1029.67" y="168.03"/><use href="#m2" x="1032.78" y="168.01"/><use href="#m2" x="1035.89" y="167.98"/><use href="#m2" x="1039.00" y="167.96"/><use href="#m2" x="1042.12" y="167.94"/><use href="#m2" x="1045.25" y="167.92"/><use href="#m2" x="1048.38" y="167.90"/><use href="#m2" x="1051.52" y="167.88"/><use href="#m2" x="1054.66" y="167.86"/><use href="#m2" x="1057.81" y="167.85"/><use href="#m2" x="1060.96" y="167.83"/><use href="#m2" x="1064.11" y="167.81"/><use href="#m2" x="1067.27" y="167.79"/><use href="#m2" x="1070.44" y="167.78"/><use href="#m2" x="1073.60" y="167.76"/><use href="#m2" x="1076.77" y="167.74"/><use href="#m2" x="1079.95" y="167.73"/><use href="#m2" x="1083.13" y="167.71"/><use href="#m2" x="1086.31" y="167.70"/><use href="#m2" x="1089.49" y="167.68"/><use href="#m2" x="1092.68" y="167.67"/><use href="#m2" x="1095.87" y="167.65"/><use href="#m2" x="1099.06" y="167.64"/><use href="#m2" x="1102.25" y="167.63"/><use href="#m2" x="1105.45" y="167.61"/><use href="#m2" x="1108.65" y="167.60"/><use href="#m2" x="1111.85" y="167.59"/><use href="#m2" x="1115.05" y="167.57"/><use href="#m2" x="1118.25" y="167.56"/><use href="#m2" x="1121.46" y="167.55"/><use href="#m2" x="1124.66" y="167.54"/><use href="#m2" x="1127.87" y="167.53"/><use href="#m2" x="1131.08" y="167.52"/><use href="#m2" x="1134.28" y="167.51"/><use href="#m2" x="1137.49" y="167.50"/><use href="#m2" x="1140.70" y="167.49"/>
<path d="M696.73 162.71L703.53 162.71L700.13 169.51ZM696.83 162.64L703.63 162.64L700.23 169.44ZM696.95 162.52L703.75 162.52L700.35 169.32ZM697.09 162.32L703.89 162.32L700.49 169.12ZM697.26 162.05L704.06 162.05L700.66 168.85ZM697.45 161.36L704.25 161.36L700.85 168.16ZM697.67 160.29L704.47 160.29L701.07 167.09ZM697.92 158.47L704.72 158.47L701.32 165.27ZM698.18 154.76L704.98 154.76L701.58 161.56ZM698.48 150.27L705.28 150.27L701.88 157.07ZM698.80 143.92L705.60 143.92L702.20 150.72ZM699.14 136.75L705.94 136.75L702.54 143.55ZM699.51 127.92L706.31 127.92L702.91 134.72ZM699.90 115.69L706.70 115.69L703.30 122.49ZM700.32 103.86L707.12 103.86L703.72 110.66ZM700.76 92.08L707.56 92.08L704.16 98.88ZM701.22 79.58L708.02 79.58L704.62 86.38ZM701.71 68.41L708.51 68.41L705.11 75.21ZM702.23 57.83L709.03 57.83L705.63 64.63ZM702.77 49.47L709.57 49.47L706.17 56.27ZM703.34 44.49L710.14 44.49L706.74 51.29ZM703.93 41.56L710.73 41.56L707.33 48.36ZM704.54 41.91L711.34 41.91L707.94 48.71ZM705.18 43.47L711.98 43.47L708.58 50.27ZM705.84 47.20L712.64 47.20L709.24 54.00ZM706.53 52.81L713.33 52.81L709.93 59.61ZM707.24 59.81L714.04 59.81L710.64 66.61ZM707.98 65.63L714.78 65.63L711.38 72.43ZM708.74 70.97L715.54 70.97L712.14 77.77ZM709.52 76.93L716.32 76.93L712.92 83.73ZM710.33 84.23L717.13 84.23L713.73 91.03ZM711.16 90.60L717.96 90.60L714.56 97.40ZM712.02 96.29L718.82 96.29L715.42 103.09ZM712.90 101.36L719.70 101.36L716.30 108.16ZM713.81 106.06L720.61 106.06L717.21 112.86ZM714.73 110.30L721.53 110.30L718.13 117.10ZM715.69 114.05L722.49 114.05L719.09 120.85ZM716.66 117.30L723.46 117.30L720.06 124.10ZM717.66 120.22L724.46 120.22L721.06 127.02ZM718.69 122.86L725.49 122.86L722.09 129.66ZM719.74 125.26L726.54 125.26L723.14 132.06ZM720.81 127.45L727.61 127.45L724.21 134.25ZM721.90 129.48L728.70 129.48L725.30 136.28ZM723.02 131.41L729.82 131.41L726.42 138.21ZM724.16 133.22L730.96 133.22L727.56 140.02ZM725.33 134.90L732.13 134.90L728.73 141.70ZM726.52 136.44L733.32 136.44L729.92 143.24ZM727.73 137.84L734.53 137.84L731.13 144.64ZM728.97 139.08L735.77 139.08L732.37 145.88ZM730.22 140.16L737.02 140.16L733.62 146.96ZM731.50 141.15L738.30 141.15L734.90 147.95ZM732.81 142.06L739.61 142.06L736.21 148.86ZM734.14 142.91L740.94 142.91L737.54 149.71ZM735.49 143.70L742.29 143.70L738.89 150.50ZM736.86 144.44L743.66 144.44L740.26 151.24ZM738.25 145.13L745.05 145.13L741.65 151.93ZM739.67 145.78L746.47 145.78L743.07 152.58ZM741.11 146.40L747.91 146.40L744.51 153.20ZM742.58 146.98L749.38 146.98L745.98 153.78ZM744.06 147.54L750.86 147.54L747.46 154.34ZM745.57 148.08L752.37 148.08L748.97 154.88ZM747.10 148.59L753.90 148.59L750.50 155.39ZM748.65 149.08L755.45 149.08L752.05 155.88ZM750.22 149.56L757.02 149.56L753.62 156.36ZM751.82 150.01L758.62 150.01L755.22 156.81ZM753.44 150.44L760.24 150.44L756.84 157.24ZM755.07 150.85L761.87 150.85L758.47 157.65ZM756.74 151.24L763.54 151.24L760.14 158.04ZM758.42 151.61L765.22 151.61L761.82 158.41ZM760.12 151.97L766.92 151.97L763.52 158.77ZM761.85 152.30L768.65 152.30L765.25 159.10ZM763.59 152.62L770.39 152.62L766.99 159.42ZM765.36 152.91L772.16 152.91L768.76 159.71ZM767.15 153.21L773.95 153.21L770.55 160.01ZM768.96 153.50L775.76 153.50L772.36 160.30ZM770.79 153.77L777.59 153.77L774.19 160.57ZM772.64 154.04L779.44 154.04L776.04 160.84ZM774.51 154.30L781.31 154.30L777.91 161.10ZM776.40 154.54L783.20 154.54L779.80 161.34ZM778.32 154.78L785.12 154.78L781.72 161.58ZM780.25 155.01L787.05 155.01L783.65 161.81ZM782.20 155.23L789.00 155.23L785.60 162.03ZM784.18 155.45L790.98 155.45L787.58 162.25ZM786.17 155.65L792.97 155.65L789.57 162.45ZM788.18 155.85L794.98 155.85L791.58 162.65ZM790.22 156.05L797.02 156.05L793.62 162.85ZM792.27 156.23L799.07 156.23L795.67 163.03ZM794.34 156.41L801.14 156.41L797.74 163.21ZM796.43 156.59L803.23 156.59L799.83 163.39ZM798.54 156.75L805.34 156.75L801.94 163.55ZM800.67 156.92L807.47 156.92L804.07 163.72ZM802.82 157.08L809.62 157.08L806.22 163.88ZM804.99 157.23L811.79 157.23L808.39 164.03ZM807.18 157.38L813.98 157.38L810.58 164.18ZM809.38 157.52L816.18 157.52L812.78 164.32ZM811.61 157.66L818.41 157.66L815.01 164.46ZM813.85 157.79L820.65 157.79L817.25 164.59ZM816.11 157.92L822.91 157.92L819.51 164.72ZM818.39 158.05L825.19 158.05L821.79 164.85ZM820.69 158.18L827.49 158.18L824.09 164.98ZM823.00 158.29L829.80 158.29L826.40 165.09ZM825.34 158.41L832.14 158.41L828.74 165.21ZM827.69 158.52L834.49 158.52L831.09 165.32ZM830.06 158.63L836.86 158.63L833.46 165.43ZM832.44 158.74L839.24 158.74L835.84 165.54ZM834.84 158.84L841.64 158.84L838.24 165.64ZM837.27 158.94L844.07 158.94L840.67 165.74ZM839.70 159.04L846.50 159.04L843.10 165.84ZM842.16 159.14L848.96 159.14L845.56 165.94ZM844.63 159.23L851.43 159.23L848.03 166.03ZM847.11 159.32L853.91 159.32L850.51 166.12ZM849.62 159.41L856.42 159.41L853.02 166.21ZM852.14 159.49L858.94 159.49L855.54 166.29ZM854.68 159.58L861.48 159.58L858.08 166.38ZM857.23 159.66L864.03 159.66L860.63 166.46ZM859.80 159.74L866.60 159.74L863.20 166.54ZM862.38 159.81L869.18 159.81L865.78 166.61ZM864.98 159.89L871.78 159.89L868.38 166.69ZM867.59 159.96L874.39 159.96L870.99 166.76ZM870.23 160.03L877.03 160.03L873.63 166.83ZM872.87 160.10L879.67 160.10L876.27 166.90ZM875.53 160.17L882.33 160.17L878.93 166.97ZM878.21 160.24L885.01 160.24L881.61 167.04ZM880.90 160.30L887.70 160.30L884.30 167.10ZM883.60 160.37L890.40 160.37L887.00 167.17ZM886.32 160.43L893.12 160.43L889.72 167.23ZM889.05 160.49L895.85 160.49L892.45 167.29ZM891.80 160.55L898.60 160.55L895.20 167.35ZM894.56 160.60L901.36 160.60L897.96 167.40ZM897.34 160.66L904.14 160.66L900.74 167.46ZM900.13 160.71L906.93 160.71L903.53 167.51ZM902.93 160.77L909.73 160.77L906.33 167.57ZM905.75 160.82L912.55 160.82L909.15 167.62ZM908.57 160.87L915.37 160.87L911.97 167.67ZM911.42 160.92L918.22 160.92L914.82 167.72ZM914.27 160.97L921.07 160.97L917.67 167.77ZM917.14 161.02L923.94 161.02L920.54 167.82ZM920.02 161.06L926.82 161.06L923.42 167.86ZM922.91 161.11L929.71 161.11L926.31 167.91ZM925.81 161.15L932.61 161.15L929.21 167.95ZM928.73 161.20L935.53 161.20L932.13 168.00ZM931.66 161.24L938.46 161.24L935.06 168.04ZM934.60 161.28L941.40 161.28L938.00 168.08ZM937.55 161.32L944.35 161.32L940.95 168.12ZM940.51 161.36L947.31 161.36L943.91 168.16ZM943.49 161.40L950.29 161.40L946.89 168.20ZM946.47 161.44L953.27 161.44L949.87 168.24ZM949.47 161.48L956.27 161.48L952.87 168.28ZM952.48 161.51L959.28 161.51L955.88 168.31ZM955.49 161.55L962.29 161.55L958.89 168.35ZM958.52 161.59L965.32 161.59L961.92 168.39ZM961.56 161.62L968.36 161.62L964.96 168.42ZM964.61 161.65L971.41 161.65L968.01 168.45ZM967.67 161.69L974.47 161.69L971.07 168.49ZM970.73 161.72L977.53 161.72L974.13 168.52ZM973.81 161.75L980.61 161.75L977.21 168.55ZM976.90 161.78L983.70 161.78L980.30 168.58ZM979.99 161.81L986.79 161.81L983.39 168.61ZM983.10 161.84L989.90 161.84L986.50 168.64ZM986.21 161.87L993.01 161.87L989.61 168.67ZM989.33 161.90L996.13 161.90L992.73 168.70ZM992.46 161.93L999.26 161.93L995.86 168.73ZM995.60 161.96L1002.40 161.96L999.00 168.76ZM998.75 161.98L1005.55 161.98L1002.15 168.78ZM1001.90 162.01L1008.70 162.01L1005.30 168.81ZM1005.06 162.04L1011.86 162.04L1008.46 168.84ZM1008.23 162.06L1015.03 162.06L1011.63 168.86ZM1011.41 162.09L1018.21 162.09L1014.81 168.89ZM1014.60 162.11L1021.40 162.11L1018.00 168.91ZM1017.79 162.14L1024.59 162.14L1021.19 168.94ZM1020.99 162.16L1027.79 162.16L1024.39 168.96ZM1024.19 162.18L1030.99 162.18L1027.59 168.98ZM1027.40 162.21L1034.20 162.21L1030.80 169.01ZM1030.62 162.23L1037.42 162.23L1034.02 169.03ZM1033.85 162.25L1040.65 162.25L1037.25 169.05ZM1037.08 162.27L1043.88 162.27L1040.48 169.07ZM1040.31 162.29L1047.11 162.29L1043.71 169.09ZM1043.55 162.31L1050.35 162.31L1046.95 169.11ZM1046.80 162.33L1053.60 162.33L1050.20 169.13ZM1050.05 162.35L1056.85 162.35L1053.45 169.15ZM1053.31 162.37L1060.11 162.37L1056.71 169.17ZM1056.57 162.39L1063.37 162.39L1059.97 169.19ZM1059.84 162.41L1066.64 162.41L1063.24 169.21ZM1063.11 162.43L1069.91 162.43L1066.51 169.23ZM1066.39 162.44L1073.19 162.44L1069.79 169.24ZM1069.67 162.46L1076.47 162.46L1073.07 169.26ZM1072.95 162.48L1079.75 162.48L1076.35 169.28ZM1076.24 162.50L1083.04 162.50L1079.64 169.30ZM1079.53 162.51L1086.33 162.51L1082.93 169.31ZM1082.82 162.53L1089.62 162.53L1086.22 169.33ZM1086.12 162.54L1092.92 162.54L1089.52 169.34ZM1089.42 162.56L1096.22 162.56L1092.82 169.36ZM1092.73 162.58L1099.53 162.58L1096.13 169.38ZM1096.03 162.59L1102.83 162.59L1099.43 169.39ZM1099.34 162.60L1106.14 162.60L1102.74 169.40ZM1102.65 162.62L1109.45 162.62L1106.05 169.42ZM1105.96 162.63L1112.76 162.63L1109.36 169.43ZM1109.28 162.65L1116.08 162.65L1112.68 169.45ZM1112.60 162.66L1119.40 162.66L1116.00 169.46ZM1115.91 162.67L1122.71 162.67L1119.31 169.47ZM1119.23 162.68L1126.03 162.68L1122.63 169.48ZM1122.55 162.70L1129.35 162.70L1125.95 169.50ZM1125.88 162.71L1132.68 162.71L1129.28 169.51ZM1129.20 162.72L1136.00 162.72L1132.60 169.52ZM1132.52 162.73L1139.32 162.73L1135.92 169.53ZM1135.85 162.74L1142.65 162.74L1139.25 169.54ZM1139.17 162.75L1145.97 162.75L1142.57 169.55Z" fill="#000"/>
<use href="#m3" x="700.13" y="279.53"/><use href="#m3" x="700.23" y="277.82"/><use href="#m3" x="700.35" y="275.09"/><use href="#m3" x="700.49" y="272.18"/><use href="#m3" x="700.66" y="269.78"/><use href="#m3" x="700.85" y="266.93"/><use href="#m3" x="701.07" y="263.89"/><use href="#m3" x="701.32" y="261.10"/><use href="#m3" x="701.58" y="258.01"/><use href="#m3" x="701.88" y="254.73"/><use href="#m3" x="702.20" y="251.30"/><use href="#m3" x="702.54" y="248.03"/><use href="#m3" x="702.91" y="244.30"/><use href="#m3" x="703.30" y="240.86"/><use href="#m3" x="703.72" y="237.76"/><use href="#m3" x="704.16" y="235.09"/><use href="#m3" x="704.62" y="232.88"/><use href="#m3" x="705.11" y="231.32"/><use href="#m3" x="705.63" y="230.47"/><use href="#m3" x="706.17" y="230.46"/><use href="#m3" x="706.74" y="230.50"/><use href="#m3" x="707.33" y="231.11"/><use href="#m3" x="707.94" y="231.19"/><use href="#m3" x="708.58" y="231.05"/><use href="#m3" x="709.24" y="230.83"/><use href="#m3" x="709.93" y="230.47"/><use href="#m3" x="710.64" y="229.68"/><use href="#m3" x="711.38" y="228.65"/><use href="#m3" x="712.14" y="227.50"/><use href="#m3" x="712.92" y="226.03"/><use href="#m3" x="713.73" y="224.38"/><use href="#m3" x="714.56" y="222.27"/><use href="#m3" x="715.42" y="219.67"/><use href="#m3" x="716.30" y="216.81"/><use href="#m3" x="717.21" y="213.87"/><use href="#m3" x="718.13" y="210.93"/><use href="#m3" x="719.09" y="208.06"/><use href="#m3" x="720.06" y="205.76"/><use href="#m3" x="721.06" y="203.94"/><use href="#m3" x="722.09" y="202.24"/><use href="#m3" x="723.14" y="200.65"/><use href="#m3" x="724.21" y="199.16"/><use href="#m3" x="725.30" y="197.77"/><use href="#m3" x="726.42" y="196.45"/><use href="#m3" x="727.56" y="195.22"/><use href="#m3" x="728.73" y="194.06"/><use href="#m3" x="729.92" y="192.96"/><use href="#m3" x="731.13" y="191.93"/><use href="#m3" x="732.37" y="190.95"/><use href="#m3" x="733.62" y="190.02"/><use href="#m3" x="734.90" y="189.15"/><use href="#m3" x="736.21" y="188.32"/><use href="#m3" x="737.54" y="187.54"/><use href="#m3" x="738.89" y="186.79"/><use href="#m3" x="740.26" y="186.08"/><use href="#m3" x="741.65" y="185.41"/><use href="#m3" x="743.07" y="184.76"/><use href="#m3" x="744.51" y="184.15"/><use href="#m3" x="745.98" y="183.57"/><use href="#m3" x="747.46" y="183.01"/><use href="#m3" x="748.97" y="182.48"/><use href="#m3" x="750.50" y="181.97"/><use href="#m3" x="752.05" y="181.49"/><use href="#m3" x="753.62" y="181.02"/><use href="#m3" x="755.22" y="180.58"/><use href="#m3" x="756.84" y="180.15"/><use href="#m3" x="758.47" y="179.74"/><use href="#m3" x="760.14" y="179.35"/><use href="#m3" x="761.82" y="178.97"/><use href="#m3" x="763.52" y="178.60"/><use href="#m3" x="765.25" y="178.26"/><use href="#m3" x="766.99" y="177.92"/><use href="#m3" x="768.76" y="177.60"/><use href="#m3" x="770.55" y="177.29"/><use href="#m3" x="772.36" y="176.99"/><use href="#m3" x="774.19" y="176.70"/><use href="#m3" x="776.04" y="176.42"/><use href="#m3" x="777.91" y="176.15"/><use href="#m3" x="779.80" y="175.89"/><use href="#m3" x="781.72" y="175.64"/><use href="#m3" x="783.65" y="175.40"/><use href="#m3" x="785.60" y="175.17"/><use href="#m3" x="787.58" y="174.94"/><use href="#m3" x="789.57" y="174.72"/><use href="#m3" x="791.58" y="174.51"/><use href="#m3" x="793.62" y="174.31"/><use href="#m3" x="795.67" y="174.11"/><use href="#m3" x="797.74" y="173.91"/><use href="#m3" x="799.83" y="173.73"/><use href="#m3" x="801.94" y="173.54"/><use href="#m3" x="804.07" y="173.37"/><use href="#m3" x="806.22" y="173.20"/><use href="#m3" x="808.39" y="173.03"/><use href="#m3" x="810.58" y="172.87"/><use href="#m3" x="812.78" y="172.71"/><use href="#m3" x="815.01" y="172.56"/><use href="#m3" x="817.25" y="172.41"/><use href="#m3" x="819.51" y="172.26"/><use href="#m3" x="821.79" y="172.13"/><use href="#m3" x="824.09" y="171.99"/><use href="#m3" x="826.40" y="171.86"/><use href="#m3" x="828.74" y="171.73"/><use href="#m3" x="831.09" y="171.61"/><use href="#m3" x="833.46" y="171.49"/><use href="#m3" x="835.84" y="171.37"/><use href="#m3" x="838.24" y="171.26"/><use href="#m3" x="840.67" y="171.15"/><use href="#m3" x="843.10" y="171.04"/><use href="#m3" x="845.56" y="170.94"/><use href="#m3" x="848.03" y="170.84"/><use href="#m3" x="850.51" y="170.74"/><use href="#m3" x="853.02" y="170.64"/><use href="#m3" x="855.54" y="170.55"/><use href="#m3" x="858.08" y="170.46"/><use href="#m3" x="860.63" y="170.37"/><use href="#m3" x="863.20" y="170.28"/><use href="#m3" x="865.78" y="170.20"/><use href="#m3" x="868.38" y="170.11"/><use href="#m3" x="870.99" y="170.03"/><use href="#m3" x="873.63" y="169.96"/><use href="#m3" x="876.27" y="169.88"/><use href="#m3" x="878.93" y="169.81"/><use href="#m3" x="881.61" y="169.73"/><use href="#m3" x="884.30" y="169.66"/><use href="#m3" x="887.00" y="169.60"/><use href="#m3" x="889.72" y="169.53"/><use href="#m3" x="892.45" y="169.47"/><use href="#m3" x="895.20" y="169.40"/><use href="#m3" x="897.96" y="169.34"/><use href="#m3" x="900.74" y="169.29"/><use href="#m3" x="903.53" y="169.23"/><use href="#m3" x="906.33" y="169.17"/><use href="#m3" x="909.15" y="169.12"/><use href="#m3" x="911.97" y="169.07"/><use href="#m3" x="914.82" y="169.02"/><use href="#m3" x="917.67" y="168.97"/><use href="#m3" x="920.54" y="168.92"/><use href="#m3" x="923.42" y="168.87"/><use href="#m3" x="926.31" y="168.82"/><use href="#m3" x="929.21" y="168.78"/><use href="#m3" x="932.13" y="168.73"/><use href="#m3" x="935.06" y="168.69"/><use href="#m3" x="938.00" y="168.65"/><use href="#m3" x="940.95" y="168.61"/><use href="#m3" x="943.91" y="168.57"/><use href="#m3" x="946.89" y="168.53"/><use href="#m3" x="949.87" y="168.49"/><use href="#m3" x="952.87" y="168.45"/><use href="#m3" x="955.88" y="168.42"/><use href="#m3" x="958.89" y="168.38"/><use href="#m3" x="961.92" y="168.35"/><use href="#m3" x="964.96" y="168.31"/><use href="#m3" x="968.01" y="168.28"/><use href="#m3" x="971.07" y="168.25"/><use href="#m3" x="974.13" y="168.22"/><use href="#m3" x="977.21" y="168.19"/><use href="#m3" x="980.30" y="168.16"/><use href="#m3" x="983.39" y="168.13"/><use href="#m3" x="986.50" y="168.10"/><use href="#m3" x="989.61" y="168.07"/><use href="#m3" x="992.73" y="168.04"/><use href="#m3" x="995.86" y="168.02"/><use href="#m3" x="999.00" y="167.99"/><use href="#m3" x="1002.15" y="167.96"/><use href="#m3" x="1005.30" y="167.94"/><use href="#m3" x="1008.46" y="167.91"/><use href="#m3" x="1011.63" y="167.89"/><use href="#m3" x="1014.81" y="167.87"/><use href="#m3" x="1018.00" y="167.84"/><use href="#m3" x="1021.19" y="167.82"/><use href="#m3" x="1024.39" y="167.80"/><use href="#m3" x="1027.59" y="167.78"/><use href="#m3" x="1030.80" y="167.76"/><use href="#m3" x="1034.02" y="167.74"/><use href="#m3" x="1037.25" y="167.72"/><use href="#m3" x="1040.48" y="167.70"/><use href="#m3" x="1043.71" y="167.68"/><use href="#m3" x="1046.95" y="167.66"/><use href="#m3" x="1050.20" y="167.65"/><use href="#m3" x="1053.45" y="167.63"/><use href="#m3" x="1056.71" y="167.61"/><use href="#m3" x="1059.97" y="167.60"/><use href="#m3" x="1063.24" y="167.58"/><use href="#m3" x="1066.51" y="167.57"/><use href="#m3" x="1069.79" y="167.55"/><use href="#m3" x="1073.07" y="167.54"/><use href="#m3" x="1076.35" y="167.52"/><use href="#m3" x="1079.64" y="167.51"/><use href="#m3" x="1082.93" y="167.49"/><use href="#m3" x="1086.22" y="167.48"/><use href="#m3" x="1089.52" y="167.47"/><use href="#m3" x="1092.82" y="167.46"/><use href="#m3" x="1096.13" y="167.44"/><use href="#m3" x="1099.43" y="167.43"/><use href="#m3" x="1102.74" y="167.42"/><use href="#m3" x="1106.05" y="167.41"/><use href="#m3" x="1109.36" y="167.39"/><use href="#m3" x="1112.68" y="167.38"/><use href="#m3" x="1116.00" y="167.37"/><use href="#m3" x="1119.31" y="167.36"/><use href="#m3" x="1122.63" y="167.35"/><use href="#m3" x="1125.95" y="167.34"/><use href="#m3" x="1129.28" y="167.33"/><use href="#m3" x="1132.60" y="167.32"/><use href="#m3" x="1135.92" y="167.31"/><use href="#m3" x="1139.25" y="167.30"/><use href="#m3" x="1142.57" y="167.29"/>
<path d="M697.52 163.60L702.52 163.60L702.52 168.60L697.52 168.60ZM697.54 163.47L702.54 163.47L702.54 168.47L697.54 168.47ZM697.56 163.18L702.56 163.18L702.56 168.18L697.56 168.18ZM697.60 162.60L702.60 162.60L702.60 167.60L697.60 167.60ZM697.64 161.00L702.64 161.00L702.64 166.00L697.64 166.00ZM697.68 157.05L702.68 157.05L702.68 162.05L697.68 162.05ZM697.73 151.88L702.73 151.88L702.73 156.88L697.73 156.88ZM697.77 144.21L702.77 144.21L702.77 149.21L697.77 149.21ZM697.83 135.11L702.83 135.11L702.83 140.11L697.83 140.11ZM697.88 122.18L702.88 122.18L702.88 127.18L697.88 127.18ZM697.94 107.28L702.94 107.28L702.94 112.28L697.94 112.28ZM698.01 92.63L703.01 92.63L703.01 97.63L698.01 97.63ZM698.08 77.04L703.08 77.04L703.08 82.04L698.08 82.04ZM698.16 63.88L703.16 63.88L703.16 68.88L698.16 68.88ZM698.24 51.49L703.24 51.49L703.24 56.49L698.24 56.49ZM698.32 44.16L703.32 44.16L703.32 49.16L698.32 49.16ZM698.41 40.38L703.41 40.38L703.41 45.38L698.41 45.38ZM698.50 41.01L703.50 41.01L703.50 46.01L698.50 46.01ZM698.60 43.93L703.60 43.93L703.60 48.93L698.60 48.93ZM698.70 49.86L703.70 49.86L703.70 54.86L698.70 54.86ZM698.81 58.37L703.81 58.37L703.81 63.37L698.81 63.37ZM698.92 65.36L703.92 65.36L703.92 70.36L698.92 70.36ZM699.04 72.06L704.04 72.06L704.04 77.06L699.04 77.06ZM699.16 80.63L704.16 80.63L704.16 85.63L699.16 85.63ZM699.29 88.74L704.29 88.74L704.29 93.74L699.29 93.74ZM699.42 95.76L704.42 95.76L704.42 100.76L699.42 100.76ZM699.55 101.95L704.55 101.95L704.55 106.95L699.55 106.95ZM699.69 107.52L704.69 107.52L704.69 112.52L699.69 112.52ZM699.83 112.36L704.83 112.36L704.83 117.36L699.83 117.36ZM699.98 116.44L704.98 116.44L704.98 121.44L699.98 121.44ZM700.13 120.00L705.13 120.00L705.13 125.00L700.13 125.00ZM700.29 123.16L705.29 123.16L705.29 128.16L700.29 128.16ZM700.45 125.98L705.45 125.98L705.45 130.98L700.45 130.98ZM700.62 128.53L705.62 128.53L705.62 133.53L700.62 133.53ZM700.79 130.92L705.79 130.92L705.79 135.92L700.79 135.92ZM700.97 133.14L705.97 133.14L705.97 138.14L700.97 138.14ZM701.15 135.15L706.15 135.15L706.15 140.15L701.15 140.15ZM701.33 136.93L706.33 136.93L706.33 141.93L701.33 141.93ZM701.52 138.46L706.52 138.46L706.52 143.46L701.52 143.46ZM701.72 139.77L706.72 139.77L706.72 144.77L701.72 144.77ZM701.91 140.95L706.91 140.95L706.91 145.95L701.91 145.95ZM702.12 142.02L707.12 142.02L707.12 147.02L702.12 147.02ZM702.32 143.00L707.32 143.00L707.32 148.00L702.32 148.00ZM702.54 143.90L707.54 143.90L707.54 148.90L702.54 148.90ZM702.75 144.73L707.75 144.73L707.75 149.73L702.75 149.73ZM702.97 145.51L707.97 145.51L707.97 150.51L702.97 150.51ZM703.20 146.24L708.20 146.24L708.20 151.24L703.20 151.24ZM703.43 146.93L708.43 146.93L708.43 151.93L703.43 151.93ZM703.66 147.59L708.66 147.59L708.66 152.59L703.66 152.59ZM703.90 148.21L708.90 148.21L708.90 153.21L703.90 153.21ZM704.15 148.81L709.15 148.81L709.15 153.81L704.15 153.81ZM704.40 149.37L709.40 149.37L709.40 154.37L704.40 154.37ZM704.65 149.90L709.65 149.90L709.65 154.90L704.65 154.90ZM704.91 150.40L709.91 150.40L709.91 155.40L704.91 155.40ZM705.17 150.86L710.17 150.86L710.17 155.86L705.17 155.86ZM705.43 151.30L710.43 151.30L710.43 156.30L705.43 156.30ZM705.70 151.70L710.70 151.70L710.70 156.70L705.70 156.70ZM705.98 152.08L710.98 152.08L710.98 157.08L705.98 157.08ZM706.26 152.45L711.26 152.45L711.26 157.45L706.26 157.45ZM706.54 152.81L711.54 152.81L711.54 157.81L706.54 157.81ZM706.83 153.15L711.83 153.15L711.83 158.15L706.83 158.15ZM707.12 153.48L712.12 153.48L712.12 158.48L707.12 158.48ZM707.42 153.79L712.42 153.79L712.42 158.79L707.42 158.79ZM707.72 154.09L712.72 154.09L712.72 159.09L707.72 159.09ZM708.03 154.38L713.03 154.38L713.03 159.38L708.03 159.38ZM708.34 154.65L713.34 154.65L713.34 159.65L708.34 159.65ZM708.66 154.91L713.66 154.91L713.66 159.91L708.66 159.91ZM708.98 155.16L713.98 155.16L713.98 160.16L708.98 160.16ZM709.30 155.40L714.30 155.40L714.30 160.40L709.30 160.40ZM709.63 155.63L714.63 155.63L714.63 160.63L709.63 160.63ZM709.96 155.85L714.96 155.85L714.96 160.85L709.96 160.85ZM710.30 156.07L715.30 156.07L715.30 161.07L710.30 161.07ZM710.65 156.27L715.65 156.27L715.65 161.27L710.65 161.27ZM710.99 156.47L715.99 156.47L715.99 161.47L710.99 161.47ZM711.34 156.66L716.34 156.66L716.34 161.66L711.34 161.66ZM711.70 156.84L716.70 156.84L716.70 161.84L711.70 161.84ZM712.06 157.01L717.06 157.01L717.06 162.01L712.06 162.01ZM712.42 157.18L717.42 157.18L717.42 162.18L712.42 162.18ZM712.79 157.34L717.79 157.34L717.79 162.34L712.79 162.34ZM713.17 157.50L718.17 157.50L718.17 162.50L713.17 162.50ZM713.54 157.65L718.54 157.65L718.54 162.65L713.54 162.65ZM713.93 157.79L718.93 157.79L718.93 162.79L713.93 162.79ZM714.31 157.93L719.31 157.93L719.31 162.93L714.31 162.93ZM714.70 158.07L719.70 158.07L719.70 163.07L714.70 163.07ZM715.10 158.20L720.10 158.20L720.10 163.20L715.10 163.20ZM715.50 158.33L720.50 158.33L720.50 163.33L715.50 163.33ZM715.90 158.45L720.90 158.45L720.90 163.45L715.90 163.45ZM716.31 158.57L721.31 158.57L721.31 163.57L716.31 163.57ZM716.72 158.68L721.72 158.68L721.72 163.68L716.72 163.68ZM717.14 158.79L722.14 158.79L722.14 163.79L717.14 163.79ZM717.56 158.90L722.56 158.90L722.56 163.90L717.56 163.90ZM717.99 159.00L722.99 159.00L722.99 164.00L717.99 164.00ZM718.42 159.11L723.42 159.11L723.42 164.11L718.42 164.11ZM718.86 159.20L723.86 159.20L723.86 164.20L718.86 164.20ZM719.29 159.30L724.29 159.30L724.29 164.30L719.29 164.30ZM719.74 159.39L724.74 159.39L724.74 164.39L719.74 164.39ZM720.19 159.48L725.19 159.48L725.19 164.48L720.19 164.48ZM720.64 159.56L725.64 159.56L725.64 164.56L720.64 164.56ZM721.10 159.65L726.10 159.65L726.10 164.65L721.10 164.65ZM721.56 159.73L726.56 159.73L726.56 164.73L721.56 164.73ZM722.02 159.81L727.02 159.81L727.02 164.81L722.02 164.81ZM722.49 159.89L727.49 159.89L727.49 164.89L722.49 164.89ZM722.97 159.96L727.97 159.96L727.97 164.96L722.97 164.96ZM723.44 160.03L728.44 160.03L728.44 165.03L723.44 165.03ZM723.93 160.10L728.93 160.10L728.93 165.10L723.93 165.10ZM724.41 160.17L729.41 160.17L729.41 165.17L724.41 165.17ZM724.90 160.24L729.90 160.24L729.90 165.24L724.90 165.24ZM725.40 160.30L730.40 160.30L730.40 165.30L725.40 165.30ZM725.90 160.37L730.90 160.37L730.90 165.37L725.90 165.37ZM726.40 160.43L731.40 160.43L731.40 165.43L726.40 165.43ZM726.91 160.49L731.91 160.49L731.91 165.49L726.91 165.49ZM727.43 160.55L732.43 160.55L732.43 165.55L727.43 165.55ZM727.94 160.60L732.94 160.60L732.94 165.60L727.94 165.60ZM728.46 160.66L733.46 160.66L733.46 165.66L728.46 165.66ZM728.99 160.71L733.99 160.71L733.99 165.71L728.99 165.71ZM729.52 160.77L734.52 160.77L734.52 165.77L729.52 165.77ZM730.05 160.82L735.05 160.82L735.05 165.82L730.05 165.82ZM730.59 160.87L735.59 160.87L735.59 165.87L730.59 165.87ZM731.13 160.92L736.13 160.92L736.13 165.92L731.13 165.92ZM731.68 160.96L736.68 160.96L736.68 165.96L731.68 165.96ZM732.23 161.01L737.23 161.01L737.23 166.01L732.23 166.01ZM732.79 161.06L737.79 161.06L737.79 166.06L732.79 166.06ZM733.35 161.10L738.35 161.10L738.35 166.10L733.35 166.10ZM733.91 161.14L738.91 161.14L738.91 166.14L733.91 166.14ZM734.48 161.19L739.48 161.19L739.48 166.19L734.48 166.19ZM735.05 161.23L740.05 161.23L740.05 166.23L735.05 166.23ZM735.63 161.27L740.63 161.27L740.63 166.27L735.63 166.27ZM736.21 161.31L741.21 161.31L741.21 166.31L736.21 166.31ZM736.79 161.35L741.79 161.35L741.79 166.35L736.79 166.35ZM737.38 161.38L742.38 161.38L742.38 166.38L737.38 166.38ZM737.97 161.42L742.97 161.42L742.97 166.42L737.97 166.42ZM738.57 161.46L743.57 161.46L743.57 166.46L738.57 166.46ZM739.17 161.49L744.17 161.49L744.17 166.49L739.17 166.49ZM739.78 161.53L744.78 161.53L744.78 166.53L739.78 166.53ZM740.39 161.56L745.39 161.56L745.39 166.56L740.39 166.56ZM741.00 161.59L746.00 161.59L746.00 166.59L741.00 166.59ZM741.62 161.62L746.62 161.62L746.62 166.62L741.62 166.62ZM742.24 161.66L747.24 161.66L747.24 166.66L742.24 166.66ZM742.87 161.69L747.87 161.69L747.87 166.69L742.87 166.69ZM743.50 161.72L748.50 161.72L748.50 166.72L743.50 166.72ZM744.13 161.75L749.13 161.75L749.13 166.75L744.13 166.75ZM744.77 161.78L749.77 161.78L749.77 166.78L744.77 166.78ZM745.41 161.80L750.41 161.80L750.41 166.80L745.41 166.80ZM746.06 161.83L751.06 161.83L751.06 166.83L746.06 166.83ZM746.71 161.86L751.71 161.86L751.71 166.86L746.71 166.86ZM747.36 161.89L752.36 161.89L752.36 166.89L747.36 166.89ZM748.02 161.91L753.02 161.91L753.02 166.91L748.02 166.91ZM748.69 161.94L753.69 161.94L753.69 166.94L748.69 166.94ZM749.35 161.96L754.35 161.96L754.35 166.96L749.35 166.96ZM750.02 161.99L755.02 161.99L755.02 166.99L750.02 166.99ZM750.70 162.01L755.70 162.01L755.70 167.01L750.70 167.01ZM751.38 162.04L756.38 162.04L756.38 167.04L751.38 167.04ZM752.06 162.06L757.06 162.06L757.06 167.06L752.06 167.06ZM752.75 162.08L757.75 162.08L757.75 167.08L752.75 167.08ZM753.44 162.10L758.44 162.10L758.44 167.10L753.44 167.10ZM754.13 162.13L759.13 162.13L759.13 167.13L754.13 167.13ZM754.83 162.15L759.83 162.15L759.83 167.15L754.83 167.15ZM755.54 162.17L760.54 162.17L760.54 167.17L755.54 167.17ZM756.24 162.19L761.24 162.19L761.24 167.19L756.24 167.19ZM756.95 162.21L761.95 162.21L761.95 167.21L756.95 167.21ZM757.67 162.23L762.67 162.23L762.67 167.23L757.67 167.23ZM758.39 162.25L763.39 162.25L763.39 167.25L758.39 167.25ZM759.11 162.27L764.11 162.27L764.11 167.27L759.11 167.27ZM759.84 162.29L764.84 162.29L764.84 167.29L759.84 167.29ZM760.57 162.31L765.57 162.31L765.57 167.31L760.57 167.31ZM761.30 162.33L766.30 162.33L766.30 167.33L761.30 167.33ZM762.04 162.34L767.04 162.34L767.04 167.34L762.04 167.34ZM762.79 162.36L767.79 162.36L767.79 167.36L762.79 167.36ZM763.53 162.38L768.53 162.38L768.53 167.38L763.53 167.38ZM764.28 162.40L769.28 162.40L769.28 167.40L764.28 167.40ZM765.04 162.41L770.04 162.41L770.04 167.41L765.04 167.41ZM765.80 162.43L770.80 162.43L770.80 167.43L765.80 167.43ZM766.56 162.44L771.56 162.44L771.56 167.44L766.56 167.44ZM767.32 162.46L772.32 162.46L772.32 167.46L767.32 167.46ZM768.09 162.48L773.09 162.48L773.09 167.48L768.09 167.48ZM768.87 162.49L773.87 162.49L773.87 167.49L768.87 167.49ZM769.64 162.51L774.64 162.51L774.64 167.51L769.64 167.51ZM770.43 162.52L775.43 162.52L775.43 167.52L770.43 167.52ZM771.21 162.54L776.21 162.54L776.21 167.54L771.21 167.54ZM772.00 162.55L777.00 162.55L777.00 167.55L772.00 167.55ZM772.79 162.56L777.79 162.56L777.79 167.56L772.79 167.56ZM773.59 162.58L778.59 162.58L778.59 167.58L773.59 167.58ZM774.39 162.59L779.39 162.59L779.39 167.59L774.39 167.59ZM775.19 162.61L780.19 162.61L780.19 167.61L775.19 167.61ZM776.00 162.62L781.00 162.62L781.00 167.62L776.00 167.62ZM776.81 162.63L781.81 162.63L781.81 167.63L776.81 167.63ZM777.63 162.65L782.63 162.65L782.63 167.65L777.63 167.65ZM778.45 162.66L783.45 162.66L783.45 167.66L778.45 167.66ZM779.27 162.67L784.27 162.67L784.27 167.67L779.27 167.67ZM780.10 162.68L785.10 162.68L785.10 167.68L780.10 167.68ZM780.93 162.69L785.93 162.69L785.93 167.69L780.93 167.69ZM781.76 162.71L786.76 162.71L786.76 167.71L781.76 167.71ZM782.60 162.72L787.60 162.72L787.60 167.72L782.60 167.72ZM783.44 162.73L788.44 162.73L788.44 167.73L783.44 167.73ZM784.29 162.74L789.29 162.74L789.29 167.74L784.29 167.74ZM785.14 162.75L790.14 162.75L790.14 167.75L785.14 167.75ZM785.99 162.76L790.99 162.76L790.99 167.76L785.99 167.76ZM786.85 162.77L791.85 162.77L791.85 167.77L786.85 167.77ZM787.71 162.78L792.71 162.78L792.71 167.78L787.71 167.78ZM788.57 162.80L793.57 162.80L793.57 167.80L788.57 167.80ZM789.44 162.81L794.44 162.81L794.44 167.81L789.44 167.81ZM790.31 162.82L795.31 162.82L795.31 167.82L790.31 167.82ZM791.18 162.83L796.18 162.83L796.18 167.83L791.18 167.83ZM792.06 162.84L797.06 162.84L797.06 167.84L792.06 167.84ZM792.94 162.85L797.94 162.85L797.94 167.85L792.94 167.85ZM793.83 162.85L798.83 162.85L798.83 167.85L793.83 167.85ZM794.72 162.86L799.72 162.86L799.72 167.86L794.72 167.86ZM795.61 162.87L800.61 162.87L800.61 167.87L795.61 167.87ZM796.51 162.88L801.51 162.88L801.51 167.88L796.51 167.88ZM797.41 162.89L802.41 162.89L802.41 167.89L797.41 167.89ZM798.31 162.90L803.31 162.90L803.31 167.90L798.31 167.90ZM799.22 162.91L804.22 162.91L804.22 167.91L799.22 167.91ZM800.13 162.92L805.13 162.92L805.13 167.92L800.13 167.92ZM801.04 162.93L806.04 162.93L806.04 167.93L801.04 167.93ZM801.96 162.94L806.96 162.94L806.96 167.94L801.96 167.94ZM802.88 162.94L807.88 162.94L807.88 167.94L802.88 167.94ZM803.80 162.95L808.80 162.95L808.80 167.95L803.80 167.95ZM804.73 162.96L809.73 162.96L809.73 167.96L804.73 167.96ZM805.66 162.97L810.66 162.97L810.66 167.97L805.66 167.97ZM806.60 162.98L811.60 162.98L811.60 167.98L806.60 167.98ZM807.53 162.98L812.53 162.98L812.53 167.98L807.53 167.98ZM808.48 162.99L813.48 162.99L813.48 167.99L808.48 167.99ZM809.42 163.00L814.42 163.00L814.42 168.00L809.42 168.00ZM810.37 163.01L815.37 163.01L815.37 168.01L810.37 168.01ZM811.32 163.01L816.32 163.01L816.32 168.01L811.32 168.01ZM812.28 163.02L817.28 163.02L817.28 168.02L812.28 168.02ZM813.24 163.03L818.24 163.03L818.24 168.03L813.24 168.03ZM814.20 163.04L819.20 163.04L819.20 168.04L814.20 168.04ZM815.16 163.04L820.16 163.04L820.16 168.04L815.16 168.04ZM816.13 163.05L821.13 163.05L821.13 168.05L816.13 168.05ZM817.11 163.06L822.11 163.06L822.11 168.06L817.11 168.06ZM818.08 163.06L823.08 163.06L823.08 168.06L818.08 168.06ZM819.06 163.07L824.06 163.07L824.06 168.07L819.06 168.07ZM820.04 163.08L825.04 163.08L825.04 168.08L820.04 168.08ZM821.03 163.08L826.03 163.08L826.03 168.08L821.03 168.08ZM822.02 163.09L827.02 163.09L827.02 168.09L822.02 168.09ZM823.01 163.10L828.01 163.10L828.01 168.10L823.01 168.10ZM824.00 163.10L829.00 163.10L829.00 168.10L824.00 168.10ZM825.00 163.11L830.00 163.11L830.00 168.11L825.00 168.11ZM826.00 163.11L831.00 163.11L831.00 168.11L826.00 168.11ZM827.01 163.12L832.01 163.12L832.01 168.12L827.01 168.12ZM828.02 163.13L833.02 163.13L833.02 168.13L828.02 168.13ZM829.03 163.13L834.03 163.13L834.03 168.13L829.03 168.13ZM830.05 163.14L835.05 163.14L835.05 168.14L830.05 168.14ZM831.06 163.14L836.06 163.14L836.06 168.14L831.06 168.14ZM832.08 163.15L837.08 163.15L837.08 168.15L832.08 168.15ZM833.11 163.16L838.11 163.16L838.11 168.16L833.11 168.16ZM834.14 163.16L839.14 163.16L839.14 168.16L834.14 168.16ZM835.17 163.17L840.17 163.17L840.17 168.17L835.17 168.17ZM836.20 163.17L841.20 163.17L841.20 168.17L836.20 168.17ZM837.24 163.18L842.24 163.18L842.24 168.18L837.24 168.18ZM838.28 163.18L843.28 163.18L843.28 168.18L838.28 168.18ZM839.32 163.19L844.32 163.19L844.32 168.19L839.32 168.19ZM840.37 163.19L845.37 163.19L845.37 168.19L840.37 168.19ZM841.42 163.20L846.42 163.20L846.42 168.20L841.42 168.20ZM842.47 163.20L847.47 163.20L847.47 168.20L842.47 168.20ZM843.53 163.21L848.53 163.21L848.53 168.21L843.53 168.21ZM844.59 163.21L849.59 163.21L849.59 168.21L844.59 168.21ZM845.65 163.22L850.65 163.22L850.65 168.22L845.65 168.22ZM846.71 163.22L851.71 163.22L851.71 168.22L846.71 168.22ZM847.78 163.23L852.78 163.23L852.78 168.23L847.78 168.23ZM848.85 163.23L853.85 163.23L853.85 168.23L848.85 168.23ZM849.93 163.24L854.93 163.24L854.93 168.24L849.93 168.24ZM851.01 163.24L856.01 163.24L856.01 168.24L851.01 168.24ZM852.09 163.25L857.09 163.25L857.09 168.25L852.09 168.25ZM853.17 163.25L858.17 163.25L858.17 168.25L853.17 168.25ZM854.25 163.25L859.25 163.25L859.25 168.25L854.25 168.25ZM855.34 163.26L860.34 163.26L860.34 168.26L855.34 168.26ZM856.44 163.26L861.44 163.26L861.44 168.26L856.44 168.26ZM857.53 163.27L862.53 163.27L862.53 168.27L857.53 168.27ZM858.63 163.27L863.63 163.27L863.63 168.27L858.63 168.27ZM859.73 163.28L864.73 163.28L864.73 168.28L859.73 168.28ZM860.83 163.28L865.83 163.28L865.83 168.28L860.83 168.28ZM861.94 163.28L866.94 163.28L866.94 168.28L861.94 168.28ZM863.05 163.29L868.05 163.29L868.05 168.29L863.05 168.29ZM864.16 163.29L869.16 163.29L869.16 168.29L864.16 168.29ZM865.28 163.30L870.28 163.30L870.28 168.30L865.28 168.30ZM866.40 163.30L871.40 163.30L871.40 168.30L866.40 168.30ZM867.52 163.30L872.52 163.30L872.52 168.30L867.52 168.30ZM868.64 163.31L873.64 163.31L873.64 168.31L868.64 168.31ZM869.77 163.31L874.77 163.31L874.77 168.31L869.77 168.31ZM870.90 163.31L875.90 163.31L875.90 168.31L870.90 168.31ZM872.03 163.32L877.03 163.32L877.03 168.32L872.03 168.32ZM873.16 163.32L878.16 163.32L878.16 168.32L873.16 168.32ZM874.30 163.33L879.30 163.33L879.30 168.33L874.30 168.33ZM875.44 163.33L880.44 163.33L880.44 168.33L875.44 168.33ZM876.58 163.33L881.58 163.33L881.58 168.33L876.58 168.33ZM877.73 163.34L882.73 163.34L882.73 168.34L877.73 168.34ZM878.88 163.34L883.88 163.34L883.88 168.34L878.88 168.34ZM880.03 163.34L885.03 163.34L885.03 168.34L880.03 168.34ZM881.18 163.35L886.18 163.35L886.18 168.35L881.18 168.35ZM882.34 163.35L887.34 163.35L887.34 168.35L882.34 168.35ZM883.50 163.35L888.50 163.35L888.50 168.35L883.50 168.35ZM884.66 163.36L889.66 163.36L889.66 168.36L884.66 168.36ZM885.83 163.36L890.83 163.36L890.83 168.36L885.83 168.36ZM887.00 163.36L892.00 163.36L892.00 168.36L887.00 168.36ZM888.17 163.37L893.17 163.37L893.17 168.37L888.17 168.37ZM889.34 163.37L894.34 163.37L894.34 168.37L889.34 168.37ZM890.51 163.37L895.51 163.37L895.51 168.37L890.51 168.37ZM891.69 163.38L896.69 163.38L896.69 168.38L891.69 168.38ZM892.87 163.38L897.87 163.38L897.87 168.38L892.87 168.38ZM894.05 163.38L899.05 163.38L899.05 168.38L894.05 168.38ZM895.24 163.39L900.24 163.39L900.24 168.39L895.24 168.39ZM896.43 163.39L901.43 163.39L901.43 168.39L896.43 168.39ZM897.62 163.39L902.62 163.39L902.62 168.39L897.62 168.39ZM898.81 163.39L903.81 163.39L903.81 168.39L898.81 168.39ZM900.01 163.40L905.01 163.40L905.01 168.40L900.01 168.40ZM901.20 163.40L906.20 163.40L906.20 168.40L901.20 168.40ZM902.41 163.40L907.41 163.40L907.41 168.40L902.41 168.40ZM903.61 163.41L908.61 163.41L908.61 168.41L903.61 168.41ZM904.81 163.41L909.81 163.41L909.81 168.41L904.81 168.41ZM906.02 163.41L911.02 163.41L911.02 168.41L906.02 168.41ZM907.23 163.41L912.23 163.41L912.23 168.41L907.23 168.41ZM908.44 163.42L913.44 163.42L913.44 168.42L908.44 168.42ZM909.66 163.42L914.66 163.42L914.66 168.42L909.66 168.42ZM910.88 163.42L915.88 163.42L915.88 168.42L910.88 168.42ZM912.10 163.42L917.10 163.42L917.10 168.42L912.10 168.42ZM913.32 163.43L918.32 163.43L918.32 168.43L913.32 168.43ZM914.54 163.43L919.54 163.43L919.54 168.43L914.54 168.43ZM915.77 163.43L920.77 163.43L920.77 168.43L915.77 168.43ZM917.00 163.43L922.00 163.43L922.00 168.43L917.00 168.43ZM918.23 163.44L923.23 163.44L923.23 168.44L918.23 168.44ZM919.47 163.44L924.47 163.44L924.47 168.44L919.47 168.44ZM920.70 163.44L925.70 163.44L925.70 168.44L920.70 168.44ZM921.94 163.44L926.94 163.44L926.94 168.44L921.94 168.44ZM923.18 163.45L928.18 163.45L928.18 168.45L923.18 168.45ZM924.42 163.45L929.42 163.45L929.42 168.45L924.42 168.45ZM925.67 163.45L930.67 163.45L930.67 168.45L925.67 168.45ZM926.92 163.45L931.92 163.45L931.92 168.45L926.92 168.45ZM928.17 163.46L933.17 163.46L933.17 168.46L928.17 168.46ZM929.42 163.46L934.42 163.46L934.42 168.46L929.42 168.46ZM930.67 163.46L935.67 163.46L935.67 168.46L930.67 168.46ZM931.93 163.46L936.93 163.46L936.93 168.46L931.93 168.46ZM933.19 163.47L938.19 163.47L938.19 168.47L933.19 168.47ZM934.45 163.47L939.45 163.47L939.45 168.47L934.45 168.47ZM935.71 163.47L940.71 163.47L940.71 168.47L935.71 168.47ZM936.98 163.47L941.98 163.47L941.98 168.47L936.98 168.47ZM938.24 163.47L943.24 163.47L943.24 168.47L938.24 168.47ZM939.51 163.48L944.51 163.48L944.51 168.48L939.51 168.48ZM940.78 163.48L945.78 163.48L945.78 168.48L940.78 168.48ZM942.06 163.48L947.06 163.48L947.06 168.48L942.06 168.48ZM943.33 163.48L948.33 163.48L948.33 168.48L943.33 168.48ZM944.61 163.48L949.61 163.48L949.61 168.48L944.61 168.48ZM945.89 163.49L950.89 163.49L950.89 168.49L945.89 168.49ZM947.17 163.49L952.17 163.49L952.17 168.49L947.17 168.49ZM948.45 163.49L953.45 163.49L953.45 168.49L948.45 168.49ZM949.74 163.49L954.74 163.49L954.74 168.49L949.74 168.49ZM951.02 163.49L956.02 163.49L956.02 168.49L951.02 168.49ZM952.31 163.50L957.31 163.50L957.31 168.50L952.31 168.50ZM953.60 163.50L958.60 163.50L958.60 168.50L953.60 168.50ZM954.90 163.50L959.90 163.50L959.90 168.50L954.90 168.50ZM956.19 163.50L961.19 163.50L961.19 168.50L956.19 168.50ZM957.49 163.50L962.49 163.50L962.49 168.50L957.49 168.50ZM958.79 163.51L963.79 163.51L963.79 168.51L958.79 168.51ZM960.09 163.51L965.09 163.51L965.09 168.51L960.09 168.51ZM961.39 163.51L966.39 163.51L966.39 168.51L961.39 168.51ZM962.70 163.51L967.70 163.51L967.70 168.51L962.70 168.51ZM964.00 163.51L969.00 163.51L969.00 168.51L964.00 168.51ZM965.31 163.51L970.31 163.51L970.31 168.51L965.31 168.51ZM966.62 163.52L971.62 163.52L971.62 168.52L966.62 168.52ZM967.93 163.52L972.93 163.52L972.93 168.52L967.93 168.52ZM969.25 163.52L974.25 163.52L974.25 168.52L969.25 168.52ZM970.56 163.52L975.56 163.52L975.56 168.52L970.56 168.52ZM971.88 163.52L976.88 163.52L976.88 168.52L971.88 168.52ZM973.20 163.53L978.20 163.53L978.20 168.53L973.20 168.53ZM974.52 163.53L979.52 163.53L979.52 168.53L974.52 168.53ZM975.84 163.53L980.84 163.53L980.84 168.53L975.84 168.53ZM977.16 163.53L982.16 163.53L982.16 168.53L977.16 168.53ZM978.49 163.53L983.49 163.53L983.49 168.53L978.49 168.53ZM979.82 163.53L984.82 163.53L984.82 168.53L979.82 168.53ZM981.15 163.54L986.15 163.54L986.15 168.54L981.15 168.54ZM982.48 163.54L987.48 163.54L987.48 168.54L982.48 168.54ZM983.81 163.54L988.81 163.54L988.81 168.54L983.81 168.54ZM985.14 163.54L990.14 163.54L990.14 168.54L985.14 168.54ZM986.48 163.54L991.48 163.54L991.48 168.54L986.48 168.54ZM987.81 163.54L992.81 163.54L992.81 168.54L987.81 168.54ZM989.15 163.54L994.15 163.54L994.15 168.54L989.15 168.54ZM990.49 163.55L995.49 163.55L995.49 168.55L990.49 168.55ZM991.84 163.55L996.84 163.55L996.84 168.55L991.84 168.55ZM993.18 163.55L998.18 163.55L998.18 168.55L993.18 168.55ZM994.52 163.55L999.52 163.55L999.52 168.55L994.52 168.55ZM995.87 163.55L1000.87 163.55L1000.87 168.55L995.87 168.55ZM997.22 163.55L1002.22 163.55L1002.22 168.55L997.22 168.55ZM998.57 163.55L1003.57 163.55L1003.57 168.55L998.57 168.55ZM999.92 163.56L1004.92 163.56L1004.92 168.56L999.92 168.56ZM1001.27 163.56L1006.27 163.56L1006.27 168.56L1001.27 168.56ZM1002.62 163.56L1007.62 163.56L1007.62 168.56L1002.62 168.56ZM1003.98 163.56L1008.98 163.56L1008.98 168.56L1003.98 168.56ZM1005.34 163.56L1010.34 163.56L1010.34 168.56L1005.34 168.56ZM1006.69 163.56L1011.69 163.56L1011.69 168.56L1006.69 168.56ZM1008.05 163.56L1013.05 163.56L1013.05 168.56L1008.05 168.56ZM1009.41 163.57L1014.41 163.57L1014.41 168.57L1009.41 168.57ZM1010.78 163.57L1015.78 163.57L1015.78 168.57L1010.78 168.57ZM1012.14 163.57L1017.14 163.57L1017.14 168.57L1012.14 168.57ZM1013.50 163.57L1018.50 163.57L1018.50 168.57L1013.50 168.57ZM1014.87 163.57L1019.87 163.57L1019.87 168.57L1014.87 168.57ZM1016.24 163.57L1021.24 163.57L1021.24 168.57L1016.24 168.57ZM1017.61 163.57L1022.61 163.57L1022.61 168.57L1017.61 168.57ZM1018.98 163.57L1023.98 163.57L1023.98 168.57L1018.98 168.57ZM1020.35 163.58L1025.35 163.58L1025.35 168.58L1020.35 168.58ZM1021.72 163.58L1026.72 163.58L1026.72 168.58L1021.72 168.58ZM1023.09 163.58L1028.09 163.58L1028.09 168.58L1023.09 168.58ZM1024.47 163.58L1029.47 163.58L1029.47 168.58L1024.47 168.58ZM1025.84 163.58L1030.84 163.58L1030.84 168.58L1025.84 168.58ZM1027.22 163.58L1032.22 163.58L1032.22 168.58L1027.22 168.58ZM1028.60 163.58L1033.60 163.58L1033.60 168.58L1028.60 168.58ZM1029.98 163.58L1034.98 163.58L1034.98 168.58L1029.98 168.58ZM1031.36 163.59L1036.36 163.59L1036.36 168.59L1031.36 168.59ZM1032.74 163.59L1037.74 163.59L1037.74 168.59L1032.74 168.59ZM1034.13 163.59L1039.13 163.59L1039.13 168.59L1034.13 168.59ZM1035.51 163.59L1040.51 163.59L1040.51 168.59L1035.51 168.59ZM1036.89 163.59L1041.89 163.59L1041.89 168.59L1036.89 168.59ZM1038.28 163.59L1043.28 163.59L1043.28 168.59L1038.28 168.59ZM1039.67 163.59L1044.67 163.59L1044.67 168.59L1039.67 168.59ZM1041.06 163.59L1046.06 163.59L1046.06 168.59L1041.06 168.59ZM1042.45 163.59L1047.45 163.59L1047.45 168.59L1042.45 168.59ZM1043.84 163.60L1048.84 163.60L1048.84 168.60L1043.84 168.60ZM1045.23 163.60L1050.23 163.60L1050.23 168.60L1045.23 168.60ZM1046.62 163.60L1051.62 163.60L1051.62 168.60L1046.62 168.60ZM1048.01 163.60L1053.01 163.60L1053.01 168.60L1048.01 168.60ZM1049.41 163.60L1054.41 163.60L1054.41 168.60L1049.41 168.60ZM1050.80 163.60L1055.80 163.60L1055.80 168.60L1050.80 168.60ZM1052.20 163.60L1057.20 163.60L1057.20 168.60L1052.20 168.60ZM1053.60 163.60L1058.60 163.60L1058.60 168.60L1053.60 168.60ZM1055.00 163.60L1060.00 163.60L1060.00 168.60L1055.00 168.60ZM1056.39 163.60L1061.39 163.60L1061.39 168.60L1056.39 168.60ZM1057.79 163.61L1062.79 163.61L1062.79 168.61L1057.79 168.61ZM1059.19 163.61L1064.19 163.61L1064.19 168.61L1059.19 168.61ZM1060.60 163.61L1065.60 163.61L1065.60 168.61L1060.60 168.61ZM1062.00 163.61L1067.00 163.61L1067.00 168.61L1062.00 168.61ZM1063.40 163.61L1068.40 163.61L1068.40 168.61L1063.40 168.61ZM1064.81 163.61L1069.81 163.61L1069.81 168.61L1064.81 168.61ZM1066.21 163.61L1071.21 163.61L1071.21 168.61L1066.21 168.61ZM1067.62 163.61L1072.62 163.61L1072.62 168.61L1067.62 168.61ZM1069.02 163.61L1074.02 163.61L1074.02 168.61L1069.02 168.61ZM1070.43 163.61L1075.43 163.61L1075.43 168.61L1070.43 168.61ZM1071.84 163.62L1076.84 163.62L1076.84 168.62L1071.84 168.62ZM1073.25 163.62L1078.25 163.62L1078.25 168.62L1073.25 168.62ZM1074.65 163.62L1079.65 163.62L1079.65 168.62L1074.65 168.62ZM1076.06 163.62L1081.06 163.62L1081.06 168.62L1076.06 168.62ZM1077.47 163.62L1082.47 163.62L1082.47 168.62L1077.47 168.62ZM1078.89 163.62L1083.89 163.62L1083.89 168.62L1078.89 168.62ZM1080.30 163.62L1085.30 163.62L1085.30 168.62L1080.30 168.62ZM1081.71 163.62L1086.71 163.62L1086.71 168.62L1081.71 168.62ZM1083.12 163.62L1088.12 163.62L1088.12 168.62L1083.12 168.62ZM1084.54 163.62L1089.54 163.62L1089.54 168.62L1084.54 168.62ZM1085.95 163.62L1090.95 163.62L1090.95 168.62L1085.95 168.62ZM1087.37 163.62L1092.37 163.62L1092.37 168.62L1087.37 168.62ZM1088.78 163.63L1093.78 163.63L1093.78 168.63L1088.78 168.63ZM1090.20 163.63L1095.20 163.63L1095.20 168.63L1090.20 168.63ZM1091.61 163.63L1096.61 163.63L1096.61 168.63L1091.61 168.63ZM1093.03 163.63L1098.03 163.63L1098.03 168.63L1093.03 168.63ZM1094.45 163.63L1099.45 163.63L1099.45 168.63L1094.45 168.63ZM1095.87 163.63L1100.87 163.63L1100.87 168.63L1095.87 168.63ZM1097.28 163.63L1102.28 163.63L1102.28 168.63L1097.28 168.63ZM1098.70 163.63L1103.70 163.63L1103.70 168.63L1098.70 168.63ZM1100.12 163.63L1105.12 163.63L1105.12 168.63L1100.12 168.63ZM1101.54 163.63L1106.54 163.63L1106.54 168.63L1101.54 168.63ZM1102.96 163.63L1107.96 163.63L1107.96 168.63L1102.96 168.63ZM1104.38 163.63L1109.38 163.63L1109.38 168.63L1104.38 168.63ZM1105.80 163.63L1110.80 163.63L1110.80 168.63L1105.80 168.63ZM1107.22 163.64L1112.22 163.64L1112.22 168.64L1107.22 168.64ZM1108.65 163.64L1113.65 163.64L1113.65 168.64L1108.65 168.64ZM1110.07 163.64L1115.07 163.64L1115.07 168.64L1110.07 168.64ZM1111.49 163.64L1116.49 163.64L1116.49 168.64L1111.49 168.64ZM1112.91 163.64L1117.91 163.64L1117.91 168.64L1112.91 168.64ZM1114.33 163.64L1119.33 163.64L1119.33 168.64L1114.33 168.64ZM1115.76 163.64L1120.76 163.64L1120.76 168.64L1115.76 168.64ZM1117.18 163.64L1122.18 163.64L1122.18 168.64L1117.18 168.64ZM1118.60 163.64L1123.60 163.64L1123.60 168.64L1118.60 168.64ZM1120.03 163.64L1125.03 163.64L1125.03 168.64L1120.03 168.64ZM1121.45 163.64L1126.45 163.64L1126.45 168.64L1121.45 168.64ZM1122.88 163.64L1127.88 163.64L1127.88 168.64L1122.88 168.64ZM1124.30 163.64L1129.30 163.64L1129.30 168.64L1124.30 168.64ZM1125.73 163.64L1130.73 163.64L1130.73 168.64L1125.73 168.64ZM1127.15 163.64L1132.15 163.64L1132.15 168.64L1127.15 168.64ZM1128.58 163.65L1133.58 163.65L1133.58 168.65L1128.58 168.65ZM1130.00 163.65L1135.00 163.65L1135.00 168.65L1130.00 168.65ZM1131.43 163.65L1136.43 163.65L1136.43 168.65L1131.43 168.65ZM1132.85 163.65L1137.85 163.65L1137.85 168.65L1132.85 168.65ZM1134.28 163.65L1139.28 163.65L1139.28 168.65L1134.28 168.65ZM1135.70 163.65L1140.70 163.65L1140.70 168.65L1135.70 168.65ZM1137.13 163.65L1142.13 163.65L1142.13 168.65L1137.13 168.65ZM1138.55 163.65L1143.55 163.65L1143.55 168.65L1138.55 168.65ZM1139.98 163.65L1144.98 163.65L1144.98 168.65L1139.98 168.65Z" fill="#000"/>
<path d="M697.82 303.08L702.22 303.08L702.22 307.48L697.82 307.48ZM697.84 298.47L702.24 298.47L702.24 302.87L697.84 302.87ZM697.86 293.46L702.26 293.46L702.26 297.86L697.86 297.86ZM697.90 288.52L702.30 288.52L702.30 292.92L697.90 292.92ZM697.94 283.43L702.34 283.43L702.34 287.83L697.94 287.83ZM697.98 277.54L702.38 277.54L702.38 281.94L697.98 281.94ZM698.03 271.82L702.43 271.82L702.43 276.22L698.03 276.22ZM698.07 265.72L702.47 265.72L702.47 270.12L698.07 270.12ZM698.13 259.55L702.53 259.55L702.53 263.95L698.13 263.95ZM698.18 253.38L702.58 253.38L702.58 257.78L698.18 257.78ZM698.24 247.90L702.64 247.90L702.64 252.30L698.24 252.30ZM698.31 244.36L702.71 244.36L702.71 248.76L698.31 248.76ZM698.38 241.47L702.78 241.47L702.78 245.87L698.38 245.87ZM698.46 239.65L702.86 239.65L702.86 244.05L698.46 244.05ZM698.54 237.74L702.94 237.74L702.94 242.14L698.54 242.14ZM698.62 236.80L703.02 236.80L703.02 241.20L698.62 241.20ZM698.71 236.11L703.11 236.11L703.11 240.51L698.71 240.51ZM698.80 235.46L703.20 235.46L703.20 239.86L698.80 239.86ZM698.90 234.81L703.30 234.81L703.30 239.21L698.90 239.21ZM699.00 233.81L703.40 233.81L703.40 238.21L699.00 238.21ZM699.11 232.40L703.51 232.40L703.51 236.80L699.11 236.80ZM699.22 230.78L703.62 230.78L703.62 235.18L699.22 235.18ZM699.34 228.98L703.74 228.98L703.74 233.38L699.34 233.38ZM699.46 227.12L703.86 227.12L703.86 231.52L699.46 231.52ZM699.59 224.12L703.99 224.12L703.99 228.52L699.59 228.52ZM699.72 219.95L704.12 219.95L704.12 224.35L699.72 224.35ZM699.85 215.42L704.25 215.42L704.25 219.82L699.85 219.82ZM699.99 211.03L704.39 211.03L704.39 215.43L699.99 215.43ZM700.13 206.87L704.53 206.87L704.53 211.27L700.13 211.27ZM700.28 203.78L704.68 203.78L704.68 208.18L700.28 208.18ZM700.43 201.57L704.83 201.57L704.83 205.97L700.43 205.97ZM700.59 199.54L704.99 199.54L704.99 203.94L700.59 203.94ZM700.75 197.67L705.15 197.67L705.15 202.07L700.75 202.07ZM700.92 195.94L705.32 195.94L705.32 200.34L700.92 200.34ZM701.09 194.33L705.49 194.33L705.49 198.73L701.09 198.73ZM701.27 192.85L705.67 192.85L705.67 197.25L701.27 197.25ZM701.45 191.47L705.85 191.47L705.85 195.87L701.45 195.87ZM701.63 190.18L706.03 190.18L706.03 194.58L701.63 194.58ZM701.82 188.98L706.22 188.98L706.22 193.38L701.82 193.38ZM702.02 187.86L706.42 187.86L706.42 192.26L702.02 192.26ZM702.21 186.81L706.61 186.81L706.61 191.21L702.21 191.21ZM702.42 185.83L706.82 185.83L706.82 190.23L702.42 190.23ZM702.62 184.92L707.02 184.92L707.02 189.32L702.62 189.32ZM702.84 184.05L707.24 184.05L707.24 188.45L702.84 188.45ZM703.05 183.24L707.45 183.24L707.45 187.64L703.05 187.64ZM703.27 182.48L707.67 182.48L707.67 186.88L703.27 186.88ZM703.50 181.76L707.90 181.76L707.90 186.16L703.50 186.16ZM703.73 181.08L708.13 181.08L708.13 185.48L703.73 185.48ZM703.96 180.44L708.36 180.44L708.36 184.84L703.96 184.84ZM704.20 179.83L708.60 179.83L708.60 184.23L704.20 184.23ZM704.45 179.26L708.85 179.26L708.85 183.66L704.45 183.66ZM704.70 178.72L709.10 178.72L709.10 183.12L704.70 183.12ZM704.95 178.20L709.35 178.20L709.35 182.60L704.95 182.60ZM705.21 177.71L709.61 177.71L709.61 182.11L705.21 182.11ZM705.47 177.25L709.87 177.25L709.87 181.65L705.47 181.65ZM705.73 176.81L710.13 176.81L710.13 181.21L705.73 181.21ZM706.00 176.39L710.40 176.39L710.40 180.79L706.00 180.79ZM706.28 175.99L710.68 175.99L710.68 180.39L706.28 180.39ZM706.56 175.61L710.96 175.61L710.96 180.01L706.56 180.01ZM706.84 175.25L711.24 175.25L711.24 179.65L706.84 179.65ZM707.13 174.90L711.53 174.90L711.53 179.30L707.13 179.30ZM707.42 174.57L711.82 174.57L711.82 178.97L707.42 178.97ZM707.72 174.25L712.12 174.25L712.12 178.65L707.72 178.65ZM708.02 173.95L712.42 173.95L712.42 178.35L708.02 178.35ZM708.33 173.66L712.73 173.66L712.73 178.06L708.33 178.06ZM708.64 173.38L713.04 173.38L713.04 177.78L708.64 177.78ZM708.96 173.12L713.36 173.12L713.36 177.52L708.96 177.52ZM709.28 172.86L713.68 172.86L713.68 177.26L709.28 177.26ZM709.60 172.62L714.00 172.62L714.00 177.02L709.60 177.02ZM709.93 172.38L714.33 172.38L714.33 176.78L709.93 176.78ZM710.26 172.16L714.66 172.16L714.66 176.56L710.26 176.56ZM710.60 171.94L715.00 171.94L715.00 176.34L710.60 176.34ZM710.95 171.74L715.35 171.74L715.35 176.14L710.95 176.14ZM711.29 171.54L715.69 171.54L715.69 175.94L711.29 175.94ZM711.64 171.34L716.04 171.34L716.04 175.74L711.64 175.74ZM712.00 171.16L716.40 171.16L716.40 175.56L712.00 175.56ZM712.36 170.98L716.76 170.98L716.76 175.38L712.36 175.38ZM712.72 170.81L717.12 170.81L717.12 175.21L712.72 175.21ZM713.09 170.64L717.49 170.64L717.49 175.04L713.09 175.04ZM713.47 170.48L717.87 170.48L717.87 174.88L713.47 174.88ZM713.84 170.33L718.24 170.33L718.24 174.73L713.84 174.73ZM714.23 170.18L718.63 170.18L718.63 174.58L714.23 174.58ZM714.61 170.04L719.01 170.04L719.01 174.44L714.61 174.44ZM715.00 169.90L719.40 169.90L719.40 174.30L715.00 174.30ZM715.40 169.76L719.80 169.76L719.80 174.16L715.40 174.16ZM715.80 169.63L720.20 169.63L720.20 174.03L715.80 174.03ZM716.20 169.51L720.60 169.51L720.60 173.91L716.20 173.91ZM716.61 169.39L721.01 169.39L721.01 173.79L716.61 173.79ZM717.02 169.27L721.42 169.27L721.42 173.67L717.02 173.67ZM717.44 169.16L721.84 169.16L721.84 173.56L717.44 173.56ZM717.86 169.05L722.26 169.05L722.26 173.45L717.86 173.45ZM718.29 168.94L722.69 168.94L722.69 173.34L718.29 173.34ZM718.72 168.84L723.12 168.84L723.12 173.24L718.72 173.24ZM719.16 168.73L723.56 168.73L723.56 173.13L719.16 173.13ZM719.59 168.64L723.99 168.64L723.99 173.04L719.59 173.04ZM720.04 168.54L724.44 168.54L724.44 172.94L720.04 172.94ZM720.49 168.45L724.89 168.45L724.89 172.85L720.49 172.85ZM720.94 168.36L725.34 168.36L725.34 172.76L720.94 172.76ZM721.40 168.28L725.80 168.28L725.80 172.68L721.40 172.68ZM721.86 168.19L726.26 168.19L726.26 172.59L721.86 172.59ZM722.32 168.11L726.72 168.11L726.72 172.51L722.32 172.51ZM722.79 168.03L727.19 168.03L727.19 172.43L722.79 172.43ZM723.27 167.95L727.67 167.95L727.67 172.35L723.27 172.35ZM723.74 167.88L728.14 167.88L728.14 172.28L723.74 172.28ZM724.23 167.81L728.63 167.81L728.63 172.21L724.23 172.21ZM724.71 167.74L729.11 167.74L729.11 172.14L724.71 172.14ZM725.20 167.67L729.60 167.67L729.60 172.07L725.20 172.07ZM725.70 167.60L730.10 167.60L730.10 172.00L725.70 172.00ZM726.20 167.53L730.60 167.53L730.60 171.93L726.20 171.93ZM726.70 167.47L731.10 167.47L731.10 171.87L726.70 171.87ZM727.21 167.41L731.61 167.41L731.61 171.81L727.21 171.81ZM727.73 167.35L732.13 167.35L732.13 171.75L727.73 171.75ZM728.24 167.29L732.64 167.29L732.64 171.69L728.24 171.69ZM728.76 167.23L733.16 167.23L733.16 171.63L728.76 171.63ZM729.29 167.18L733.69 167.18L733.69 171.58L729.29 171.58ZM729.82 167.12L734.22 167.12L734.22 171.52L729.82 171.52ZM730.35 167.07L734.75 167.07L734.75 171.47L730.35 171.47ZM730.89 167.02L735.29 167.02L735.29 171.42L730.89 171.42ZM731.43 166.97L735.83 166.97L735.83 171.37L731.43 171.37ZM731.98 166.92L736.38 166.92L736.38 171.32L731.98 171.32ZM732.53 166.87L736.93 166.87L736.93 171.27L732.53 171.27ZM733.09 166.82L737.49 166.82L737.49 171.22L733.09 171.22ZM733.65 166.78L738.05 166.78L738.05 171.18L733.65 171.18ZM734.21 166.73L738.61 166.73L738.61 171.13L734.21 171.13ZM734.78 166.69L739.18 166.69L739.18 171.09L734.78 171.09ZM735.35 166.64L739.75 166.64L739.75 171.04L735.35 171.04ZM735.93 166.60L740.33 166.60L740.33 171.00L735.93 171.00ZM736.51 166.56L740.91 166.56L740.91 170.96L736.51 170.96ZM737.09 166.52L741.49 166.52L741.49 170.92L737.09 170.92ZM737.68 166.48L742.08 166.48L742.08 170.88L737.68 170.88ZM738.27 166.44L742.67 166.44L742.67 170.84L738.27 170.84ZM738.87 166.41L743.27 166.41L743.27 170.81L738.87 170.81ZM739.47 166.37L743.87 166.37L743.87 170.77L739.47 170.77ZM740.08 166.33L744.48 166.33L744.48 170.73L740.08 170.73ZM740.69 166.30L745.09 166.30L745.09 170.70L740.69 170.70ZM741.30 166.27L745.70 166.27L745.70 170.67L741.30 170.67ZM741.92 166.23L746.32 166.23L746.32 170.63L741.92 170.63ZM742.54 166.20L746.94 166.20L746.94 170.60L742.54 170.60ZM743.17 166.17L747.57 166.17L747.57 170.57L743.17 170.57ZM743.80 166.14L748.20 166.14L748.20 170.54L743.80 170.54ZM744.43 166.10L748.83 166.10L748.83 170.50L744.43 170.50ZM745.07 166.07L749.47 166.07L749.47 170.47L745.07 170.47ZM745.71 166.04L750.11 166.04L750.11 170.44L745.71 170.44ZM746.36 166.02L750.76 166.02L750.76 170.42L746.36 170.42ZM747.01 165.99L751.41 165.99L751.41 170.39L747.01 170.39ZM747.66 165.96L752.06 165.96L752.06 170.36L747.66 170.36ZM748.32 165.93L752.72 165.93L752.72 170.33L748.32 170.33ZM748.99 165.90L753.39 165.90L753.39 170.30L748.99 170.30ZM749.65 165.88L754.05 165.88L754.05 170.28L749.65 170.28ZM750.32 165.85L754.72 165.85L754.72 170.25L750.32 170.25ZM751.00 165.83L755.40 165.83L755.40 170.23L751.00 170.23ZM751.68 165.80L756.08 165.80L756.08 170.20L751.68 170.20ZM752.36 165.78L756.76 165.78L756.76 170.18L752.36 170.18ZM753.05 165.75L757.45 165.75L757.45 170.15L753.05 170.15ZM753.74 165.73L758.14 165.73L758.14 170.13L753.74 170.13ZM754.43 165.71L758.83 165.71L758.83 170.11L754.43 170.11ZM755.13 165.68L759.53 165.68L759.53 170.08L755.13 170.08ZM755.84 165.66L760.24 165.66L760.24 170.06L755.84 170.06ZM756.54 165.64L760.94 165.64L760.94 170.04L756.54 170.04ZM757.25 165.62L761.65 165.62L761.65 170.02L757.25 170.02ZM757.97 165.60L762.37 165.60L762.37 170.00L757.97 170.00ZM758.69 165.58L763.09 165.58L763.09 169.98L758.69 169.98ZM759.41 165.56L763.81 165.56L763.81 169.96L759.41 169.96ZM760.14 165.54L764.54 165.54L764.54 169.94L760.14 169.94ZM760.87 165.52L765.27 165.52L765.27 169.92L760.87 169.92ZM761.60 165.50L766.00 165.50L766.00 169.90L761.60 169.90ZM762.34 165.48L766.74 165.48L766.74 169.88L762.34 169.88ZM763.09 165.46L767.49 165.46L767.49 169.86L763.09 169.86ZM763.83 165.44L768.23 165.44L768.23 169.84L763.83 169.84ZM764.58 165.42L768.98 165.42L768.98 169.82L764.58 169.82ZM765.34 165.41L769.74 165.41L769.74 169.81L765.34 169.81ZM766.10 165.39L770.50 165.39L770.50 169.79L766.10 169.79ZM766.86 165.37L771.26 165.37L771.26 169.77L766.86 169.77ZM767.62 165.35L772.02 165.35L772.02 169.75L767.62 169.75ZM768.39 165.34L772.79 165.34L772.79 169.74L768.39 169.74ZM769.17 165.32L773.57 165.32L773.57 169.72L769.17 169.72ZM769.94 165.30L774.34 165.30L774.34 169.70L769.94 169.70ZM770.73 165.29L775.13 165.29L775.13 169.69L770.73 169.69ZM771.51 165.27L775.91 165.27L775.91 169.67L771.51 169.67ZM772.30 165.26L776.70 165.26L776.70 169.66L772.30 169.66ZM773.09 165.24L777.49 165.24L777.49 169.64L773.09 169.64ZM773.89 165.23L778.29 165.23L778.29 169.63L773.89 169.63ZM774.69 165.21L779.09 165.21L779.09 169.61L774.69 169.61ZM775.49 165.20L779.89 165.20L779.89 169.60L775.49 169.60ZM776.30 165.18L780.70 165.18L780.70 169.58L776.30 169.58ZM777.11 165.17L781.51 165.17L781.51 169.57L777.11 169.57ZM777.93 165.16L782.33 165.16L782.33 169.56L777.93 169.56ZM778.75 165.14L783.15 165.14L783.15 169.54L778.75 169.54ZM779.57 165.13L783.97 165.13L783.97 169.53L779.57 169.53ZM780.40 165.12L784.80 165.12L784.80 169.52L780.40 169.52ZM781.23 165.10L785.63 165.10L785.63 169.50L781.23 169.50ZM782.06 165.09L786.46 165.09L786.46 169.49L782.06 169.49ZM782.90 165.08L787.30 165.08L787.30 169.48L782.90 169.48ZM783.74 165.07L788.14 165.07L788.14 169.47L783.74 169.47ZM784.59 165.05L788.99 165.05L788.99 169.45L784.59 169.45ZM785.44 165.04L789.84 165.04L789.84 169.44L785.44 169.44ZM786.29 165.03L790.69 165.03L790.69 169.43L786.29 169.43ZM787.15 165.02L791.55 165.02L791.55 169.42L787.15 169.42ZM788.01 165.01L792.41 165.01L792.41 169.41L788.01 169.41ZM788.87 165.00L793.27 165.00L793.27 169.40L788.87 169.40ZM789.74 164.98L794.14 164.98L794.14 169.38L789.74 169.38ZM790.61 164.97L795.01 164.97L795.01 169.37L790.61 169.37ZM791.48 164.96L795.88 164.96L795.88 169.36L791.48 169.36ZM792.36 164.95L796.76 164.95L796.76 169.35L792.36 169.35ZM793.24 164.94L797.64 164.94L797.64 169.34L793.24 169.34ZM794.13 164.93L798.53 164.93L798.53 169.33L794.13 169.33ZM795.02 164.92L799.42 164.92L799.42 169.32L795.02 169.32ZM795.91 164.91L800.31 164.91L800.31 169.31L795.91 169.31ZM796.81 164.90L801.21 164.90L801.21 169.30L796.81 169.30ZM797.71 164.89L802.11 164.89L802.11 169.29L797.71 169.29ZM798.61 164.88L803.01 164.88L803.01 169.28L798.61 169.28ZM799.52 164.87L803.92 164.87L803.92 169.27L799.52 169.27ZM800.43 164.86L804.83 164.86L804.83 169.26L800.43 169.26ZM801.34 164.85L805.74 164.85L805.74 169.25L801.34 169.25ZM802.26 164.84L806.66 164.84L806.66 169.24L802.26 169.24ZM803.18 164.83L807.58 164.83L807.58 169.23L803.18 169.23ZM804.10 164.82L808.50 164.82L808.50 169.22L804.10 169.22ZM805.03 164.81L809.43 164.81L809.43 169.21L805.03 169.21ZM805.96 164.81L810.36 164.81L810.36 169.21L805.96 169.21ZM806.90 164.80L811.30 164.80L811.30 169.20L806.90 169.20ZM807.83 164.79L812.23 164.79L812.23 169.19L807.83 169.19ZM808.78 164.78L813.18 164.78L813.18 169.18L808.78 169.18ZM809.72 164.77L814.12 164.77L814.12 169.17L809.72 169.17ZM810.67 164.76L815.07 164.76L815.07 169.16L810.67 169.16ZM811.62 164.75L816.02 164.75L816.02 169.15L811.62 169.15ZM812.58 164.75L816.98 164.75L816.98 169.15L812.58 169.15ZM813.54 164.74L817.94 164.74L817.94 169.14L813.54 169.14ZM814.50 164.73L818.90 164.73L818.90 169.13L814.50 169.13ZM815.46 164.72L819.86 164.72L819.86 169.12L815.46 169.12ZM816.43 164.72L820.83 164.72L820.83 169.12L816.43 169.12ZM817.41 164.71L821.81 164.71L821.81 169.11L817.41 169.11ZM818.38 164.70L822.78 164.70L822.78 169.10L818.38 169.10ZM819.36 164.69L823.76 164.69L823.76 169.09L819.36 169.09ZM820.34 164.69L824.74 164.69L824.74 169.09L820.34 169.09ZM821.33 164.68L825.73 164.68L825.73 169.08L821.33 169.08ZM822.32 164.67L826.72 164.67L826.72 169.07L822.32 169.07ZM823.31 164.66L827.71 164.66L827.71 169.06L823.31 169.06ZM824.30 164.66L828.70 164.66L828.70 169.06L824.30 169.06ZM825.30 164.65L829.70 164.65L829.70 169.05L825.30 169.05ZM826.30 164.64L830.70 164.64L830.70 169.04L826.30 169.04ZM827.31 164.64L831.71 164.64L831.71 169.04L827.31 169.04ZM828.32 164.63L832.72 164.63L832.72 169.03L828.32 169.03ZM829.33 164.62L833.73 164.62L833.73 169.02L829.33 169.02ZM830.35 164.62L834.75 164.62L834.75 169.02L830.35 169.02ZM831.36 164.61L835.76 164.61L835.76 169.01L831.36 169.01ZM832.38 164.60L836.78 164.60L836.78 169.00L832.38 169.00ZM833.41 164.60L837.81 164.60L837.81 169.00L833.41 169.00ZM834.44 164.59L838.84 164.59L838.84 168.99L834.44 168.99ZM835.47 164.59L839.87 164.59L839.87 168.99L835.47 168.99ZM836.50 164.58L840.90 164.58L840.90 168.98L836.50 168.98ZM837.54 164.57L841.94 164.57L841.94 168.97L837.54 168.97ZM838.58 164.57L842.98 164.57L842.98 168.97L838.58 168.97ZM839.62 164.56L844.02 164.56L844.02 168.96L839.62 168.96ZM840.67 164.56L845.07 164.56L845.07 168.96L840.67 168.96ZM841.72 164.55L846.12 164.55L846.12 168.95L841.72 168.95ZM842.77 164.55L847.17 164.55L847.17 168.95L842.77 168.95ZM843.83 164.54L848.23 164.54L848.23 168.94L843.83 168.94ZM844.89 164.54L849.29 164.54L849.29 168.94L844.89 168.94ZM845.95 164.53L850.35 164.53L850.35 168.93L845.95 168.93ZM847.01 164.52L851.41 164.52L851.41 168.92L847.01 168.92ZM848.08 164.52L852.48 164.52L852.48 168.92L848.08 168.92ZM849.15 164.51L853.55 164.51L853.55 168.91L849.15 168.91ZM850.23 164.51L854.63 164.51L854.63 168.91L850.23 168.91ZM851.31 164.50L855.71 164.50L855.71 168.90L851.31 168.90ZM852.39 164.50L856.79 164.50L856.79 168.90L852.39 168.90ZM853.47 164.49L857.87 164.49L857.87 168.89L853.47 168.89ZM854.55 164.49L858.95 164.49L858.95 168.89L854.55 168.89ZM855.64 164.48L860.04 164.48L860.04 168.88L855.64 168.88ZM856.74 164.48L861.14 164.48L861.14 168.88L856.74 168.88ZM857.83 164.47L862.23 164.47L862.23 168.87L857.83 168.87ZM858.93 164.47L863.33 164.47L863.33 168.87L858.93 168.87ZM860.03 164.47L864.43 164.47L864.43 168.87L860.03 168.87ZM861.13 164.46L865.53 164.46L865.53 168.86L861.13 168.86ZM862.24 164.46L866.64 164.46L866.64 168.86L862.24 168.86ZM863.35 164.45L867.75 164.45L867.75 168.85L863.35 168.85ZM864.46 164.45L868.86 164.45L868.86 168.85L864.46 168.85ZM865.58 164.44L869.98 164.44L869.98 168.84L865.58 168.84ZM866.70 164.44L871.10 164.44L871.10 168.84L866.70 168.84ZM867.82 164.43L872.22 164.43L872.22 168.83L867.82 168.83ZM868.94 164.43L873.34 164.43L873.34 168.83L868.94 168.83ZM870.07 164.43L874.47 164.43L874.47 168.83L870.07 168.83ZM871.20 164.42L875.60 164.42L875.60 168.82L871.20 168.82ZM872.33 164.42L876.73 164.42L876.73 168.82L872.33 168.82ZM873.46 164.41L877.86 164.41L877.86 168.81L873.46 168.81ZM874.60 164.41L879.00 164.41L879.00 168.81L874.60 168.81ZM875.74 164.41L880.14 164.41L880.14 168.81L875.74 168.81ZM876.88 164.40L881.28 164.40L881.28 168.80L876.88 168.80ZM878.03 164.40L882.43 164.40L882.43 168.80L878.03 168.80ZM879.18 164.39L883.58 164.39L883.58 168.79L879.18 168.79ZM880.33 164.39L884.73 164.39L884.73 168.79L880.33 168.79ZM881.48 164.39L885.88 164.39L885.88 168.79L881.48 168.79ZM882.64 164.38L887.04 164.38L887.04 168.78L882.64 168.78ZM883.80 164.38L888.20 164.38L888.20 168.78L883.80 168.78ZM884.96 164.38L889.36 164.38L889.36 168.78L884.96 168.78ZM886.13 164.37L890.53 164.37L890.53 168.77L886.13 168.77ZM887.30 164.37L891.70 164.37L891.70 168.77L887.30 168.77ZM888.47 164.37L892.87 164.37L892.87 168.77L888.47 168.77ZM889.64 164.36L894.04 164.36L894.04 168.76L889.64 168.76ZM890.81 164.36L895.21 164.36L895.21 168.76L890.81 168.76ZM891.99 164.36L896.39 164.36L896.39 168.76L891.99 168.76ZM893.17 164.35L897.57 164.35L897.57 168.75L893.17 168.75ZM894.35 164.35L898.75 164.35L898.75 168.75L894.35 168.75ZM895.54 164.35L899.94 164.35L899.94 168.75L895.54 168.75ZM896.73 164.34L901.13 164.34L901.13 168.74L896.73 168.74ZM897.92 164.34L902.32 164.34L902.32 168.74L897.92 168.74ZM899.11 164.34L903.51 164.34L903.51 168.74L899.11 168.74ZM900.31 164.33L904.71 164.33L904.71 168.73L900.31 168.73ZM901.50 164.33L905.90 164.33L905.90 168.73L901.50 168.73ZM902.71 164.33L907.11 164.33L907.11 168.73L902.71 168.73ZM903.91 164.32L908.31 164.32L908.31 168.72L903.91 168.72ZM905.11 164.32L909.51 164.32L909.51 168.72L905.11 168.72ZM906.32 164.32L910.72 164.32L910.72 168.72L906.32 168.72ZM907.53 164.32L911.93 164.32L911.93 168.72L907.53 168.72ZM908.74 164.31L913.14 164.31L913.14 168.71L908.74 168.71ZM909.96 164.31L914.36 164.31L914.36 168.71L909.96 168.71ZM911.18 164.31L915.58 164.31L915.58 168.71L911.18 168.71ZM912.40 164.30L916.80 164.30L916.80 168.70L912.40 168.70ZM913.62 164.30L918.02 164.30L918.02 168.70L913.62 168.70ZM914.84 164.30L919.24 164.30L919.24 168.70L914.84 168.70ZM916.07 164.30L920.47 164.30L920.47 168.70L916.07 168.70ZM917.30 164.29L921.70 164.29L921.70 168.69L917.30 168.69ZM918.53 164.29L922.93 164.29L922.93 168.69L918.53 168.69ZM919.77 164.29L924.17 164.29L924.17 168.69L919.77 168.69ZM921.00 164.29L925.40 164.29L925.40 168.69L921.00 168.69ZM922.24 164.28L926.64 164.28L926.64 168.68L922.24 168.68ZM923.48 164.28L927.88 164.28L927.88 168.68L923.48 168.68ZM924.72 164.28L929.12 164.28L929.12 168.68L924.72 168.68ZM925.97 164.28L930.37 164.28L930.37 168.68L925.97 168.68ZM927.22 164.27L931.62 164.27L931.62 168.67L927.22 168.67ZM928.47 164.27L932.87 164.27L932.87 168.67L928.47 168.67ZM929.72 164.27L934.12 164.27L934.12 168.67L929.72 168.67ZM930.97 164.27L935.37 164.27L935.37 168.67L930.97 168.67ZM932.23 164.26L936.63 164.26L936.63 168.66L932.23 168.66ZM933.49 164.26L937.89 164.26L937.89 168.66L933.49 168.66ZM934.75 164.26L939.15 164.26L939.15 168.66L934.75 168.66ZM936.01 164.26L940.41 164.26L940.41 168.66L936.01 168.66ZM937.28 164.26L941.68 164.26L941.68 168.66L937.28 168.66ZM938.54 164.25L942.94 164.25L942.94 168.65L938.54 168.65ZM939.81 164.25L944.21 164.25L944.21 168.65L939.81 168.65ZM941.08 164.25L945.48 164.25L945.48 168.65L941.08 168.65ZM942.36 164.25L946.76 164.25L946.76 168.65L942.36 168.65ZM943.63 164.25L948.03 164.25L948.03 168.65L943.63 168.65ZM944.91 164.24L949.31 164.24L949.31 168.64L944.91 168.64ZM946.19 164.24L950.59 164.24L950.59 168.64L946.19 168.64ZM947.47 164.24L951.87 164.24L951.87 168.64L947.47 168.64ZM948.75 164.24L953.15 164.24L953.15 168.64L948.75 168.64ZM950.04 164.24L954.44 164.24L954.44 168.64L950.04 168.64ZM951.32 164.23L955.72 164.23L955.72 168.63L951.32 168.63ZM952.61 164.23L957.01 164.23L957.01 168.63L952.61 168.63ZM953.90 164.23L958.30 164.23L958.30 168.63L953.90 168.63ZM955.20 164.23L959.60 164.23L959.60 168.63L955.20 168.63ZM956.49 164.23L960.89 164.23L960.89 168.63L956.49 168.63ZM957.79 164.22L962.19 164.22L962.19 168.62L957.79 168.62ZM959.09 164.22L963.49 164.22L963.49 168.62L959.09 168.62ZM960.39 164.22L964.79 164.22L964.79 168.62L960.39 168.62ZM961.69 164.22L966.09 164.22L966.09 168.62L961.69 168.62ZM963.00 164.22L967.40 164.22L967.40 168.62L963.00 168.62ZM964.30 164.22L968.70 164.22L968.70 168.62L964.30 168.62ZM965.61 164.21L970.01 164.21L970.01 168.61L965.61 168.61ZM966.92 164.21L971.32 164.21L971.32 168.61L966.92 168.61ZM968.23 164.21L972.63 164.21L972.63 168.61L968.23 168.61ZM969.55 164.21L973.95 164.21L973.95 168.61L969.55 168.61ZM970.86 164.21L975.26 164.21L975.26 168.61L970.86 168.61ZM972.18 164.21L976.58 164.21L976.58 168.61L972.18 168.61ZM973.50 164.20L977.90 164.20L977.90 168.60L973.50 168.60ZM974.82 164.20L979.22 164.20L979.22 168.60L974.82 168.60ZM976.14 164.20L980.54 164.20L980.54 168.60L976.14 168.60ZM977.46 164.20L981.86 164.20L981.86 168.60L977.46 168.60ZM978.79 164.20L983.19 164.20L983.19 168.60L978.79 168.60ZM980.12 164.20L984.52 164.20L984.52 168.60L980.12 168.60ZM981.45 164.19L985.85 164.19L985.85 168.59L981.45 168.59ZM982.78 164.19L987.18 164.19L987.18 168.59L982.78 168.59ZM984.11 164.19L988.51 164.19L988.51 168.59L984.11 168.59ZM985.44 164.19L989.84 164.19L989.84 168.59L985.44 168.59ZM986.78 164.19L991.18 164.19L991.18 168.59L986.78 168.59ZM988.11 164.19L992.51 164.19L992.51 168.59L988.11 168.59ZM989.45 164.18L993.85 164.18L993.85 168.58L989.45 168.58ZM990.79 164.18L995.19 164.18L995.19 168.58L990.79 168.58ZM992.14 164.18L996.54 164.18L996.54 168.58L992.14 168.58ZM993.48 164.18L997.88 164.18L997.88 168.58L993.48 168.58ZM994.82 164.18L999.22 164.18L999.22 168.58L994.82 168.58ZM996.17 164.18L1000.57 164.18L1000.57 168.58L996.17 168.58ZM997.52 164.18L1001.92 164.18L1001.92 168.58L997.52 168.58ZM998.87 164.18L1003.27 164.18L1003.27 168.58L998.87 168.58ZM1000.22 164.17L1004.62 164.17L1004.62 168.57L1000.22 168.57ZM1001.57 164.17L1005.97 164.17L1005.97 168.57L1001.57 168.57ZM1002.92 164.17L1007.32 164.17L1007.32 168.57L1002.92 168.57ZM1004.28 164.17L1008.68 164.17L1008.68 168.57L1004.28 168.57ZM1005.64 164.17L1010.04 164.17L1010.04 168.57L1005.64 168.57ZM1006.99 164.17L1011.39 164.17L1011.39 168.57L1006.99 168.57ZM1008.35 164.17L1012.75 164.17L1012.75 168.57L1008.35 168.57ZM1009.71 164.16L1014.11 164.16L1014.11 168.56L1009.71 168.56ZM1011.08 164.16L1015.48 164.16L1015.48 168.56L1011.08 168.56ZM1012.44 164.16L1016.84 164.16L1016.84 168.56L1012.44 168.56ZM1013.80 164.16L1018.20 164.16L1018.20 168.56L1013.80 168.56ZM1015.17 164.16L1019.57 164.16L1019.57 168.56L1015.17 168.56ZM1016.54 164.16L1020.94 164.16L1020.94 168.56L1016.54 168.56ZM1017.91 164.16L1022.31 164.16L1022.31 168.56L1017.91 168.56ZM1019.28 164.16L1023.68 164.16L1023.68 168.56L1019.28 168.56ZM1020.65 164.15L1025.05 164.15L1025.05 168.55L1020.65 168.55ZM1022.02 164.15L1026.42 164.15L1026.42 168.55L1022.02 168.55ZM1023.39 164.15L1027.79 164.15L1027.79 168.55L1023.39 168.55ZM1024.77 164.15L1029.17 164.15L1029.17 168.55L1024.77 168.55ZM1026.14 164.15L1030.54 164.15L1030.54 168.55L1026.14 168.55ZM1027.52 164.15L1031.92 164.15L1031.92 168.55L1027.52 168.55ZM1028.90 164.15L1033.30 164.15L1033.30 168.55L1028.90 168.55ZM1030.28 164.15L1034.68 164.15L1034.68 168.55L1030.28 168.55ZM1031.66 164.15L1036.06 164.15L1036.06 168.55L1031.66 168.55ZM1033.04 164.15L1037.44 164.15L1037.44 168.55L1033.04 168.55ZM1034.43 164.14L1038.83 164.14L1038.83 168.54L1034.43 168.54ZM1035.81 164.14L1040.21 164.14L1040.21 168.54L1035.81 168.54ZM1037.19 164.14L1041.59 164.14L1041.59 168.54L1037.19 168.54ZM1038.58 164.14L1042.98 164.14L1042.98 168.54L1038.58 168.54ZM1039.97 164.14L1044.37 164.14L1044.37 168.54L1039.97 168.54ZM1041.36 164.14L1045.76 164.14L1045.76 168.54L1041.36 168.54ZM1042.75 164.14L1047.15 164.14L1047.15 168.54L1042.75 168.54ZM1044.14 164.14L1048.54 164.14L1048.54 168.54L1044.14 168.54ZM1045.53 164.14L1049.93 164.14L1049.93 168.54L1045.53 168.54ZM1046.92 164.14L1051.32 164.14L1051.32 168.54L1046.92 168.54ZM1048.31 164.13L1052.71 164.13L1052.71 168.53L1048.31 168.53ZM1049.71 164.13L1054.11 164.13L1054.11 168.53L1049.71 168.53ZM1051.10 164.13L1055.50 164.13L1055.50 168.53L1051.10 168.53ZM1052.50 164.13L1056.90 164.13L1056.90 168.53L1052.50 168.53ZM1053.90 164.13L1058.30 164.13L1058.30 168.53L1053.90 168.53ZM1055.30 164.13L1059.70 164.13L1059.70 168.53L1055.30 168.53ZM1056.69 164.13L1061.09 164.13L1061.09 168.53L1056.69 168.53ZM1058.09 164.13L1062.49 164.13L1062.49 168.53L1058.09 168.53ZM1059.49 164.13L1063.89 164.13L1063.89 168.53L1059.49 168.53ZM1060.90 164.13L1065.30 164.13L1065.30 168.53L1060.90 168.53ZM1062.30 164.13L1066.70 164.13L1066.70 168.53L1062.30 168.53ZM1063.70 164.13L1068.10 164.13L1068.10 168.53L1063.70 168.53ZM1065.11 164.12L1069.51 164.12L1069.51 168.52L1065.11 168.52ZM1066.51 164.12L1070.91 164.12L1070.91 168.52L1066.51 168.52ZM1067.92 164.12L1072.32 164.12L1072.32 168.52L1067.92 168.52ZM1069.32 164.12L1073.72 164.12L1073.72 168.52L1069.32 168.52ZM1070.73 164.12L1075.13 164.12L1075.13 168.52L1070.73 168.52ZM1072.14 164.12L1076.54 164.12L1076.54 168.52L1072.14 168.52ZM1073.55 164.12L1077.95 164.12L1077.95 168.52L1073.55 168.52ZM1074.95 164.12L1079.35 164.12L1079.35 168.52L1074.95 168.52ZM1076.36 164.12L1080.76 164.12L1080.76 168.52L1076.36 168.52ZM1077.77 164.12L1082.17 164.12L1082.17 168.52L1077.77 168.52ZM1079.19 164.12L1083.59 164.12L1083.59 168.52L1079.19 168.52ZM1080.60 164.12L1085.00 164.12L1085.00 168.52L1080.60 168.52ZM1082.01 164.12L1086.41 164.12L1086.41 168.52L1082.01 168.52ZM1083.42 164.11L1087.82 164.11L1087.82 168.51L1083.42 168.51ZM1084.84 164.11L1089.24 164.11L1089.24 168.51L1084.84 168.51ZM1086.25 164.11L1090.65 164.11L1090.65 168.51L1086.25 168.51ZM1087.67 164.11L1092.07 164.11L1092.07 168.51L1087.67 168.51ZM1089.08 164.11L1093.48 164.11L1093.48 168.51L1089.08 168.51ZM1090.50 164.11L1094.90 164.11L1094.90 168.51L1090.50 168.51ZM1091.91 164.11L1096.31 164.11L1096.31 168.51L1091.91 168.51ZM1093.33 164.11L1097.73 164.11L1097.73 168.51L1093.33 168.51ZM1094.75 164.11L1099.15 164.11L1099.15 168.51L1094.75 168.51ZM1096.17 164.11L1100.57 164.11L1100.57 168.51L1096.17 168.51ZM1097.58 164.11L1101.98 164.11L1101.98 168.51L1097.58 168.51ZM1099.00 164.11L1103.40 164.11L1103.40 168.51L1099.00 168.51ZM1100.42 164.11L1104.82 164.11L1104.82 168.51L1100.42 168.51ZM1101.84 164.11L1106.24 164.11L1106.24 168.51L1101.84 168.51ZM1103.26 164.11L1107.66 164.11L1107.66 168.51L1103.26 168.51ZM1104.68 164.10L1109.08 164.10L1109.08 168.50L1104.68 168.50ZM1106.10 164.10L1110.50 164.10L1110.50 168.50L1106.10 168.50ZM1107.52 164.10L1111.92 164.10L1111.92 168.50L1107.52 168.50ZM1108.95 164.10L1113.35 164.10L1113.35 168.50L1108.95 168.50ZM1110.37 164.10L1114.77 164.10L1114.77 168.50L1110.37 168.50ZM1111.79 164.10L1116.19 164.10L1116.19 168.50L1111.79 168.50ZM1113.21 164.10L1117.61 164.10L1117.61 168.50L1113.21 168.50ZM1114.63 164.10L1119.03 164.10L1119.03 168.50L1114.63 168.50ZM1116.06 164.10L1120.46 164.10L1120.46 168.50L1116.06 168.50ZM1117.48 164.10L1121.88 164.10L1121.88 168.50L1117.48 168.50ZM1118.90 164.10L1123.30 164.10L1123.30 168.50L1118.90 168.50ZM1120.33 164.10L1124.73 164.10L1124.73 168.50L1120.33 168.50ZM1121.75 164.10L1126.15 164.10L1126.15 168.50L1121.75 168.50ZM1123.18 164.10L1127.58 164.10L1127.58 168.50L1123.18 168.50ZM1124.60 164.10L1129.00 164.10L1129.00 168.50L1124.60 168.50ZM1126.03 164.10L1130.43 164.10L1130.43 168.50L1126.03 168.50ZM1127.45 164.10L1131.85 164.10L1131.85 168.50L1127.45 168.50ZM1128.88 164.09L1133.28 164.09L1133.28 168.49L1128.88 168.49ZM1130.30 164.09L1134.70 164.09L1134.70 168.49L1130.30 168.49ZM1131.73 164.09L1136.13 164.09L1136.13 168.49L1131.73 168.49ZM1133.15 164.09L1137.55 164.09L1137.55 168.49L1133.15 168.49ZM1134.58 164.09L1138.98 164.09L1138.98 168.49L1134.58 168.49ZM1136.00 164.09L1140.40 164.09L1140.40 168.49L1136.00 168.49ZM1137.43 164.09L1141.83 164.09L1141.83 168.49L1137.43 168.49ZM1138.85 164.09L1143.25 164.09L1143.25 168.49L1138.85 168.49Z" fill="none" stroke="#000" stroke-width="0.55"/>
<use href="#m4" x="1142.48" y="166.29"/>
</g>
<rect x="371.6" y="21.5" width="156.8" height="75.9" fill="#fff" stroke="#222" stroke-width="1.1"/>
<g font-family='"Liberation Serif", "Times New Roman", serif' fill="#000">
<path d="M384.80 29.10L385.92 31.86L388.89 32.07L386.61 33.99L387.33 36.88L384.80 35.30L382.27 36.88L382.99 33.99L380.71 32.07L383.68 31.86Z" fill="#000"/>
<text x="394.20" y="37.70" font-size="18.2" font-style="italic">R</text>
<text x="404.46" y="37.70" font-size="18.2" font-style="italic">e</text>
<text x="412.88" y="40.70" font-size="12.6" font-style="italic" textLength="5.28" lengthAdjust="spacingAndGlyphs">&#964;</text>
<text x="421.69" y="38.90" font-size="18.0" textLength="14.79" lengthAdjust="spacingAndGlyphs">=</text>
<text x="440.22" y="37.70" font-size="18.2" textLength="74.92" lengthAdjust="spacingAndGlyphs">180 (LM)</text>
<path d="M381.4 46.50L388.2 49.70L381.4 52.90Z" fill="#000"/>
<text x="394.20" y="55.50" font-size="18.2" font-style="italic">R</text>
<text x="404.46" y="55.50" font-size="18.2" font-style="italic">e</text>
<text x="412.88" y="58.50" font-size="12.6" font-style="italic" textLength="5.28" lengthAdjust="spacingAndGlyphs">&#964;</text>
<text x="421.69" y="56.70" font-size="18.0" textLength="14.79" lengthAdjust="spacingAndGlyphs">=</text>
<text x="440.49" y="55.50" font-size="18.2" textLength="74.65" lengthAdjust="spacingAndGlyphs">550 (LM)</text>
<path d="M381.2 64.80L387.9 64.80L384.55 71.60Z" fill="#000"/>
<text x="394.20" y="73.80" font-size="18.2" font-style="italic">R</text>
<text x="404.46" y="73.80" font-size="18.2" font-style="italic">e</text>
<text x="412.88" y="76.80" font-size="12.6" font-style="italic" textLength="5.28" lengthAdjust="spacingAndGlyphs">&#964;</text>
<text x="421.69" y="75.00" font-size="18.0" textLength="14.79" lengthAdjust="spacingAndGlyphs">=</text>
<text x="440.78" y="73.80" font-size="18.2" textLength="76.65" lengthAdjust="spacingAndGlyphs">640 (ISK)</text>
<rect x="382.2" y="85.00" width="5" height="4.5" fill="#000"/>
<text x="394.20" y="91.70" font-size="18.2" font-style="italic">R</text>
<text x="404.46" y="91.70" font-size="18.2" font-style="italic">e</text>
<text x="412.88" y="94.70" font-size="12.6" font-style="italic" textLength="5.28" lengthAdjust="spacingAndGlyphs">&#964;</text>
<text x="421.69" y="92.90" font-size="18.0" textLength="14.79" lengthAdjust="spacingAndGlyphs">=</text>
<text x="440.49" y="91.70" font-size="18.2" textLength="84.66" lengthAdjust="spacingAndGlyphs">5200 (LM)</text>
</g>
<path d="M103.30 308.8v-4M103.30 16.2v4M191.64 308.8v-4M191.64 16.2v4M279.98 308.8v-4M279.98 16.2v4M368.32 308.8v-4M368.32 16.2v4M456.66 308.8v-4M456.66 16.2v4M545.00 308.8v-4M545.00 16.2v4M129.89 308.8v-2.2M129.89 16.2v2.2M145.45 308.8v-2.2M145.45 16.2v2.2M156.49 308.8v-2.2M156.49 16.2v2.2M165.05 308.8v-2.2M165.05 16.2v2.2M172.04 308.8v-2.2M172.04 16.2v2.2M177.96 308.8v-2.2M177.96 16.2v2.2M183.08 308.8v-2.2M183.08 16.2v2.2M187.60 308.8v-2.2M187.60 16.2v2.2M218.23 308.8v-2.2M218.23 16.2v2.2M233.79 308.8v-2.2M233.79 16.2v2.2M244.83 308.8v-2.2M244.83 16.2v2.2M253.39 308.8v-2.2M253.39 16.2v2.2M260.38 308.8v-2.2M260.38 16.2v2.2M266.30 308.8v-2.2M266.30 16.2v2.2M271.42 308.8v-2.2M271.42 16.2v2.2M275.94 308.8v-2.2M275.94 16.2v2.2M306.57 308.8v-2.2M306.57 16.2v2.2M322.13 308.8v-2.2M322.13 16.2v2.2M333.17 308.8v-2.2M333.17 16.2v2.2M341.73 308.8v-2.2M341.73 16.2v2.2M348.72 308.8v-2.2M348.72 16.2v2.2M354.64 308.8v-2.2M354.64 16.2v2.2M359.76 308.8v-2.2M359.76 16.2v2.2M364.28 308.8v-2.2M364.28 16.2v2.2M394.91 308.8v-2.2M394.91 16.2v2.2M410.47 308.8v-2.2M410.47 16.2v2.2M421.51 308.8v-2.2M421.51 16.2v2.2M430.07 308.8v-2.2M430.07 16.2v2.2M437.06 308.8v-2.2M437.06 16.2v2.2M442.98 308.8v-2.2M442.98 16.2v2.2M448.10 308.8v-2.2M448.10 16.2v2.2M452.62 308.8v-2.2M452.62 16.2v2.2M483.25 308.8v-2.2M483.25 16.2v2.2M498.81 308.8v-2.2M498.81 16.2v2.2M509.85 308.8v-2.2M509.85 16.2v2.2M518.41 308.8v-2.2M518.41 16.2v2.2M525.40 308.8v-2.2M525.40 16.2v2.2M531.32 308.8v-2.2M531.32 16.2v2.2M536.44 308.8v-2.2M536.44 16.2v2.2M540.96 308.8v-2.2M540.96 16.2v2.2M103.3 16.20h4M545.0 16.20h-4M103.3 64.97h4M545.0 64.97h-4M103.3 113.73h4M545.0 113.73h-4M103.3 162.50h4M545.0 162.50h-4M103.3 211.27h4M545.0 211.27h-4M103.3 260.03h4M545.0 260.03h-4M103.3 308.80h4M545.0 308.80h-4" stroke="#111" stroke-width="1" fill="none"/>
<path d="M700.00 316.3v-4M700.00 16.0v4M788.66 316.3v-4M788.66 16.0v4M877.32 316.3v-4M877.32 16.0v4M965.98 316.3v-4M965.98 16.0v4M1054.64 316.3v-4M1054.64 16.0v4M1143.30 316.3v-4M1143.30 16.0v4M700.0 16.00h4M1143.3 16.00h-4M700.0 66.05h4M1143.3 66.05h-4M700.0 116.10h4M1143.3 116.10h-4M700.0 166.15h4M1143.3 166.15h-4M700.0 216.20h4M1143.3 216.20h-4M700.0 266.25h4M1143.3 266.25h-4M700.0 316.30h4M1143.3 316.30h-4" stroke="#111" stroke-width="1" fill="none"/>
<rect x="103.3" y="16.2" width="441.70" height="292.60" fill="none" stroke="#222" stroke-width="1.2"/>
<rect x="700.0" y="16.0" width="443.30" height="300.30" fill="none" stroke="#222" stroke-width="1.2"/>
<g font-family='"Liberation Serif", "Times New Roman", serif' fill="#000" stroke="#000" stroke-width="0.3">
<text x="2.35" y="23.90" font-size="28.5">(</text>
<text x="11.67" y="23.90" font-size="28.5" font-style="italic" textLength="15.60" lengthAdjust="spacingAndGlyphs">a</text>
<text x="27.08" y="23.90" font-size="28.5">)</text>
<text x="597.35" y="23.90" font-size="28.5">(</text>
<text x="606.98" y="23.90" font-size="28.5" font-style="italic" textLength="15.02" lengthAdjust="spacingAndGlyphs">b</text>
<text x="622.08" y="23.90" font-size="28.5">)</text>
<text x="63.38" y="23.30" font-size="26" textLength="31.71" lengthAdjust="spacingAndGlyphs">0.3</text>
<text x="63.35" y="72.75" font-size="26" textLength="32.69" lengthAdjust="spacingAndGlyphs">0.2</text>
<text x="63.40" y="122.20" font-size="26" textLength="31.20" lengthAdjust="spacingAndGlyphs">0.1</text>
<text x="81.90" y="171.65" font-size="26" textLength="14.39" lengthAdjust="spacingAndGlyphs">0</text>
<text x="63.42" y="221.10" font-size="26" textLength="30.66" lengthAdjust="spacingAndGlyphs">0.1</text>
<text x="45.16" y="222.83" font-size="26" textLength="18.54" lengthAdjust="spacingAndGlyphs">&#8722;</text>
<text x="63.35" y="270.55" font-size="26" textLength="32.69" lengthAdjust="spacingAndGlyphs">0.2</text>
<text x="45.16" y="272.28" font-size="26" textLength="18.54" lengthAdjust="spacingAndGlyphs">&#8722;</text>
<text x="63.39" y="320.00" font-size="26" textLength="31.49" lengthAdjust="spacingAndGlyphs">0.3</text>
<text x="45.16" y="321.73" font-size="26" textLength="18.54" lengthAdjust="spacingAndGlyphs">&#8722;</text>
<text x="658.48" y="27.70" font-size="26" textLength="31.71" lengthAdjust="spacingAndGlyphs">0.3</text>
<text x="658.45" y="77.17" font-size="26" textLength="32.69" lengthAdjust="spacingAndGlyphs">0.2</text>
<text x="658.50" y="126.64" font-size="26" textLength="31.20" lengthAdjust="spacingAndGlyphs">0.1</text>
<text x="677.00" y="176.11" font-size="26" textLength="14.39" lengthAdjust="spacingAndGlyphs">0</text>
<text x="658.52" y="225.58" font-size="26" textLength="30.66" lengthAdjust="spacingAndGlyphs">0.1</text>
<text x="640.16" y="227.31" font-size="26" textLength="18.54" lengthAdjust="spacingAndGlyphs">&#8722;</text>
<text x="658.45" y="275.05" font-size="26" textLength="32.69" lengthAdjust="spacingAndGlyphs">0.2</text>
<text x="640.16" y="276.78" font-size="26" textLength="18.54" lengthAdjust="spacingAndGlyphs">&#8722;</text>
<text x="658.49" y="324.52" font-size="26" textLength="31.49" lengthAdjust="spacingAndGlyphs">0.3</text>
<text x="640.16" y="326.25" font-size="26" textLength="18.54" lengthAdjust="spacingAndGlyphs">&#8722;</text>
<text x="81.05" y="339.30" font-size="25.5" textLength="24.48" lengthAdjust="spacingAndGlyphs">10</text>
<text x="105.91" y="330.78" font-size="16.5" textLength="12.36" lengthAdjust="spacingAndGlyphs">&#8722;</text>
<text x="118.85" y="329.90" font-size="16.5">1</text>
<text x="176.17" y="339.30" font-size="25.5" textLength="24.71" lengthAdjust="spacingAndGlyphs">10</text>
<text x="200.81" y="329.90" font-size="16.5">0</text>
<text x="264.51" y="339.30" font-size="25.5" textLength="24.71" lengthAdjust="spacingAndGlyphs">10</text>
<text x="289.83" y="329.90" font-size="16.5">1</text>
<text x="352.85" y="339.30" font-size="25.5" textLength="24.71" lengthAdjust="spacingAndGlyphs">10</text>
<text x="377.39" y="329.90" font-size="16.5">2</text>
<text x="441.19" y="339.30" font-size="25.5" textLength="24.71" lengthAdjust="spacingAndGlyphs">10</text>
<text x="465.67" y="329.90" font-size="16.5">3</text>
<text x="529.53" y="339.30" font-size="25.5" textLength="24.71" lengthAdjust="spacingAndGlyphs">10</text>
<text x="554.48" y="329.90" font-size="16.5">4</text>
<text x="693.42" y="342.80" font-size="25.5">0</text>
<text x="771.08" y="342.80" font-size="25.5">0.2</text>
<text x="861.48" y="342.80" font-size="25.5">0.4</text>
<text x="948.16" y="342.80" font-size="25.5">0.6</text>
<text x="1040.46" y="342.80" font-size="25.5">0.8</text>
<text x="1127.93" y="342.80" font-size="25.5">1.0</text>
<text x="243.30" y="374.80" font-size="28.7" font-style="italic" textLength="11.69" lengthAdjust="spacingAndGlyphs">y</text>
<text x="256.60" y="380.60" font-size="38.6" textLength="11.30" lengthAdjust="spacingAndGlyphs">/</text>
<text x="270.58" y="374.90" font-size="28.4" textLength="10.76" lengthAdjust="spacingAndGlyphs">(</text>
<text x="283.52" y="374.80" font-size="28.5" font-style="italic" textLength="12.18" lengthAdjust="spacingAndGlyphs">&#957;</text>
<text x="296.80" y="380.60" font-size="38.6" textLength="11.30" lengthAdjust="spacingAndGlyphs">/</text>
<text x="308.59" y="375.00" font-size="28.5" font-style="italic" textLength="16.18" lengthAdjust="spacingAndGlyphs">u</text>
<text x="324.71" y="378.70" font-size="20.9" font-style="italic" textLength="7.92" lengthAdjust="spacingAndGlyphs">&#964;</text>
<text x="332.47" y="374.90" font-size="28.4" textLength="10.63" lengthAdjust="spacingAndGlyphs">)</text>
<text x="348.85" y="378.40" font-size="31.6" textLength="24.36" lengthAdjust="spacingAndGlyphs">=</text>
<text x="380.00" y="374.80" font-size="28.7" font-style="italic" textLength="11.69" lengthAdjust="spacingAndGlyphs">y</text>
<text x="391.60" y="368.10" font-size="28.2" textLength="15.88" lengthAdjust="spacingAndGlyphs">+</text>
<text x="902.96" y="374.60" font-size="28.7" font-style="italic" textLength="10.43" lengthAdjust="spacingAndGlyphs">y</text>
<text x="915.90" y="380.40" font-size="38.6" textLength="11.70" lengthAdjust="spacingAndGlyphs">/</text>
<text x="928.74" y="374.60" font-size="28.5" font-style="italic" textLength="12.12" lengthAdjust="spacingAndGlyphs">&#948;</text>
</g>
<g font-family='"FreeSerif", "DejaVu Math TeX Gyre", "Liberation Serif", serif' fill="#000" stroke="#fff" stroke-width="0.2">
<text x="320.0" y="96.8" font-size="27.5">&#x1D4AB;</text>
<text x="342.3" y="232.75" font-size="27">&#x2130;</text>
<text x="777.1" y="96.0" font-size="27.5">&#x1D4AB;</text>
<text x="757.8" y="239.5" font-size="27">&#x2130;</text>
</g>
<g font-family='"Liberation Serif", "Times New Roman", serif' fill="#000">
<text x="343.42" y="100.20" font-size="15.6" font-style="italic" textLength="7.44" lengthAdjust="spacingAndGlyphs">k</text>
<text x="344.93" y="91.10" font-size="23.4" textLength="13.21" lengthAdjust="spacingAndGlyphs">+</text>
<text x="355.61" y="235.90" font-size="15.6" font-style="italic" textLength="7.54" lengthAdjust="spacingAndGlyphs">k</text>
<text x="359.68" y="226.30" font-size="22.2" textLength="12.73" lengthAdjust="spacingAndGlyphs">+</text>
<text x="800.38" y="98.80" font-size="15.6" font-style="italic" textLength="7.95" lengthAdjust="spacingAndGlyphs">k</text>
<text x="802.33" y="89.40" font-size="22.5" textLength="13.21" lengthAdjust="spacingAndGlyphs">+</text>
<text x="771.31" y="243.00" font-size="15.6" font-style="italic" textLength="7.54" lengthAdjust="spacingAndGlyphs">k</text>
<text x="774.73" y="232.90" font-size="22.6" textLength="13.21" lengthAdjust="spacingAndGlyphs">+</text>
</g>
</svg></body></html>
